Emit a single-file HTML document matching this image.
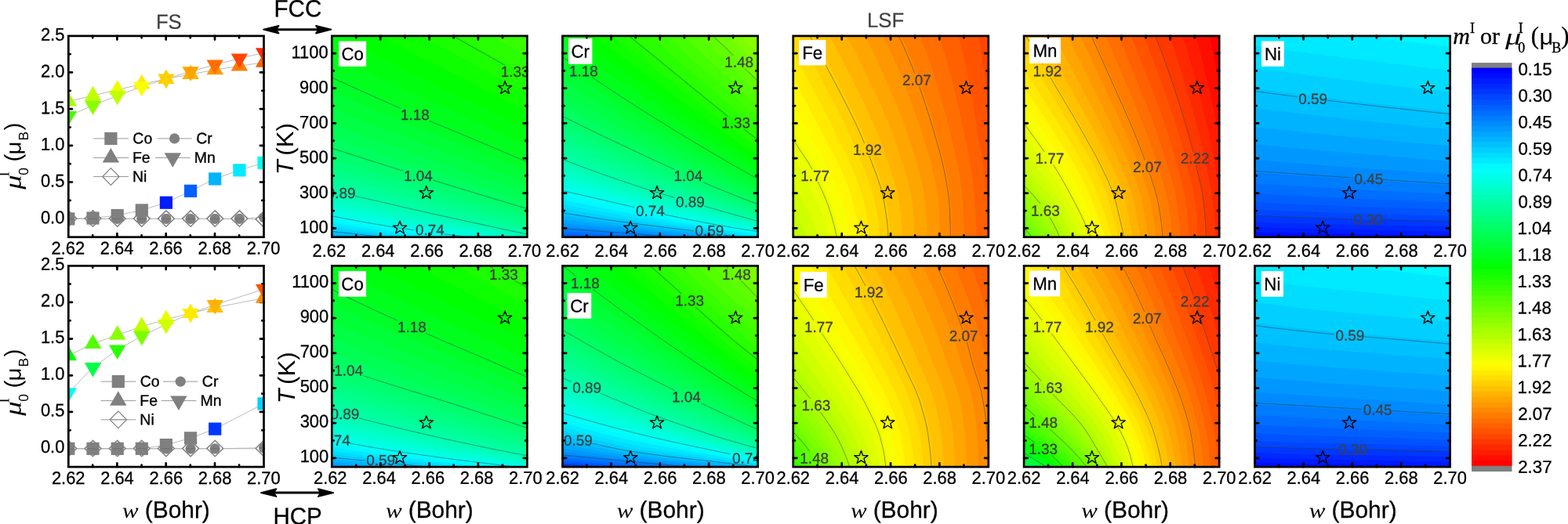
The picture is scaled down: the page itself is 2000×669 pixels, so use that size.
<!DOCTYPE html>
<html lang="en"><head><meta charset="utf-8"><title>Figure</title>
<style>html,body{margin:0;padding:0;background:#fff;overflow:hidden}svg{display:block}</style>
</head><body>
<svg width="2000" height="669" viewBox="0 0 2000 669">
<rect width="2000" height="669" fill="#fff"/>
<path d="M149.4,302.7v-4.7M149.4,45.9v4.7M211.7,302.7v-4.7M211.7,45.9v4.7M274,302.7v-4.7M274,45.9v4.7M87.3,279.2h4.7M336.6,279.2h-4.7M87.3,232.5h4.7M336.6,232.5h-4.7M87.3,185.8h4.7M336.6,185.8h-4.7M87.3,139.1h4.7M336.6,139.1h-4.7M87.3,92.4h4.7M336.6,92.4h-4.7M118.2,302.7v-2.4M118.2,45.9v2.4M180.6,302.7v-2.4M180.6,45.9v2.4M242.8,302.7v-2.4M242.8,45.9v2.4M305.1,302.7v-2.4M305.1,45.9v2.4M87.3,255.9h2.4M336.6,255.9h-2.4M87.3,209.2h2.4M336.6,209.2h-2.4M87.3,162.5h2.4M336.6,162.5h-2.4M87.3,115.8h2.4M336.6,115.8h-2.4M87.3,69.1h2.4M336.6,69.1h-2.4" stroke="#000" stroke-width="2.7" stroke-linecap="round" fill="none"/>
<clipPath id="f0"><rect x="87.3" y="45.9" width="249.2" height="256.8"/></clipPath>
<g clip-path="url(#f0)">
<path d="M87.3,279.4 118.5,278.5 149.7,275 180.8,268.4 211.9,258.7 243.1,243.8 274.2,228.4 305.4,217.3 336.6,207.8" fill="none" stroke="#b2b2b2" stroke-width="0.9"/>
<path d="M87.3,279.4 118.5,279.4 149.7,279.4 180.8,279.4 211.9,279.4 243.1,279.4 274.2,279.4 305.4,279.4 336.6,277.5" fill="none" stroke="#b2b2b2" stroke-width="0.9"/>
<path d="M87.3,129.4 118.5,122.2 149.7,114.6 180.8,107.3 211.9,100.8 243.1,94.9 274.2,89.1 305.4,84.3 336.6,79.6" fill="none" stroke="#b2b2b2" stroke-width="0.9"/>
<path d="M87.3,148.2 118.5,134.6 149.7,122 180.8,110.8 211.9,100.8 243.1,91.4 274.2,82.7 305.4,74.6 336.6,67.4" fill="none" stroke="#b2b2b2" stroke-width="0.9"/>
<path d="M87.3,279.4 118.5,279.4 149.7,279.4 180.8,279.4 211.9,279.4 243.1,279.4 274.2,279.4 305.4,279.4 336.6,280.3" fill="none" stroke="#b2b2b2" stroke-width="0.9"/>
<path d="M87.3,268.9l10.4,10.2l-10.4,10.2l-10.4,-10.2z" fill="#fff" stroke="#808080" stroke-width="1.5"/>
<path d="M118.5,268.9l10.4,10.2l-10.4,10.2l-10.4,-10.2z" fill="#fff" stroke="#808080" stroke-width="1.5"/>
<path d="M149.7,268.9l10.4,10.2l-10.4,10.2l-10.4,-10.2z" fill="#fff" stroke="#808080" stroke-width="1.5"/>
<path d="M180.8,268.9l10.4,10.2l-10.4,10.2l-10.4,-10.2z" fill="#fff" stroke="#808080" stroke-width="1.5"/>
<path d="M211.9,268.9l10.4,10.2l-10.4,10.2l-10.4,-10.2z" fill="#fff" stroke="#808080" stroke-width="1.5"/>
<path d="M243.1,268.9l10.4,10.2l-10.4,10.2l-10.4,-10.2z" fill="#fff" stroke="#808080" stroke-width="1.5"/>
<path d="M274.2,268.9l10.4,10.2l-10.4,10.2l-10.4,-10.2z" fill="#fff" stroke="#808080" stroke-width="1.5"/>
<path d="M305.4,268.9l10.4,10.2l-10.4,10.2l-10.4,-10.2z" fill="#fff" stroke="#808080" stroke-width="1.5"/>
<path d="M336.6,269.8l10.4,10.2l-10.4,10.2l-10.4,-10.2z" fill="#fff" stroke="#808080" stroke-width="1.5"/>
<rect x="79.2" y="271.3" width="16.2" height="16.2" fill="#808080"/>
<rect x="110.4" y="270.4" width="16.2" height="16.2" fill="#808080"/>
<rect x="141.6" y="266.9" width="16.2" height="16.2" fill="#808080"/>
<rect x="172.7" y="260.3" width="16.2" height="16.2" fill="#808080"/>
<rect x="203.8" y="250.6" width="16.2" height="16.2" fill="#001cff"/>
<rect x="235" y="235.7" width="16.2" height="16.2" fill="#0060ff"/>
<rect x="266.1" y="220.3" width="16.2" height="16.2" fill="#00b3ff"/>
<rect x="297.3" y="209.2" width="16.2" height="16.2" fill="#00eaff"/>
<rect x="328.4" y="199.7" width="16.2" height="16.2" fill="#00ffea"/>
<circle cx="87.3" cy="279.4" r="6.6" fill="#808080"/>
<circle cx="118.5" cy="279.4" r="6.6" fill="#808080"/>
<circle cx="149.7" cy="279.4" r="6.6" fill="#808080"/>
<circle cx="180.8" cy="279.4" r="6.6" fill="#808080"/>
<circle cx="211.9" cy="279.4" r="6.6" fill="#808080"/>
<circle cx="243.1" cy="279.4" r="6.6" fill="#808080"/>
<circle cx="274.2" cy="279.4" r="6.6" fill="#808080"/>
<circle cx="305.4" cy="279.4" r="6.6" fill="#808080"/>
<circle cx="336.6" cy="277.5" r="6.6" fill="#808080"/>
<path d="M87.3,117l10.7,18.6h-21.4z" fill="#a5ff00"/>
<path d="M118.5,109.8l10.7,18.6h-21.4z" fill="#c1ff00"/>
<path d="M149.7,102.2l10.7,18.6h-21.4z" fill="#eaff00"/>
<path d="M180.8,94.9l10.7,18.6h-21.4z" fill="#ffea00"/>
<path d="M211.9,88.4l10.7,18.6h-21.4z" fill="#ffcf00"/>
<path d="M243.1,82.5l10.7,18.6h-21.4z" fill="#ffb300"/>
<path d="M274.2,76.7l10.7,18.6h-21.4z" fill="#ff9800"/>
<path d="M305.4,71.9l10.7,18.6h-21.4z" fill="#ff7c00"/>
<path d="M336.6,67.2l10.7,18.6h-21.4z" fill="#ff6000"/>
<path d="M87.3,160.6l10.7,-18.6h-21.4z" fill="#45ff00"/>
<path d="M118.5,147l10.7,-18.6h-21.4z" fill="#8aff00"/>
<path d="M149.7,134.4l10.7,-18.6h-21.4z" fill="#c1ff00"/>
<path d="M180.8,123.2l10.7,-18.6h-21.4z" fill="#f8ff00"/>
<path d="M211.9,113.2l10.7,-18.6h-21.4z" fill="#ffcf00"/>
<path d="M243.1,103.8l10.7,-18.6h-21.4z" fill="#ffa500"/>
<path d="M274.2,95.1l10.7,-18.6h-21.4z" fill="#ff6e00"/>
<path d="M305.4,87l10.7,-18.6h-21.4z" fill="#ff4500"/>
<path d="M336.6,79.8l10.7,-18.6h-21.4z" fill="#ff2900"/>
<path d="M81,279.4h12.6M112.2,279.4h12.6M143.3,279.4h12.6M174.5,279.4h12.6M205.6,279.4h12.6M236.8,279.4h12.6M267.9,279.4h12.6M299.1,279.4h12.6M330.2,277.5h12.6" fill="none" stroke="#000" stroke-opacity="0.14" stroke-width="1"/>
</g>
<path d="M119.1,176.9H164" stroke="#999" stroke-width="1" fill="none"/>
<rect x="133.3" y="168.8" width="16.2" height="16.2" fill="#808080"/>
<text transform="translate(169.32 183.3) scale(0.99 1) rotate(0.03)" font-family="Liberation Sans, sans-serif" font-size="19.7" stroke="#000" stroke-width="0.3">Co</text>
<path d="M200.4,176.9H244.7" stroke="#999" stroke-width="1" fill="none"/>
<circle cx="222.6" cy="176.9" r="6.6" fill="#808080"/>
<text transform="translate(250.22 183.3) scale(0.99 1) rotate(0.03)" font-family="Liberation Sans, sans-serif" font-size="19.7" stroke="#000" stroke-width="0.3">Cr</text>
<path d="M119.1,201.4H164" stroke="#999" stroke-width="1" fill="none"/>
<path d="M141.4,189l10.7,18.6h-21.4z" fill="#808080"/>
<text transform="translate(168.94 207.8) scale(0.99 1) rotate(0.03)" font-family="Liberation Sans, sans-serif" font-size="19.7" stroke="#000" stroke-width="0.3">Fe</text>
<path d="M198,201.4H242.7" stroke="#999" stroke-width="1" fill="none"/>
<path d="M220.3,213.8l10.7,-18.6h-21.4z" fill="#808080"/>
<text transform="translate(247.84 207.8) scale(0.99 1) rotate(0.03)" font-family="Liberation Sans, sans-serif" font-size="19.7" stroke="#000" stroke-width="0.3">Mn</text>
<path d="M119.1,225.5H164" stroke="#999" stroke-width="1" fill="none"/>
<path d="M141.4,214.6l10.7,10.9l-10.7,10.9l-10.7,-10.9z" fill="none" stroke="#808080" stroke-width="1.2"/>
<path d="M131.4,225.5h20" stroke="#999" stroke-width="1" fill="none"/>
<text transform="translate(168.94 232) scale(0.99 1) rotate(0.03)" font-family="Liberation Sans, sans-serif" font-size="19.7" stroke="#000" stroke-width="0.3">Ni</text>
<rect x="87.3" y="45.9" width="249.2" height="256.8" fill="none" stroke="#000" stroke-width="2.7"/>
<text transform="translate(82.3 285.25) scale(0.96 1) rotate(0.03)" text-anchor="end" font-family="Liberation Sans, sans-serif" font-size="22.8" stroke="#000" stroke-width="0.3">0.0</text>
<text transform="translate(82.3 238.56) scale(0.96 1) rotate(0.03)" text-anchor="end" font-family="Liberation Sans, sans-serif" font-size="22.8" stroke="#000" stroke-width="0.3">0.5</text>
<text transform="translate(82.3 191.87) scale(0.96 1) rotate(0.03)" text-anchor="end" font-family="Liberation Sans, sans-serif" font-size="22.8" stroke="#000" stroke-width="0.3">1.0</text>
<text transform="translate(82.3 145.18) scale(0.96 1) rotate(0.03)" text-anchor="end" font-family="Liberation Sans, sans-serif" font-size="22.8" stroke="#000" stroke-width="0.3">1.5</text>
<text transform="translate(82.3 98.49) scale(0.96 1) rotate(0.03)" text-anchor="end" font-family="Liberation Sans, sans-serif" font-size="22.8" stroke="#000" stroke-width="0.3">2.0</text>
<text transform="translate(82.3 51.8) scale(0.96 1) rotate(0.03)" text-anchor="end" font-family="Liberation Sans, sans-serif" font-size="22.8" stroke="#000" stroke-width="0.3">2.5</text>
<g transform="translate(26.4,241.8) rotate(-89.97)" font-size="29.6"><text transform="scale(1.2 1)" font-family="Liberation Serif, serif" font-style="italic" font-size="30.5">μ</text><text x="16.3" y="-14.9" font-family="Liberation Serif, serif" font-size="19">I</text><text x="18" y="9.5" font-family="Liberation Sans, sans-serif" font-size="17.5">0</text><text x="35.3" y="0" font-family="Liberation Sans, sans-serif">(</text><text transform="translate(44.3 0) scale(1.09 1)" font-family="Liberation Sans, sans-serif" font-size="27.1">μ</text><text x="62.2" y="9.5" font-family="Liberation Sans, sans-serif" font-size="17.5">B</text><text x="75.2" y="0" font-family="Liberation Sans, sans-serif">)</text></g>
<path d="M149.4,596.1v-4.7M149.4,339.4v4.7M211.7,596.1v-4.7M211.7,339.4v4.7M274,596.1v-4.7M274,339.4v4.7M87.3,572.6h4.7M336.6,572.6h-4.7M87.3,525.9h4.7M336.6,525.9h-4.7M87.3,479.3h4.7M336.6,479.3h-4.7M87.3,432.6h4.7M336.6,432.6h-4.7M87.3,385.9h4.7M336.6,385.9h-4.7M118.2,596.1v-2.4M118.2,339.4v2.4M180.6,596.1v-2.4M180.6,339.4v2.4M242.8,596.1v-2.4M242.8,339.4v2.4M305.1,596.1v-2.4M305.1,339.4v2.4M87.3,549.3h2.4M336.6,549.3h-2.4M87.3,502.6h2.4M336.6,502.6h-2.4M87.3,455.9h2.4M336.6,455.9h-2.4M87.3,409.3h2.4M336.6,409.3h-2.4M87.3,362.6h2.4M336.6,362.6h-2.4" stroke="#000" stroke-width="2.7" stroke-linecap="round" fill="none"/>
<clipPath id="f1"><rect x="87.3" y="339.4" width="249.2" height="256.7"/></clipPath>
<g clip-path="url(#f1)">
<path d="M87.3,572.8 118.5,572.8 149.7,572.8 180.8,572.8 211.9,568.1 243.1,559.3 274.2,547.6 336.6,515.4" fill="none" stroke="#b2b2b2" stroke-width="0.9"/>
<path d="M87.3,572.8 118.5,572.8 149.7,572.8 180.8,572.8 211.9,572.8 243.1,572.8 274.2,572.8 336.6,571.8" fill="none" stroke="#b2b2b2" stroke-width="0.9"/>
<path d="M87.3,454 118.5,438.9 149.7,427.6 180.8,416.9 211.9,407.8 243.1,399.9 274.2,392.7 336.6,380.5" fill="none" stroke="#b2b2b2" stroke-width="0.9"/>
<path d="M87.3,501.5 118.5,469.2 149.7,446.7 180.8,429 211.9,414.1 243.1,400.1 274.2,389.2 336.6,369.1" fill="none" stroke="#b2b2b2" stroke-width="0.9"/>
<path d="M87.3,572.8 118.5,572.8 149.7,572.8 180.8,572.8 211.9,572.8 243.1,572.8 274.2,572.8 336.6,572.8" fill="none" stroke="#b2b2b2" stroke-width="0.9"/>
<path d="M87.3,562.3l10.4,10.2l-10.4,10.2l-10.4,-10.2z" fill="#fff" stroke="#808080" stroke-width="1.5"/>
<path d="M118.5,562.3l10.4,10.2l-10.4,10.2l-10.4,-10.2z" fill="#fff" stroke="#808080" stroke-width="1.5"/>
<path d="M149.7,562.3l10.4,10.2l-10.4,10.2l-10.4,-10.2z" fill="#fff" stroke="#808080" stroke-width="1.5"/>
<path d="M180.8,562.3l10.4,10.2l-10.4,10.2l-10.4,-10.2z" fill="#fff" stroke="#808080" stroke-width="1.5"/>
<path d="M211.9,562.3l10.4,10.2l-10.4,10.2l-10.4,-10.2z" fill="#fff" stroke="#808080" stroke-width="1.5"/>
<path d="M243.1,562.3l10.4,10.2l-10.4,10.2l-10.4,-10.2z" fill="#fff" stroke="#808080" stroke-width="1.5"/>
<path d="M274.2,562.3l10.4,10.2l-10.4,10.2l-10.4,-10.2z" fill="#fff" stroke="#808080" stroke-width="1.5"/>
<path d="M336.6,562.3l10.4,10.2l-10.4,10.2l-10.4,-10.2z" fill="#fff" stroke="#808080" stroke-width="1.5"/>
<rect x="79.2" y="564.7" width="16.2" height="16.2" fill="#808080"/>
<rect x="110.4" y="564.7" width="16.2" height="16.2" fill="#808080"/>
<rect x="141.6" y="564.7" width="16.2" height="16.2" fill="#808080"/>
<rect x="172.7" y="564.7" width="16.2" height="16.2" fill="#808080"/>
<rect x="203.8" y="560" width="16.2" height="16.2" fill="#808080"/>
<rect x="235" y="551.2" width="16.2" height="16.2" fill="#808080"/>
<rect x="266.1" y="539.5" width="16.2" height="16.2" fill="#0037ff"/>
<rect x="328.4" y="507.3" width="16.2" height="16.2" fill="#00cfff"/>
<circle cx="87.3" cy="572.8" r="6.6" fill="#808080"/>
<circle cx="118.5" cy="572.8" r="6.6" fill="#808080"/>
<circle cx="149.7" cy="572.8" r="6.6" fill="#808080"/>
<circle cx="180.8" cy="572.8" r="6.6" fill="#808080"/>
<circle cx="211.9" cy="572.8" r="6.6" fill="#808080"/>
<circle cx="243.1" cy="572.8" r="6.6" fill="#808080"/>
<circle cx="274.2" cy="572.8" r="6.6" fill="#808080"/>
<circle cx="336.6" cy="571.8" r="6.6" fill="#808080"/>
<path d="M87.3,441.6l10.7,18.6h-21.4z" fill="#00ff00"/>
<path d="M118.5,426.5l10.7,18.6h-21.4z" fill="#53ff00"/>
<path d="M149.7,415.2l10.7,18.6h-21.4z" fill="#8aff00"/>
<path d="M180.8,404.5l10.7,18.6h-21.4z" fill="#c1ff00"/>
<path d="M211.9,395.4l10.7,18.6h-21.4z" fill="#eaff00"/>
<path d="M243.1,387.5l10.7,18.6h-21.4z" fill="#ffea00"/>
<path d="M274.2,380.3l10.7,18.6h-21.4z" fill="#ffc100"/>
<path d="M336.6,368.1l10.7,18.6h-21.4z" fill="#ff8a00"/>
<path d="M87.3,513.9l10.7,-18.6h-21.4z" fill="#00ffea"/>
<path d="M118.5,481.6l10.7,-18.6h-21.4z" fill="#00ff45"/>
<path d="M149.7,459.1l10.7,-18.6h-21.4z" fill="#29ff00"/>
<path d="M180.8,441.4l10.7,-18.6h-21.4z" fill="#7cff00"/>
<path d="M211.9,426.5l10.7,-18.6h-21.4z" fill="#cfff00"/>
<path d="M243.1,412.5l10.7,-18.6h-21.4z" fill="#ffea00"/>
<path d="M274.2,401.6l10.7,-18.6h-21.4z" fill="#ffb300"/>
<path d="M336.6,381.5l10.7,-18.6h-21.4z" fill="#ff5300"/>
<path d="M81,572.8h12.6M112.2,572.8h12.6M143.3,572.8h12.6M174.5,572.8h12.6M205.6,572.8h12.6M236.8,572.8h12.6M267.9,572.8h12.6M330.2,571.8h12.6" fill="none" stroke="#000" stroke-opacity="0.14" stroke-width="1"/>
</g>
<path d="M128.5,487.1H173.4" stroke="#999" stroke-width="1" fill="none"/>
<rect x="142.7" y="479" width="16.2" height="16.2" fill="#808080"/>
<text transform="translate(178.72 493.55) scale(0.99 1) rotate(0.03)" font-family="Liberation Sans, sans-serif" font-size="19.7" stroke="#000" stroke-width="0.3">Co</text>
<path d="M208,487.1H252.3" stroke="#999" stroke-width="1" fill="none"/>
<circle cx="230.2" cy="487.1" r="6.6" fill="#808080"/>
<text transform="translate(257.82 493.55) scale(0.99 1) rotate(0.03)" font-family="Liberation Sans, sans-serif" font-size="19.7" stroke="#000" stroke-width="0.3">Cr</text>
<path d="M128.5,511.6H173.4" stroke="#999" stroke-width="1" fill="none"/>
<path d="M150.8,499.2l10.7,18.6h-21.4z" fill="#808080"/>
<text transform="translate(178.34 518.05) scale(0.99 1) rotate(0.03)" font-family="Liberation Sans, sans-serif" font-size="19.7" stroke="#000" stroke-width="0.3">Fe</text>
<path d="M205.6,511.6H250.3" stroke="#999" stroke-width="1" fill="none"/>
<path d="M227.9,524l10.7,-18.6h-21.4z" fill="#808080"/>
<text transform="translate(255.44 518.05) scale(0.99 1) rotate(0.03)" font-family="Liberation Sans, sans-serif" font-size="19.7" stroke="#000" stroke-width="0.3">Mn</text>
<path d="M128.5,535.8H173.4" stroke="#999" stroke-width="1" fill="none"/>
<path d="M150.8,524.9l10.7,10.9l-10.7,10.9l-10.7,-10.9z" fill="none" stroke="#808080" stroke-width="1.2"/>
<path d="M140.8,535.8h20" stroke="#999" stroke-width="1" fill="none"/>
<text transform="translate(178.34 542.25) scale(0.99 1) rotate(0.03)" font-family="Liberation Sans, sans-serif" font-size="19.7" stroke="#000" stroke-width="0.3">Ni</text>
<rect x="87.3" y="339.4" width="249.2" height="256.7" fill="none" stroke="#000" stroke-width="2.7"/>
<text transform="translate(82.3 578.06) scale(0.96 1) rotate(0.03)" text-anchor="end" font-family="Liberation Sans, sans-serif" font-size="22.8" stroke="#000" stroke-width="0.3">0.0</text>
<text transform="translate(82.3 531.39) scale(0.96 1) rotate(0.03)" text-anchor="end" font-family="Liberation Sans, sans-serif" font-size="22.8" stroke="#000" stroke-width="0.3">0.5</text>
<text transform="translate(82.3 484.72) scale(0.96 1) rotate(0.03)" text-anchor="end" font-family="Liberation Sans, sans-serif" font-size="22.8" stroke="#000" stroke-width="0.3">1.0</text>
<text transform="translate(82.3 438.05) scale(0.96 1) rotate(0.03)" text-anchor="end" font-family="Liberation Sans, sans-serif" font-size="22.8" stroke="#000" stroke-width="0.3">1.5</text>
<text transform="translate(82.3 391.37) scale(0.96 1) rotate(0.03)" text-anchor="end" font-family="Liberation Sans, sans-serif" font-size="22.8" stroke="#000" stroke-width="0.3">2.0</text>
<text transform="translate(82.3 344.7) scale(0.96 1) rotate(0.03)" text-anchor="end" font-family="Liberation Sans, sans-serif" font-size="22.8" stroke="#000" stroke-width="0.3">2.5</text>
<g transform="translate(26.4,530.8) rotate(-89.97)" font-size="29.6"><text transform="scale(1.2 1)" font-family="Liberation Serif, serif" font-style="italic" font-size="30.5">μ</text><text x="16.3" y="-14.9" font-family="Liberation Serif, serif" font-size="19">I</text><text x="18" y="9.5" font-family="Liberation Sans, sans-serif" font-size="17.5">0</text><text x="35.3" y="0" font-family="Liberation Sans, sans-serif">(</text><text transform="translate(44.3 0) scale(1.09 1)" font-family="Liberation Sans, sans-serif" font-size="27.1">μ</text><text x="62.2" y="9.5" font-family="Liberation Sans, sans-serif" font-size="17.5">B</text><text x="75.2" y="0" font-family="Liberation Sans, sans-serif">)</text></g>
<clipPath id="cCo0"><rect x="423.3" y="45.9" width="249.1" height="256.8"/></clipPath>
<g clip-path="url(#cCo0)">
<rect x="422.3" y="44.9" width="251.1" height="258.8" fill="#00a5ff"/>
<path d="M421.3,301 431.8,302 442.4,303 452.9,304 463.5,305 474,306 484.6,307 495.1,308.1 505.7,308.7 516.2,308.7 526.8,308.7 537.3,308.7 547.9,308.7 558.4,308.7 568.9,308.7 579.5,308.7 590,308.7 600.6,308.7 611.1,308.7 621.7,308.7 632.2,308.7 642.8,308.7 653.3,308.7 663.9,308.7 674.4,308.7 L675.4,37.9 420.3,37.9Z" fill="#00b3ff"/>
<path d="M421.3,298 431.8,299.1 442.4,300.1 452.9,301.2 463.5,302.2 474,303.3 484.6,304.4 495.1,305.4 505.7,306.5 516.2,307.6 526.8,308.7 537.3,308.7 547.9,308.7 558.4,308.7 568.9,308.7 579.5,308.7 590,308.7 600.6,308.7 611.1,308.7 621.7,308.7 632.2,308.7 642.8,308.7 653.3,308.7 663.9,308.7 674.4,308.7 L675.4,37.9 420.3,37.9Z" fill="#00c1ff"/>
<path d="M421.3,294.8 431.8,296 442.4,297.1 452.9,298.2 463.5,299.4 474,300.5 484.6,301.6 495.1,302.7 505.7,303.9 516.2,305 526.8,306.1 537.3,307.3 547.9,308.4 558.4,308.7 568.9,308.7 579.5,308.7 590,308.7 600.6,308.7 611.1,308.7 621.7,308.7 632.2,308.7 642.8,308.7 653.3,308.7 663.9,308.7 674.4,308.7 L675.4,37.9 420.3,37.9Z" fill="#00cfff"/>
<path d="M421.3,291.5 431.8,292.7 442.4,294 452.9,295.2 463.5,296.5 474,297.7 484.6,299 495.1,300.2 505.7,301.4 516.2,302.6 526.8,303.8 537.3,304.9 547.9,306.1 558.4,307.3 568.9,308.4 579.5,308.7 590,308.7 600.6,308.7 611.1,308.7 621.7,308.7 632.2,308.7 642.8,308.7 653.3,308.7 663.9,308.7 674.4,308.7 L675.4,37.9 420.3,37.9Z" fill="#00ddff"/>
<path d="M421.3,287.9 431.8,289.3 442.4,290.8 452.9,292.2 463.5,293.6 474,295 484.6,296.3 495.1,297.7 505.7,299 516.2,300.3 526.8,301.5 537.3,302.7 547.9,303.9 558.4,305.1 568.9,306.3 579.5,307.5 590,308.7 600.6,308.7 611.1,308.7 621.7,308.7 632.2,308.7 642.8,308.7 653.3,308.7 663.9,308.7 674.4,308.7 L675.4,37.9 420.3,37.9Z" fill="#00eaff"/>
<path d="M421.3,284 431.8,285.6 442.4,287.3 452.9,288.9 463.5,290.5 474,292.1 484.6,293.6 495.1,295 505.7,296.4 516.2,297.8 526.8,299.1 537.3,300.4 547.9,301.6 558.4,302.9 568.9,304.1 579.5,305.3 590,306.6 600.6,307.9 611.1,308.7 621.7,308.7 632.2,308.7 642.8,308.7 653.3,308.7 663.9,308.7 674.4,308.7 L675.4,37.9 420.3,37.9Z" fill="#00f8ff"/>
<path d="M421.3,279.7 431.8,281.6 442.4,283.5 452.9,285.3 463.5,287.1 474,288.8 484.6,290.4 495.1,292 505.7,293.6 516.2,295.1 526.8,296.5 537.3,297.8 547.9,299.1 558.4,300.4 568.9,301.7 579.5,303 590,304.3 600.6,305.7 611.1,307 621.7,308.4 632.2,308.7 642.8,308.7 653.3,308.7 663.9,308.7 674.4,308.7 L675.4,37.9 420.3,37.9Z" fill="#00fff8"/>
<path d="M421.3,275.1 431.8,277.2 442.4,279.2 452.9,281.2 463.5,283.1 474,285 484.6,286.8 495.1,288.5 505.7,290.2 516.2,291.8 526.8,293.3 537.3,294.7 547.9,296.1 558.4,297.5 568.9,298.8 579.5,300.2 590,301.6 600.6,303 611.1,304.5 621.7,305.9 632.2,307.4 642.8,308.7 653.3,308.7 663.9,308.7 674.4,308.7 L675.4,37.9 420.3,37.9Z" fill="#00ffea"/>
<path d="M421.3,270 431.8,272.2 442.4,274.3 452.9,276.4 463.5,278.4 474,280.4 484.6,282.4 495.1,284.3 505.7,286.1 516.2,287.8 526.8,289.4 537.3,291 547.9,292.5 558.4,294 568.9,295.4 579.5,296.9 590,298.5 600.6,300 611.1,301.6 621.7,303.2 632.2,304.7 642.8,306.3 653.3,307.9 663.9,308.7 674.4,308.7 L675.4,37.9 420.3,37.9Z" fill="#00ffdd"/>
<path d="M421.3,264.4 431.8,266.6 442.4,268.7 452.9,270.9 463.5,273 474,275.1 484.6,277.1 495.1,279.1 505.7,281.1 516.2,283 526.8,284.8 537.3,286.5 547.9,288.2 558.4,289.9 568.9,291.5 579.5,293.2 590,294.9 600.6,296.7 611.1,298.4 621.7,300.1 632.2,301.8 642.8,303.5 653.3,305.2 663.9,306.9 674.4,308.7 L675.4,37.9 420.3,37.9Z" fill="#00ffcf"/>
<path d="M421.3,258.3 431.8,260.4 442.4,262.5 452.9,264.6 463.5,266.8 474,269 484.6,271.1 495.1,273.3 505.7,275.4 516.2,277.5 526.8,279.5 537.3,281.4 547.9,283.3 558.4,285.2 568.9,287.1 579.5,289 590,290.9 600.6,292.8 611.1,294.7 621.7,296.6 632.2,298.5 642.8,300.4 653.3,302.3 663.9,304.2 674.4,306 L675.4,37.9 420.3,37.9Z" fill="#00ffc1"/>
<path d="M421.3,251.4 431.8,253.5 442.4,255.6 452.9,257.8 463.5,260 474,262.3 484.6,264.6 495.1,266.8 505.7,269.1 516.2,271.4 526.8,273.6 537.3,275.8 547.9,277.9 558.4,280.1 568.9,282.2 579.5,284.3 590,286.4 600.6,288.5 611.1,290.6 621.7,292.7 632.2,294.8 642.8,296.8 653.3,298.9 663.9,301 674.4,303 L675.4,37.9 420.3,37.9Z" fill="#00ffb3"/>
<path d="M421.3,243.9 431.8,246 442.4,248.2 452.9,250.4 463.5,252.7 474,255.1 484.6,257.5 495.1,259.9 505.7,262.4 516.2,264.8 526.8,267.3 537.3,269.7 547.9,272 558.4,274.4 568.9,276.7 579.5,279 590,281.3 600.6,283.6 611.1,285.9 621.7,288.2 632.2,290.5 642.8,292.8 653.3,295 663.9,297.2 674.4,299.5 L675.4,37.9 420.3,37.9Z" fill="#00ffa5"/>
<path d="M421.3,235.3 431.8,237.6 442.4,239.9 452.9,242.3 463.5,244.8 474,247.3 484.6,249.8 495.1,252.4 505.7,255.1 516.2,257.7 526.8,260.3 537.3,262.9 547.9,265.4 558.4,268 568.9,270.5 579.5,273 590,275.5 600.6,278 611.1,280.5 621.7,282.9 632.2,285.4 642.8,287.8 653.3,290.2 663.9,292.7 674.4,295.1 L675.4,37.9 420.3,37.9Z" fill="#00ff98"/>
<path d="M421.3,225.7 431.8,228.2 442.4,230.7 452.9,233.3 463.5,235.9 474,238.6 484.6,241.3 495.1,244.1 505.7,246.9 516.2,249.7 526.8,252.4 537.3,255.2 547.9,257.9 558.4,260.6 568.9,263.3 579.5,266 590,268.7 600.6,271.3 611.1,274 621.7,276.6 632.2,279.2 642.8,281.8 653.3,284.4 663.9,287 674.4,289.6 L675.4,37.9 420.3,37.9Z" fill="#00ff8a"/>
<path d="M421.3,214.8 431.8,217.6 442.4,220.4 452.9,223.2 463.5,226.1 474,229 484.6,231.9 495.1,234.8 505.7,237.8 516.2,240.7 526.8,243.6 537.3,246.5 547.9,249.4 558.4,252.3 568.9,255.1 579.5,258 590,260.8 600.6,263.7 611.1,266.5 621.7,269.3 632.2,272.1 642.8,274.9 653.3,277.6 663.9,280.4 674.4,283.2 L675.4,37.9 420.3,37.9Z" fill="#00ff7c"/>
<path d="M421.3,202.8 431.8,205.9 442.4,209 452.9,212 463.5,215.1 474,218.3 484.6,221.4 495.1,224.5 505.7,227.6 516.2,230.7 526.8,233.8 537.3,236.9 547.9,239.9 558.4,243 568.9,246 579.5,249 590,252 600.6,255.1 611.1,258.1 621.7,261 632.2,264 642.8,267 653.3,269.9 663.9,272.9 674.4,275.8 L675.4,37.9 420.3,37.9Z" fill="#00ff6e"/>
<path d="M421.3,189.6 431.8,192.9 442.4,196.3 452.9,199.7 463.5,203 474,206.3 484.6,209.7 495.1,213 505.7,216.3 516.2,219.6 526.8,222.9 537.3,226.2 547.9,229.4 558.4,232.6 568.9,235.9 579.5,239.1 590,242.3 600.6,245.5 611.1,248.7 621.7,251.9 632.2,255.1 642.8,258.3 653.3,261.4 663.9,264.6 674.4,267.7 L675.4,37.9 420.3,37.9Z" fill="#00ff60"/>
<path d="M421.3,174.4 431.8,178.1 442.4,181.7 452.9,185.4 463.5,189 474,192.6 484.6,196.1 495.1,199.7 505.7,203.2 516.2,206.8 526.8,210.3 537.3,213.8 547.9,217.3 558.4,220.7 568.9,224.2 579.5,227.6 590,231 600.6,234.5 611.1,237.9 621.7,241.3 632.2,244.7 642.8,248.1 653.3,251.5 663.9,254.9 674.4,258.3 L675.4,37.9 420.3,37.9Z" fill="#00ff53"/>
<path d="M421.3,156.7 431.8,160.7 442.4,164.7 452.9,168.6 463.5,172.5 474,176.4 484.6,180.3 495.1,184.1 505.7,187.9 516.2,191.7 526.8,195.5 537.3,199.3 547.9,203 558.4,206.7 568.9,210.4 579.5,214 590,217.7 600.6,221.4 611.1,225 621.7,228.7 632.2,232.4 642.8,236.1 653.3,239.7 663.9,243.4 674.4,247.1 L675.4,37.9 420.3,37.9Z" fill="#00ff45"/>
<path d="M421.3,137.1 431.8,141.3 442.4,145.6 452.9,149.9 463.5,154.1 474,158.3 484.6,162.4 495.1,166.6 505.7,170.7 516.2,174.8 526.8,178.9 537.3,182.9 547.9,186.9 558.4,190.9 568.9,194.8 579.5,198.7 590,202.6 600.6,206.5 611.1,210.4 621.7,214.4 632.2,218.3 642.8,222.3 653.3,226.2 663.9,230.2 674.4,234.2 L675.4,37.9 420.3,37.9Z" fill="#00ff37"/>
<path d="M421.3,115.8 431.8,120.4 442.4,125 452.9,129.5 463.5,134.1 474,138.6 484.6,143 495.1,147.5 505.7,151.9 516.2,156.3 526.8,160.7 537.3,165 547.9,169.3 558.4,173.5 568.9,177.7 579.5,181.8 590,186 600.6,190.2 611.1,194.4 621.7,198.6 632.2,202.8 642.8,207.1 653.3,211.3 663.9,215.6 674.4,219.9 L675.4,37.9 420.3,37.9Z" fill="#00ff29"/>
<path d="M421.3,93.5 431.8,98.3 442.4,103.2 452.9,108 463.5,112.9 474,117.6 484.6,122.4 495.1,127.1 505.7,131.8 516.2,136.5 526.8,141.2 537.3,145.8 547.9,150.4 558.4,154.9 568.9,159.3 579.5,163.7 590,168.1 600.6,172.6 611.1,177.1 621.7,181.6 632.2,186.1 642.8,190.7 653.3,195.2 663.9,199.8 674.4,204.4 L675.4,37.9 420.3,37.9Z" fill="#00ff1c"/>
<path d="M421.3,68.7 431.8,73.8 442.4,78.9 452.9,84 463.5,89.1 474,94.1 484.6,99.2 495.1,104.2 505.7,109.1 516.2,114.1 526.8,119 537.3,123.9 547.9,128.8 558.4,133.6 568.9,138.3 579.5,143 590,147.7 600.6,152.5 611.1,157.3 621.7,162.1 632.2,167 642.8,171.8 653.3,176.7 663.9,181.5 674.4,186.4 L675.4,37.9 420.3,37.9Z" fill="#00ff0e"/>
<path d="M421.3,41.5 431.8,46.8 442.4,52.1 452.9,57.5 463.5,62.8 474,68 484.6,73.3 495.1,78.5 505.7,83.8 516.2,89 526.8,94.2 537.3,99.4 547.9,104.5 558.4,109.6 568.9,114.7 579.5,119.7 590,124.8 600.6,129.9 611.1,135 621.7,140.1 632.2,145.2 642.8,150.4 653.3,155.5 663.9,160.7 674.4,165.9 L675.4,37.9 420.3,37.9Z" fill="#00ff00"/>
<path d="M421.3,39.9 431.8,39.9 442.4,39.9 452.9,39.9 463.5,39.9 474,40.3 484.6,45.8 495.1,51.3 505.7,56.8 516.2,62.3 526.8,67.7 537.3,73.2 547.9,78.6 558.4,84 568.9,89.4 579.5,94.7 590,100.1 600.6,105.5 611.1,110.9 621.7,116.4 632.2,121.8 642.8,127.3 653.3,132.7 663.9,138.2 674.4,143.6 L675.4,37.9 420.3,37.9Z" fill="#0eff00"/>
<path d="M421.3,39.9 431.8,39.9 442.4,39.9 452.9,39.9 463.5,39.9 474,39.9 484.6,39.9 495.1,39.9 505.7,39.9 516.2,39.9 526.8,40.6 537.3,46.3 547.9,52 558.4,57.6 568.9,63.3 579.5,69 590,74.7 600.6,80.4 611.1,86.1 621.7,91.8 632.2,97.6 642.8,103.3 653.3,109 663.9,114.7 674.4,120.5 L675.4,37.9 420.3,37.9Z" fill="#1cff00"/>
<path d="M421.3,39.9 431.8,39.9 442.4,39.9 452.9,39.9 463.5,39.9 474,39.9 484.6,39.9 495.1,39.9 505.7,39.9 516.2,39.9 526.8,39.9 537.3,39.9 547.9,39.9 558.4,39.9 568.9,39.9 579.5,43.4 590,49.4 600.6,55.4 611.1,61.4 621.7,67.3 632.2,73.3 642.8,79.3 653.3,85.3 663.9,91.2 674.4,97.2 L675.4,37.9 420.3,37.9Z" fill="#29ff00"/>
<path d="M421.3,39.9 431.8,39.9 442.4,39.9 452.9,39.9 463.5,39.9 474,39.9 484.6,39.9 495.1,39.9 505.7,39.9 516.2,39.9 526.8,39.9 537.3,39.9 547.9,39.9 558.4,39.9 568.9,39.9 579.5,39.9 590,39.9 600.6,39.9 611.1,39.9 621.7,42.5 632.2,48.7 642.8,54.9 653.3,61.1 663.9,67.3 674.4,73.5 L675.4,37.9 420.3,37.9Z" fill="#37ff00"/>
<path d="M421.3,39.9 431.8,39.9 442.4,39.9 452.9,39.9 463.5,39.9 474,39.9 484.6,39.9 495.1,39.9 505.7,39.9 516.2,39.9 526.8,39.9 537.3,39.9 547.9,39.9 558.4,39.9 568.9,39.9 579.5,39.9 590,39.9 600.6,39.9 611.1,39.9 621.7,39.9 632.2,39.9 642.8,39.9 653.3,39.9 663.9,42.5 674.4,48.8 L675.4,37.9 420.3,37.9Z" fill="#45ff00"/>
<path d="M421.3,308.3 423.4,308.5 427.6,308.9 431.8,309.3 436.1,309.7 440.3,310.1 444.5,310.5 448.7,310.9 452.9,311.3 457.2,311.7 461.4,312.1 465.6,312.5 469.8,312.9 474,313.3 478.2,313.7 482.5,314.1 486.7,314.5 490.9,314.9 495.1,315.3 499.3,315.7 503.6,316.1 507.8,316.5 512,316.9 516.2,317.3 520.4,317.7 524.6,318.1 528.9,318.5 533.1,318.9 537.3,319.3 541.5,319.7 545.7,320.1 550,320.5 554.2,320.9 558.4,321.3 562.6,321.7 566.8,322.1 571.1,322.5 575.3,322.9 579.5,323.3 583.7,323.7 587.9,324.1 592.1,324.5 596.4,324.9 600.6,325.3 604.8,325.7 609,326.1 613.2,326.5 617.5,326.9 621.7,327.3 625.9,327.6 630.1,328 634.3,328.4 638.5,328.8 642.8,329.2 647,329.6 651.2,330 655.4,330.4 659.6,330.8 663.9,331.2 668.1,331.6 672.3,332 674.4,332.2" fill="none" stroke="#303030" stroke-opacity="0.8" stroke-width="0.62"/>
<path d="M421.3,295.3 423.4,295.5 427.6,295.9 431.8,296.4 436.1,296.8 440.3,297.3 444.5,297.7 448.7,298.2 452.9,298.6 457.2,299.1 461.4,299.5 465.6,300 469.8,300.4 474,300.9 478.2,301.3 482.5,301.8 486.7,302.2 490.9,302.7 495.1,303.1 499.3,303.6 503.6,304 507.8,304.5 512,304.9 516.2,305.4 520.4,305.8 524.6,306.3 528.9,306.7 533.1,307.2 537.3,307.6 541.5,308.1 545.7,308.5 550,309 554.2,309.4 558.4,309.9 562.6,310.3 566.8,310.8 571.1,311.2 575.3,311.7 579.5,312.1 583.7,312.6 587.9,313 592.1,313.5 596.4,313.9 600.6,314.4 604.8,314.8 609,315.3 613.2,315.7 617.5,316.2 621.7,316.6 625.9,317.1 630.1,317.5 634.3,318 638.5,318.4 642.8,318.9 647,319.3 651.2,319.8 655.4,320.2 659.6,320.7 663.9,321.1 668.1,321.6 672.3,322 674.4,322.3" fill="none" stroke="#303030" stroke-opacity="0.8" stroke-width="0.62"/>
<path d="M421.3,275.5 423.4,275.8 427.6,276.6 431.8,277.5 436.1,278.3 440.3,279.1 444.5,279.9 448.7,280.7 452.9,281.5 457.2,282.3 461.4,283 465.6,283.8 469.8,284.5 474,285.3 478.2,286 482.5,286.7 486.7,287.4 490.9,288.1 495.1,288.8 499.3,289.5 503.6,290.1 507.8,290.8 512,291.4 516.2,292.1 520.4,292.7 524.6,293.3 528.2,293.7" fill="none" stroke="#303030" stroke-opacity="0.8" stroke-width="0.62"/>
<path d="M566.1,298.7 568.2,298.9 572.5,299.5 576.7,300 580.9,300.6 585.1,301.1 589.3,301.7 593.5,302.3 597.8,302.9 602,303.4 606.2,304 610.4,304.6 614.6,305.1 618.9,305.7 623.1,306.3 627.3,306.9 631.5,307.4 635.7,308 640,308.6 644.2,309.2 648.4,309.8 652.6,310.3 656.8,310.9 661,311.5 665.3,312.1 669.5,312.7 673.7,313.2 674.4,313.3" fill="none" stroke="#303030" stroke-opacity="0.8" stroke-width="0.62"/>
<path d="M452.9,250.4 455,250.9 459.3,251.8 463.5,252.7 467.7,253.6 471.9,254.6 476.1,255.6 480.4,256.5 484.6,257.5 488.8,258.5 493,259.4 497.2,260.4 501.4,261.4 505.7,262.4 509.9,263.4 514.1,264.4 518.3,265.3 522.5,266.3 526.8,267.3 531,268.2 535.2,269.2 539.4,270.1 543.6,271.1 547.9,272 552.1,273 556.3,273.9 560.5,274.8 564.7,275.8 568.9,276.7 573.2,277.6 577.4,278.6 581.6,279.5 585.8,280.4 590,281.3 594.3,282.3 598.5,283.2 602.7,284.1 606.9,285 611.1,285.9 615.3,286.8 619.6,287.8 623.8,288.7 628,289.6 632.2,290.5 636.4,291.4 640.7,292.3 644.9,293.2 649.1,294.1 653.3,295 657.5,295.9 661.7,296.8 666,297.7 670.2,298.6 674.4,299.5" fill="none" stroke="#303030" stroke-opacity="0.8" stroke-width="0.62"/>
<path d="M421.3,188.6 423.4,189.3 427.6,190.6 431.8,192 436.1,193.4 440.3,194.7 444.5,196.1 448.7,197.4 452.9,198.8 457.2,200.1 461.4,201.5 465.6,202.8 469.8,204.2 474,205.5 478.2,206.8 482.5,208.2 486.7,209.5 490.9,210.8 495.1,212.2 499.3,213.5 503.6,214.8 507.8,216.2 512,217.5 514.1,218.1" fill="none" stroke="#303030" stroke-opacity="0.8" stroke-width="0.62"/>
<path d="M552.1,230 554.2,230.6 558.4,231.9 562.6,233.2 566.8,234.5 571.1,235.8 575.3,237.1 579.5,238.4 583.7,239.7 587.9,241 592.1,242.3 596.4,243.5 600.6,244.8 604.8,246.1 609,247.4 613.2,248.7 617.5,250 621.7,251.3 625.9,252.5 630.1,253.8 634.3,255.1 638.5,256.4 642.8,257.6 647,258.9 651.2,260.2 655.4,261.4 659.6,262.7 663.9,264 668.1,265.2 672.3,266.5 674.4,267.1" fill="none" stroke="#303030" stroke-opacity="0.8" stroke-width="0.62"/>
<path d="M421.3,98.1 423.4,99.1 427.6,101 431.8,102.9 436.1,104.8 440.3,106.8 444.5,108.7 448.7,110.6 452.9,112.5 457.2,114.4 461.4,116.3 465.6,118.2 469.8,120.1 474,122 478.2,123.9 482.5,125.8 486.7,127.6 490.9,129.5 495.1,131.4 499.3,133.2 503.6,135.1 507.8,137 511.3,138.5" fill="none" stroke="#303030" stroke-opacity="0.8" stroke-width="0.62"/>
<path d="M547.9,154.4 550,155.2 554.2,157 558.4,158.8 562.6,160.5 566.8,162.3 571.1,164 575.3,165.8 579.5,167.5 583.7,169.2 587.9,171 592.1,172.8 596.4,174.5 600.6,176.3 604.8,178.1 609,179.8 613.2,181.6 617.5,183.4 621.7,185.2 625.9,187 630.1,188.8 634.3,190.5 638.5,192.3 642.8,194.1 647,195.9 651.2,197.7 655.4,199.5 659.6,201.3 663.9,203.1 668.1,204.9 672.3,206.7 674.4,207.6" fill="none" stroke="#303030" stroke-opacity="0.8" stroke-width="0.62"/>
<path d="M421.3,-41.5 423.4,-40.3 427.6,-38 431.8,-35.6 436.1,-33.3 440.3,-31 444.5,-28.6 448.7,-26.3 452.9,-23.9 457.2,-21.6 461.4,-19.2 465.6,-16.9 469.8,-14.5 474,-12.2 478.2,-9.8 482.5,-7.5 486.7,-5.1 490.9,-2.7 495.1,-0.4 499.3,2 503.6,4.3 507.8,6.7 512,9 516.2,11.4 520.4,13.8 524.6,16.1 528.9,18.5 533.1,20.9 537.3,23.2 541.5,25.6 545.7,27.9 550,30.3 554.2,32.7 558.4,35 562.6,37.4 566.8,39.8 571.1,42.1 575.3,44.5 579.5,46.9 583.7,49.2 587.9,51.6 592.1,54 596.4,56.4 600.6,58.7 604.8,61.1 609,63.5 613.2,65.9 617.5,68.2 621.7,70.6 625.9,73 630.1,75.4 634.3,77.8 638.5,80.1 642.8,82.5 644.2,83.3" fill="none" stroke="#303030" stroke-opacity="0.8" stroke-width="0.62"/>
<path d="M672.3,99.2 673,99.6 673.7,100 674.4,100.4" fill="none" stroke="#303030" stroke-opacity="0.8" stroke-width="0.62"/>
<path d="M421.3,-191.7 423.4,-190.4 427.6,-187.7 431.8,-184.9 436.1,-182.2 440.3,-179.5 444.5,-176.8 448.7,-174.1 452.9,-171.3 457.2,-168.6 461.4,-165.9 465.6,-163.2 469.8,-160.4 474,-157.7 478.2,-155 482.5,-152.3 486.7,-149.6 490.9,-146.8 495.1,-144.1 499.3,-141.4 503.6,-138.7 507.8,-136 512,-133.2 516.2,-130.5 520.4,-127.8 524.6,-125.1 528.9,-122.3 533.1,-119.6 537.3,-116.9 541.5,-114.2 545.7,-111.5 550,-108.7 554.2,-106 558.4,-103.3 562.6,-100.6 566.8,-97.9 571.1,-95.1 575.3,-92.4 579.5,-89.7 583.7,-87 587.9,-84.2 592.1,-81.5 596.4,-78.8 600.6,-76.1 604.8,-73.4 609,-70.6 613.2,-67.9 617.5,-65.2 621.7,-62.5 625.9,-59.7 630.1,-57 634.3,-54.3 638.5,-51.6 642.8,-48.9 647,-46.1 651.2,-43.4 655.4,-40.7 659.6,-38 663.9,-35.3 668.1,-32.5 672.3,-29.8 674.4,-28.5" fill="none" stroke="#303030" stroke-opacity="0.8" stroke-width="0.62"/>
<text transform="translate(638.79 97.9) rotate(0.03)" font-family="Liberation Sans, sans-serif" font-size="18.9" fill="#404040" stroke="#404040" stroke-width="0.3">1.33</text>
<text transform="translate(510.99 153.1) rotate(0.03)" font-family="Liberation Sans, sans-serif" font-size="18.9" fill="#404040" stroke="#404040" stroke-width="0.3">1.18</text>
<text transform="translate(515.09 231) rotate(0.03)" font-family="Liberation Sans, sans-serif" font-size="18.9" fill="#404040" stroke="#404040" stroke-width="0.3">1.04</text>
<text transform="translate(416.84 253) rotate(0.03)" font-family="Liberation Sans, sans-serif" font-size="18.9" fill="#404040" stroke="#404040" stroke-width="0.3">0.89</text>
<text transform="translate(529.94 300) rotate(0.03)" font-family="Liberation Sans, sans-serif" font-size="18.9" fill="#404040" stroke="#404040" stroke-width="0.3">0.74</text>
</g>
<rect x="432.1" y="52.6" width="35" height="32.3" fill="#fff"/>
<text transform="translate(449.6 76.85) scale(0.975 1) rotate(0.03)" text-anchor="middle" font-family="Liberation Sans, sans-serif" font-size="22.8" stroke="#000" stroke-width="0.3">Co</text>
<polygon points="510.0,282.2 512.2,288.0 518.7,288.2 513.5,292.0 515.4,298.0 510.0,294.5 504.7,298.0 506.5,292.0 501.4,288.2 507.8,288.0" fill="none" stroke="#000" stroke-width="1.35" stroke-linejoin="round"/>
<polygon points="543.8,237.5 546.0,243.4 552.5,243.6 547.3,247.4 549.2,253.4 543.8,249.8 538.5,253.4 540.3,247.4 535.1,243.6 541.6,243.4" fill="none" stroke="#000" stroke-width="1.35" stroke-linejoin="round"/>
<polygon points="644.1,103.5 646.2,109.4 652.7,109.6 647.6,113.4 649.4,119.4 644.1,115.9 638.7,119.4 640.5,113.4 635.4,109.6 641.9,109.4" fill="none" stroke="#000" stroke-width="1.35" stroke-linejoin="round"/>
<path d="M485.3,302.7v-4.7M485.3,45.9v4.7M547.6,302.7v-4.7M547.6,45.9v4.7M609.9,302.7v-4.7M609.9,45.9v4.7M423.3,291.4h4.7M672.4,291.4h-4.7M423.3,246.7h4.7M672.4,246.7h-4.7M423.3,202.1h4.7M672.4,202.1h-4.7M423.3,157.4h4.7M672.4,157.4h-4.7M423.3,112.7h4.7M672.4,112.7h-4.7M423.3,68.1h4.7M672.4,68.1h-4.7M454.2,302.7v-2.4M454.2,45.9v2.4M516.5,302.7v-2.4M516.5,45.9v2.4M578.7,302.7v-2.4M578.7,45.9v2.4M641,302.7v-2.4M641,45.9v2.4M423.3,269.1h2.4M672.4,269.1h-2.4M423.3,224.4h2.4M672.4,224.4h-2.4M423.3,179.7h2.4M672.4,179.7h-2.4M423.3,135.1h2.4M672.4,135.1h-2.4M423.3,90.4h2.4M672.4,90.4h-2.4" stroke="#000" stroke-width="2.7" stroke-linecap="round" fill="none"/>
<rect x="423.3" y="45.9" width="249.1" height="256.8" fill="none" stroke="#000" stroke-width="2.7"/>
<text transform="translate(419.9 327.7) scale(0.96 1) rotate(0.03)" text-anchor="middle" font-family="Liberation Sans, sans-serif" font-size="22.8" stroke="#000" stroke-width="0.3">2.62</text>
<text transform="translate(482.18 327.7) scale(0.96 1) rotate(0.03)" text-anchor="middle" font-family="Liberation Sans, sans-serif" font-size="22.8" stroke="#000" stroke-width="0.3">2.64</text>
<text transform="translate(544.45 327.7) scale(0.96 1) rotate(0.03)" text-anchor="middle" font-family="Liberation Sans, sans-serif" font-size="22.8" stroke="#000" stroke-width="0.3">2.66</text>
<text transform="translate(606.73 327.7) scale(0.96 1) rotate(0.03)" text-anchor="middle" font-family="Liberation Sans, sans-serif" font-size="22.8" stroke="#000" stroke-width="0.3">2.68</text>
<text transform="translate(669 327.7) scale(0.96 1) rotate(0.03)" text-anchor="middle" font-family="Liberation Sans, sans-serif" font-size="22.8" stroke="#000" stroke-width="0.3">2.70</text>
<text transform="translate(418.6 297.63) scale(0.96 1) rotate(0.03)" text-anchor="end" font-family="Liberation Sans, sans-serif" font-size="22.8" stroke="#000" stroke-width="0.3">100</text>
<text transform="translate(418.6 252.97) scale(0.96 1) rotate(0.03)" text-anchor="end" font-family="Liberation Sans, sans-serif" font-size="22.8" stroke="#000" stroke-width="0.3">300</text>
<text transform="translate(418.6 208.31) scale(0.96 1) rotate(0.03)" text-anchor="end" font-family="Liberation Sans, sans-serif" font-size="22.8" stroke="#000" stroke-width="0.3">500</text>
<text transform="translate(418.6 163.65) scale(0.96 1) rotate(0.03)" text-anchor="end" font-family="Liberation Sans, sans-serif" font-size="22.8" stroke="#000" stroke-width="0.3">700</text>
<text transform="translate(418.6 118.99) scale(0.96 1) rotate(0.03)" text-anchor="end" font-family="Liberation Sans, sans-serif" font-size="22.8" stroke="#000" stroke-width="0.3">900</text>
<text transform="translate(418.6 74.33) scale(0.96 1) rotate(0.03)" text-anchor="end" font-family="Liberation Sans, sans-serif" font-size="22.8" stroke="#000" stroke-width="0.3">1100</text>
<g transform="translate(374.1,222.9) rotate(-89.97)" font-family="Liberation Sans, sans-serif" font-size="30.5"><text font-style="italic">T</text><text transform="translate(24.2 0) scale(1.025 1)">(K)</text></g>
<clipPath id="cCr0"><rect x="717.5" y="45.9" width="249.1" height="256.8"/></clipPath>
<g clip-path="url(#cCr0)">
<rect x="716.5" y="44.9" width="251.1" height="258.8" fill="#0053ff"/>
<path d="M715.5,301 726,301.6 736.6,302.2 747.1,302.7 757.7,303.3 768.2,303.9 778.8,304.5 789.3,305.1 799.9,305.7 810.4,306.3 821,307 831.5,307.6 842,308.2 852.6,308.7 863.1,308.7 873.7,308.7 884.2,308.7 894.8,308.7 905.3,308.7 915.9,308.7 926.4,308.7 937,308.7 947.5,308.7 958.1,308.7 968.6,308.7 L969.6,37.9 714.5,37.9Z" fill="#0060ff"/>
<path d="M715.5,298.2 726,298.8 736.6,299.5 747.1,300.1 757.7,300.7 768.2,301.4 778.8,302 789.3,302.7 799.9,303.3 810.4,304 821,304.6 831.5,305.3 842,306 852.6,306.7 863.1,307.4 873.7,308.1 884.2,308.7 894.8,308.7 905.3,308.7 915.9,308.7 926.4,308.7 937,308.7 947.5,308.7 958.1,308.7 968.6,308.7 L969.6,37.9 714.5,37.9Z" fill="#006eff"/>
<path d="M715.5,295.2 726,295.9 736.6,296.6 747.1,297.3 757.7,298 768.2,298.7 778.8,299.4 789.3,300.1 799.9,300.8 810.4,301.5 821,302.3 831.5,303 842,303.7 852.6,304.5 863.1,305.2 873.7,306 884.2,306.7 894.8,307.5 905.3,308.2 915.9,308.7 926.4,308.7 937,308.7 947.5,308.7 958.1,308.7 968.6,308.7 L969.6,37.9 714.5,37.9Z" fill="#007cff"/>
<path d="M715.5,291.9 726,292.7 736.6,293.5 747.1,294.3 757.7,295 768.2,295.8 778.8,296.6 789.3,297.4 799.9,298.2 810.4,299 821,299.8 831.5,300.6 842,301.4 852.6,302.3 863.1,303.1 873.7,303.9 884.2,304.7 894.8,305.5 905.3,306.4 915.9,307.2 926.4,308 937,308.7 947.5,308.7 958.1,308.7 968.6,308.7 L969.6,37.9 714.5,37.9Z" fill="#008aff"/>
<path d="M715.5,288.4 726,289.3 736.6,290.2 747.1,291.1 757.7,292 768.2,292.9 778.8,293.8 789.3,294.7 799.9,295.6 810.4,296.5 821,297.3 831.5,298.2 842,299.1 852.6,300 863.1,300.9 873.7,301.8 884.2,302.7 894.8,303.6 905.3,304.5 915.9,305.5 926.4,306.4 937,307.4 947.5,308.3 958.1,308.7 968.6,308.7 L969.6,37.9 714.5,37.9Z" fill="#0098ff"/>
<path d="M715.5,284.4 726,285.5 736.6,286.6 747.1,287.6 757.7,288.7 768.2,289.7 778.8,290.8 789.3,291.8 799.9,292.8 810.4,293.9 821,294.8 831.5,295.8 842,296.8 852.6,297.8 863.1,298.7 873.7,299.7 884.2,300.7 894.8,301.8 905.3,302.8 915.9,303.8 926.4,304.9 937,306 947.5,307.1 958.1,308.2 968.6,308.7 L969.6,37.9 714.5,37.9Z" fill="#00a5ff"/>
<path d="M715.5,280.1 726,281.4 736.6,282.7 747.1,283.9 757.7,285.2 768.2,286.4 778.8,287.6 789.3,288.8 799.9,290 810.4,291.1 821,292.2 831.5,293.3 842,294.4 852.6,295.4 863.1,296.5 873.7,297.6 884.2,298.7 894.8,299.9 905.3,301 915.9,302.2 926.4,303.4 937,304.7 947.5,305.9 958.1,307.2 968.6,308.4 L969.6,37.9 714.5,37.9Z" fill="#00b3ff"/>
<path d="M715.5,275.5 726,277 736.6,278.5 747.1,280 757.7,281.4 768.2,282.8 778.8,284.2 789.3,285.6 799.9,286.9 810.4,288.2 821,289.5 831.5,290.7 842,291.8 852.6,293 863.1,294.2 873.7,295.4 884.2,296.6 894.8,297.9 905.3,299.2 915.9,300.5 926.4,301.9 937,303.2 947.5,304.6 958.1,306 968.6,307.4 L969.6,37.9 714.5,37.9Z" fill="#00c1ff"/>
<path d="M715.5,270.8 726,272.4 736.6,274.1 747.1,275.8 757.7,277.4 768.2,279 778.8,280.6 789.3,282.1 799.9,283.6 810.4,285 821,286.4 831.5,287.8 842,289.1 852.6,290.4 863.1,291.7 873.7,293 884.2,294.4 894.8,295.8 905.3,297.2 915.9,298.7 926.4,300.1 937,301.6 947.5,303.1 958.1,304.6 968.6,306.2 L969.6,37.9 714.5,37.9Z" fill="#00cfff"/>
<path d="M715.5,265.8 726,267.6 736.6,269.4 747.1,271.3 757.7,273 768.2,274.8 778.8,276.5 789.3,278.2 799.9,279.9 810.4,281.5 821,283.1 831.5,284.7 842,286.2 852.6,287.7 863.1,289.1 873.7,290.6 884.2,292.1 894.8,293.6 905.3,295.1 915.9,296.7 926.4,298.2 937,299.8 947.5,301.4 958.1,302.9 968.6,304.5 L969.6,37.9 714.5,37.9Z" fill="#00ddff"/>
<path d="M715.5,260.5 726,262.5 736.6,264.4 747.1,266.4 757.7,268.3 768.2,270.2 778.8,272.1 789.3,274 799.9,275.9 810.4,277.7 821,279.6 831.5,281.4 842,283.1 852.6,284.8 863.1,286.4 873.7,288 884.2,289.6 894.8,291.3 905.3,292.9 915.9,294.6 926.4,296.2 937,297.8 947.5,299.4 958.1,301 968.6,302.6 L969.6,37.9 714.5,37.9Z" fill="#00eaff"/>
<path d="M715.5,254.9 726,257 736.6,259.1 747.1,261.2 757.7,263.3 768.2,265.4 778.8,267.4 789.3,269.5 799.9,271.6 810.4,273.6 821,275.7 831.5,277.8 842,279.8 852.6,281.7 863.1,283.5 873.7,285.3 884.2,287.1 894.8,288.9 905.3,290.6 915.9,292.3 926.4,294 937,295.6 947.5,297.2 958.1,298.8 968.6,300.4 L969.6,37.9 714.5,37.9Z" fill="#00f8ff"/>
<path d="M715.5,248.9 726,251.2 736.6,253.4 747.1,255.7 757.7,257.9 768.2,260.2 778.8,262.5 789.3,264.7 799.9,267 810.4,269.3 821,271.6 831.5,274 842,276.3 852.6,278.3 863.1,280.3 873.7,282.3 884.2,284.3 894.8,286.2 905.3,288 915.9,289.9 926.4,291.6 937,293.3 947.5,294.9 958.1,296.4 968.6,298 L969.6,37.9 714.5,37.9Z" fill="#00fff8"/>
<path d="M715.5,242.5 726,245 736.6,247.4 747.1,249.8 757.7,252.3 768.2,254.8 778.8,257.2 789.3,259.7 799.9,262.2 810.4,264.7 821,267.3 831.5,269.9 842,272.4 852.6,274.7 863.1,276.9 873.7,279 884.2,281.1 894.8,283.2 905.3,285.2 915.9,287.1 926.4,289 937,290.8 947.5,292.5 958.1,294.1 968.6,295.7 L969.6,37.9 714.5,37.9Z" fill="#00ffea"/>
<path d="M715.5,235.6 726,238.3 736.6,241 747.1,243.7 757.7,246.4 768.2,249.1 778.8,251.8 789.3,254.5 799.9,257.2 810.4,259.9 821,262.6 831.5,265.4 842,268.1 852.6,270.6 863.1,273 873.7,275.3 884.2,277.6 894.8,279.8 905.3,281.9 915.9,284 926.4,286.1 937,288 947.5,289.9 958.1,291.6 968.6,293.4 L969.6,37.9 714.5,37.9Z" fill="#00ffdd"/>
<path d="M715.5,228.2 726,231.2 736.6,234.2 747.1,237.2 757.7,240.1 768.2,243.1 778.8,246 789.3,248.9 799.9,251.8 810.4,254.7 821,257.7 831.5,260.6 842,263.4 852.6,266.1 863.1,268.6 873.7,271.1 884.2,273.5 894.8,275.9 905.3,278.2 915.9,280.5 926.4,282.8 937,284.9 947.5,287 958.1,289.1 968.6,291.1 L969.6,37.9 714.5,37.9Z" fill="#00ffcf"/>
<path d="M715.5,220.2 726,223.5 736.6,226.9 747.1,230.2 757.7,233.4 768.2,236.7 778.8,239.9 789.3,243 799.9,246.1 810.4,249.2 821,252.3 831.5,255.4 842,258.3 852.6,261.1 863.1,263.8 873.7,266.5 884.2,269 894.8,271.6 905.3,274.2 915.9,276.7 926.4,279.2 937,281.6 947.5,284 958.1,286.3 968.6,288.7 L969.6,37.9 714.5,37.9Z" fill="#00ffc1"/>
<path d="M715.5,211.7 726,215.4 736.6,219.1 747.1,222.7 757.7,226.3 768.2,229.8 778.8,233.2 789.3,236.6 799.9,239.9 810.4,243.2 821,246.5 831.5,249.7 842,252.8 852.6,255.8 863.1,258.7 873.7,261.5 884.2,264.3 894.8,267 905.3,269.8 915.9,272.6 926.4,275.3 937,278 947.5,280.7 958.1,283.4 968.6,286 L969.6,37.9 714.5,37.9Z" fill="#00ffb3"/>
<path d="M715.5,202.8 726,206.7 736.6,210.7 747.1,214.7 757.7,218.5 768.2,222.3 778.8,226 789.3,229.7 799.9,233.2 810.4,236.8 821,240.2 831.5,243.6 842,246.9 852.6,250.1 863.1,253.2 873.7,256.2 884.2,259.2 894.8,262.2 905.3,265.2 915.9,268.2 926.4,271.2 937,274.2 947.5,277.1 958.1,280.1 968.6,283 L969.6,37.9 714.5,37.9Z" fill="#00ffa5"/>
<path d="M715.5,193.3 726,197.5 736.6,201.8 747.1,206 757.7,210.1 768.2,214.2 778.8,218.1 789.3,222 799.9,225.8 810.4,229.6 821,233.3 831.5,236.9 842,240.5 852.6,243.9 863.1,247.3 873.7,250.6 884.2,253.8 894.8,257.1 905.3,260.3 915.9,263.6 926.4,266.8 937,270.1 947.5,273.3 958.1,276.5 968.6,279.7 L969.6,37.9 714.5,37.9Z" fill="#00ff98"/>
<path d="M715.5,183.2 726,187.7 736.6,192.2 747.1,196.6 757.7,200.9 768.2,205.2 778.8,209.4 789.3,213.6 799.9,217.6 810.4,221.7 821,225.6 831.5,229.5 842,233.4 852.6,237.1 863.1,240.8 873.7,244.5 884.2,248.1 894.8,251.6 905.3,255.2 915.9,258.7 926.4,262.2 937,265.6 947.5,269.1 958.1,272.5 968.6,275.9 L969.6,37.9 714.5,37.9Z" fill="#00ff8a"/>
<path d="M715.5,172.4 726,177.1 736.6,181.8 747.1,186.4 757.7,191 768.2,195.5 778.8,200 789.3,204.4 799.9,208.7 810.4,213 821,217.3 831.5,221.5 842,225.7 852.6,229.8 863.1,233.8 873.7,237.8 884.2,241.8 894.8,245.7 905.3,249.5 915.9,253.3 926.4,257.1 937,260.8 947.5,264.4 958.1,268 968.6,271.7 L969.6,37.9 714.5,37.9Z" fill="#00ff7c"/>
<path d="M715.5,160.8 726,165.7 736.6,170.7 747.1,175.5 757.7,180.4 768.2,185.1 778.8,189.8 789.3,194.5 799.9,199.2 810.4,203.8 821,208.4 831.5,212.9 842,217.4 852.6,221.9 863.1,226.3 873.7,230.7 884.2,235 894.8,239.3 905.3,243.4 915.9,247.5 926.4,251.5 937,255.5 947.5,259.4 958.1,263.2 968.6,267 L969.6,37.9 714.5,37.9Z" fill="#00ff6e"/>
<path d="M715.5,148.3 726,153.5 736.6,158.7 747.1,163.9 757.7,169 768.2,174.1 778.8,179.1 789.3,184.1 799.9,189 810.4,193.9 821,198.8 831.5,203.7 842,208.6 852.6,213.4 863.1,218.2 873.7,223 884.2,227.7 894.8,232.3 905.3,236.7 915.9,241.1 926.4,245.5 937,249.7 947.5,253.9 958.1,258 968.6,262 L969.6,37.9 714.5,37.9Z" fill="#00ff60"/>
<path d="M715.5,134.4 726,140 736.6,145.6 747.1,151.1 757.7,156.6 768.2,162 778.8,167.4 789.3,172.8 799.9,178.1 810.4,183.3 821,188.6 831.5,193.8 842,199 852.6,204.2 863.1,209.3 873.7,214.4 884.2,219.5 894.8,224.4 905.3,229.2 915.9,234 926.4,238.6 937,243.2 947.5,247.7 958.1,252.1 968.6,256.5 L969.6,37.9 714.5,37.9Z" fill="#00ff53"/>
<path d="M715.5,118.8 726,124.9 736.6,131 747.1,137 757.7,143 768.2,148.8 778.8,154.6 789.3,160.4 799.9,166.1 810.4,171.7 821,177.4 831.5,182.9 842,188.5 852.6,194 863.1,199.5 873.7,204.9 884.2,210.3 894.8,215.6 905.3,220.8 915.9,225.9 926.4,230.9 937,235.8 947.5,240.7 958.1,245.4 968.6,250.2 L969.6,37.9 714.5,37.9Z" fill="#00ff45"/>
<path d="M715.5,102.2 726,108.8 736.6,115.4 747.1,121.9 757.7,128.3 768.2,134.6 778.8,140.9 789.3,147 799.9,153.2 810.4,159.2 821,165.3 831.5,171.2 842,177.1 852.6,183 863.1,188.8 873.7,194.6 884.2,200.3 894.8,206 905.3,211.5 915.9,217 926.4,222.4 937,227.7 947.5,232.9 958.1,238.1 968.6,243.3 L969.6,37.9 714.5,37.9Z" fill="#00ff37"/>
<path d="M715.5,84.9 726,92 736.6,99.1 747.1,106.1 757.7,113 768.2,119.7 778.8,126.4 789.3,133 799.9,139.5 810.4,146 821,152.4 831.5,158.8 842,165.1 852.6,171.3 863.1,177.5 873.7,183.6 884.2,189.7 894.8,195.7 905.3,201.6 915.9,207.5 926.4,213.3 937,219 947.5,224.7 958.1,230.3 968.6,235.9 L969.6,37.9 714.5,37.9Z" fill="#00ff29"/>
<path d="M715.5,67.6 726,75.1 736.6,82.6 747.1,90 757.7,97.2 768.2,104.3 778.8,111.4 789.3,118.4 799.9,125.3 810.4,132.2 821,139 831.5,145.7 842,152.4 852.6,159 863.1,165.5 873.7,172 884.2,178.5 894.8,184.9 905.3,191.2 915.9,197.5 926.4,203.7 937,209.8 947.5,215.9 958.1,222 968.6,228 L969.6,37.9 714.5,37.9Z" fill="#00ff1c"/>
<path d="M715.5,50.2 726,58 736.6,65.7 747.1,73.4 757.7,80.9 768.2,88.3 778.8,95.7 789.3,103 799.9,110.2 810.4,117.4 821,124.6 831.5,131.7 842,138.8 852.6,145.8 863.1,152.8 873.7,159.7 884.2,166.6 894.8,173.4 905.3,180.1 915.9,186.9 926.4,193.5 937,200.1 947.5,206.6 958.1,213.1 968.6,219.6 L969.6,37.9 714.5,37.9Z" fill="#00ff0e"/>
<path d="M715.5,39.9 726,40.4 736.6,48.3 747.1,56.1 757.7,63.8 768.2,71.5 778.8,79.1 789.3,86.7 799.9,94.3 810.4,101.8 821,109.3 831.5,116.8 842,124.3 852.6,131.7 863.1,139.1 873.7,146.5 884.2,153.8 894.8,161.1 905.3,168.3 915.9,175.5 926.4,182.6 937,189.7 947.5,196.6 958.1,203.5 968.6,210.4 L969.6,37.9 714.5,37.9Z" fill="#00ff00"/>
<path d="M715.5,39.9 726,39.9 736.6,39.9 747.1,39.9 757.7,46 768.2,53.9 778.8,61.7 789.3,69.6 799.9,77.4 810.4,85.3 821,93.1 831.5,101 842,108.9 852.6,116.7 863.1,124.6 873.7,132.4 884.2,140.2 894.8,147.9 905.3,155.7 915.9,163.3 926.4,171 937,178.5 947.5,185.9 958.1,193.2 968.6,200.5 L969.6,37.9 714.5,37.9Z" fill="#0eff00"/>
<path d="M715.5,39.9 726,39.9 736.6,39.9 747.1,39.9 757.7,39.9 768.2,39.9 778.8,43.5 789.3,51.7 799.9,59.8 810.4,68 821,76.2 831.5,84.5 842,92.7 852.6,101 863.1,109.3 873.7,117.5 884.2,125.8 894.8,134 905.3,142.2 915.9,150.4 926.4,158.5 937,166.5 947.5,174.4 958.1,182.2 968.6,189.8 L969.6,37.9 714.5,37.9Z" fill="#1cff00"/>
<path d="M715.5,39.9 726,39.9 736.6,39.9 747.1,39.9 757.7,39.9 768.2,39.9 778.8,39.9 789.3,39.9 799.9,41.5 810.4,50 821,58.6 831.5,67.2 842,75.9 852.6,84.6 863.1,93.3 873.7,102 884.2,110.6 894.8,119.3 905.3,127.9 915.9,136.5 926.4,145.1 937,153.6 947.5,162 958.1,170.3 968.6,178.3 L969.6,37.9 714.5,37.9Z" fill="#29ff00"/>
<path d="M715.5,39.9 726,39.9 736.6,39.9 747.1,39.9 757.7,39.9 768.2,39.9 778.8,39.9 789.3,39.9 799.9,39.9 810.4,39.9 821,39.9 831.5,48.7 842,57.8 852.6,66.9 863.1,76 873.7,85 884.2,94.1 894.8,103.2 905.3,112.2 915.9,121.2 926.4,130.1 937,139.1 947.5,148.3 958.1,157 968.6,165.5 L969.6,37.9 714.5,37.9Z" fill="#37ff00"/>
<path d="M715.5,39.9 726,39.9 736.6,39.9 747.1,39.9 757.7,39.9 768.2,39.9 778.8,39.9 789.3,39.9 799.9,39.9 810.4,39.9 821,39.9 831.5,39.9 842,39.9 852.6,47.9 863.1,57.4 873.7,66.8 884.2,76.3 894.8,85.7 905.3,95.1 915.9,104.4 926.4,113.6 937,123.1 947.5,133.1 958.1,142.5 968.6,151.3 L969.6,37.9 714.5,37.9Z" fill="#45ff00"/>
<path d="M715.5,39.9 726,39.9 736.6,39.9 747.1,39.9 757.7,39.9 768.2,39.9 778.8,39.9 789.3,39.9 799.9,39.9 810.4,39.9 821,39.9 831.5,39.9 842,39.9 852.6,39.9 863.1,39.9 873.7,47.8 884.2,57.6 894.8,67.3 905.3,77.1 915.9,86.7 926.4,96.2 937,106.2 947.5,116.9 958.1,126.9 968.6,136.1 L969.6,37.9 714.5,37.9Z" fill="#53ff00"/>
<path d="M715.5,39.9 726,39.9 736.6,39.9 747.1,39.9 757.7,39.9 768.2,39.9 778.8,39.9 789.3,39.9 799.9,39.9 810.4,39.9 821,39.9 831.5,39.9 842,39.9 852.6,39.9 863.1,39.9 873.7,39.9 884.2,39.9 894.8,48.7 905.3,58.7 915.9,68.7 926.4,78.3 937,88.7 947.5,100.2 958.1,110.7 968.6,120.2 L969.6,37.9 714.5,37.9Z" fill="#60ff00"/>
<path d="M715.5,39.9 726,39.9 736.6,39.9 747.1,39.9 757.7,39.9 768.2,39.9 778.8,39.9 789.3,39.9 799.9,39.9 810.4,39.9 821,39.9 831.5,39.9 842,39.9 852.6,39.9 863.1,39.9 873.7,39.9 884.2,39.9 894.8,39.9 905.3,40.5 915.9,50.7 926.4,60.6 937,71.4 947.5,83.3 958.1,94.2 968.6,104 L969.6,37.9 714.5,37.9Z" fill="#6eff00"/>
<path d="M715.5,39.9 726,39.9 736.6,39.9 747.1,39.9 757.7,39.9 768.2,39.9 778.8,39.9 789.3,39.9 799.9,39.9 810.4,39.9 821,39.9 831.5,39.9 842,39.9 852.6,39.9 863.1,39.9 873.7,39.9 884.2,39.9 894.8,39.9 905.3,39.9 915.9,39.9 926.4,43 937,53.9 947.5,66 958.1,77.2 968.6,87.3 L969.6,37.9 714.5,37.9Z" fill="#7cff00"/>
<path d="M715.5,39.9 726,39.9 736.6,39.9 747.1,39.9 757.7,39.9 768.2,39.9 778.8,39.9 789.3,39.9 799.9,39.9 810.4,39.9 821,39.9 831.5,39.9 842,39.9 852.6,39.9 863.1,39.9 873.7,39.9 884.2,39.9 894.8,39.9 905.3,39.9 915.9,39.9 926.4,39.9 937,39.9 947.5,48.2 958.1,59.5 968.6,69.9 L969.6,37.9 714.5,37.9Z" fill="#8aff00"/>
<path d="M715.5,39.9 726,39.9 736.6,39.9 747.1,39.9 757.7,39.9 768.2,39.9 778.8,39.9 789.3,39.9 799.9,39.9 810.4,39.9 821,39.9 831.5,39.9 842,39.9 852.6,39.9 863.1,39.9 873.7,39.9 884.2,39.9 894.8,39.9 905.3,39.9 915.9,39.9 926.4,39.9 937,39.9 947.5,39.9 958.1,41.2 968.6,51.9 L969.6,37.9 714.5,37.9Z" fill="#98ff00"/>
<path d="M715.5,305.6 717.6,305.7 721.8,305.9 726,306.1 730.3,306.4 734.5,306.6 738.7,306.8 742.9,307 747.1,307.3 751.4,307.5 755.6,307.7 759.8,307.9 764,308.2 768.2,308.4 772.4,308.6 776.7,308.8 780.9,309.1 785.1,309.3 789.3,309.5 793.5,309.8 797.8,310 802,310.2 806.2,310.4 810.4,310.7 814.6,310.9 818.8,311.1 823.1,311.3 827.3,311.6 831.5,311.8 835.7,312 839.9,312.2 844.2,312.5 848.4,312.7 852.6,312.9 856.8,313.1 861,313.4 865.3,313.6 869.5,313.8 873.7,314 877.9,314.3 882.1,314.5 886.3,314.7 890.6,315 894.8,315.2 899,315.4 903.2,315.6 907.4,315.9 911.7,316.1 915.9,316.3 920.1,316.5 924.3,316.8 928.5,317 932.7,317.2 937,317.4 941.2,317.7 945.4,317.9 949.6,318.1 953.8,318.3 958.1,318.6 962.3,318.8 966.5,319 968.6,319.1" fill="none" stroke="#303030" stroke-opacity="0.8" stroke-width="0.62"/>
<path d="M715.5,291.5 717.6,291.6 721.8,291.9 726,292.3 730.3,292.6 734.5,292.9 738.7,293.2 742.9,293.5 747.1,293.8 751.4,294.2 755.6,294.5 759.8,294.8 764,295.1 768.2,295.4 772.4,295.8 776.7,296.1 780.9,296.4 785.1,296.7 789.3,297 793.5,297.4 797.8,297.7 802,298 806.2,298.3 810.4,298.7 814.6,299 818.8,299.3 823.1,299.7 827.3,300 831.5,300.3 835.7,300.6 839.9,301 844.2,301.3 848.4,301.6 852.6,302 856.8,302.3 861,302.6 865.3,302.9 869.5,303.3 873.7,303.6 877.9,303.9 882.1,304.3 886.3,304.6 890.6,304.9 894.8,305.3 899,305.6 903.2,305.9 907.4,306.3 911.7,306.6 915.9,307 920.1,307.3 924.3,307.6 928.5,308 932.7,308.3 937,308.7 941.2,309 945.4,309.3 949.6,309.7 953.8,310 958.1,310.4 962.3,310.7 966.5,311 968.6,311.2" fill="none" stroke="#303030" stroke-opacity="0.8" stroke-width="0.62"/>
<path d="M715.5,271.4 717.6,271.7 721.8,272.4 726,273.1 730.3,273.7 734.5,274.4 738.7,275.1 742.9,275.7 747.1,276.4 751.4,277 755.6,277.7 759.8,278.3 764,278.9 768.2,279.5 772.4,280.2 776.7,280.8 780.9,281.4 785.1,282 789.3,282.6 793.5,283.2 797.8,283.8 802,284.3 806.2,284.9 810.4,285.5 814.6,286 818.8,286.6 823.1,287.1 827.3,287.7 831.5,288.2 835.7,288.7 839.9,289.2 844.2,289.7 848.4,290.3 852.6,290.8 856.8,291.3 861,291.8 865.3,292.3 869.5,292.8 873.7,293.4 877.9,293.9 882.1,294.4 884.9,294.8" fill="none" stroke="#303030" stroke-opacity="0.8" stroke-width="0.62"/>
<path d="M922.9,299.9 925,300.2 929.2,300.8 933.4,301.3 937.7,301.9 941.9,302.5 946.1,303.1 950.3,303.7 954.5,304.3 958.8,304.9 963,305.6 967.2,306.2 968.6,306.4" fill="none" stroke="#303030" stroke-opacity="0.8" stroke-width="0.62"/>
<path d="M715.5,243 717.6,243.4 721.8,244.4 726,245.4 730.3,246.4 734.5,247.3 738.7,248.3 742.9,249.3 747.1,250.2 751.4,251.2 755.6,252.2 759.8,253.2 764,254.2 768.2,255.1 772.4,256.1 776.7,257.1 780.9,258.1 785.1,259.1 789.3,260.1 793.5,261.1 797.8,262 802,263 806.2,264 809,264.7" fill="none" stroke="#303030" stroke-opacity="0.8" stroke-width="0.62"/>
<path d="M847,273.7 849.1,274.2 853.3,275.1 857.5,275.9 861.7,276.8 866,277.7 870.2,278.6 874.4,279.4 878.6,280.3 882.8,281.1 887,281.9 891.3,282.7 895.5,283.6 899.7,284.4 903.9,285.1 908.1,285.9 912.4,286.7 916.6,287.5 920.8,288.2 925,288.9 929.2,289.7 933.4,290.4 937.7,291.1 941.9,291.7 946.1,292.4 950.3,293.1 954.5,293.7 958.8,294.3 963,294.9 967.2,295.6 968.6,295.9" fill="none" stroke="#303030" stroke-opacity="0.8" stroke-width="0.62"/>
<path d="M715.5,202.8 717.6,203.5 721.8,205.1 726,206.7 730.3,208.3 734.5,209.9 738.7,211.5 742.9,213.1 747.1,214.7 751.4,216.2 755.6,217.8 759.8,219.3 764,220.8 768.2,222.3 772.4,223.8 776.7,225.3 780.9,226.8 785.1,228.2 789.3,229.7 793.5,231.1 797.8,232.5 802,233.9 806.2,235.4 810.4,236.8 814.6,238.1 818.8,239.5 823.1,240.9 827.3,242.2 831.5,243.6 835.7,244.9 839.9,246.2 844.2,247.5 848.4,248.8 852.6,250.1 856.8,251.3 860.3,252.4" fill="none" stroke="#303030" stroke-opacity="0.8" stroke-width="0.62"/>
<path d="M898.3,263.2 900.4,263.8 904.6,265 908.8,266.2 913.1,267.4 917.3,268.6 921.5,269.8 925.7,271 929.9,272.2 934.2,273.4 938.4,274.6 942.6,275.8 946.8,276.9 951,278.1 955.2,279.3 959.5,280.5 963.7,281.7 967.9,282.8 968.6,283" fill="none" stroke="#303030" stroke-opacity="0.8" stroke-width="0.62"/>
<path d="M715.5,147.4 717.6,148.5 721.8,150.6 726,152.7 730.3,154.8 734.5,156.8 738.7,158.9 742.9,161 747.1,163.1 751.4,165.1 755.6,167.2 759.8,169.2 764,171.3 768.2,173.3 772.4,175.3 776.7,177.3 780.9,179.3 785.1,181.3 789.3,183.3 793.5,185.3 797.8,187.3 802,189.3 806.2,191.3 810.4,193.3 814.6,195.2 818.8,197.2 823.1,199.2 827.3,201.1 831.5,203.1 835.7,205 839.9,207 844.2,208.9 848.4,210.9 852.6,212.8 856.8,214.7 860.3,216.3" fill="none" stroke="#303030" stroke-opacity="0.8" stroke-width="0.62"/>
<path d="M896.2,232.4 898.3,233.3 902.5,235.1 906.7,236.9 910.9,238.6 915.2,240.4 919.4,242.1 923.6,243.9 927.8,245.6 932,247.3 936.3,249 940.5,250.7 944.7,252.4 948.9,254.1 953.1,255.7 957.4,257.3 961.6,258.9 965.8,260.6 968.6,261.7" fill="none" stroke="#303030" stroke-opacity="0.8" stroke-width="0.62"/>
<path d="M715.5,71.1 717.6,72.5 721.8,75.5 726,78.5 730.3,81.5 731.7,82.5" fill="none" stroke="#303030" stroke-opacity="0.8" stroke-width="0.62"/>
<path d="M754.9,98.5 757,100 761.2,102.8 765.4,105.6 769.6,108.4 773.9,111.2 778.1,114 782.3,116.8 786.5,119.5 790.7,122.3 794.9,125 799.2,127.8 803.4,130.5 807.6,133.2 811.8,135.9 816,138.6 820.3,141.3 824.5,144 828.7,146.6 832.9,149.3 837.1,151.9 841.3,154.6 845.6,157.2 849.8,159.8 854,162.4 858.2,165 862.4,167.6 866.7,170.2 870.9,172.7 875.1,175.3 879.3,177.8 883.5,180.4 887.7,182.9 892,185.4 896.2,187.9 900.4,190.4 904.6,192.9 908.8,195.4 913.1,197.9 917.3,200.3 921.5,202.8 925.7,205.2 929.9,207.7 934.2,210.1 938.4,212.5 942.6,214.9 946.8,217.3 951,219.7 955.2,222.1 959.5,224.5 963.7,226.8 967.9,229.2 968.6,229.7" fill="none" stroke="#303030" stroke-opacity="0.8" stroke-width="0.62"/>
<path d="M715.5,-23 717.6,-21.3 721.8,-18 726,-14.7 730.3,-11.3 734.5,-8 738.7,-4.7 742.9,-1.3 747.1,2 751.4,5.3 755.6,8.7 759.8,12 764,15.4 768.2,18.8 772.4,22.1 776.7,25.5 780.9,28.8 785.1,32.2 789.3,35.6 793.5,39 797.8,42.3 802,45.7 806.2,49.1 810.4,52.5 814.6,55.9 818.8,59.3 823.1,62.8 827.3,66.2 831.5,69.6 835.7,73.1 839.9,76.5 844.2,79.9 848.4,83.4 852.6,86.8 856.8,90.3 861,93.8 865.3,97.2 869.5,100.7 873.7,104.1 877.9,107.6 882.1,111 886.3,114.5 890.6,117.9 894.8,121.3 899,124.8 903.2,128.2 907.4,131.6 911.7,135 915.9,138.5 920.1,141.9 924.3,145.2 928.5,148.6" fill="none" stroke="#303030" stroke-opacity="0.8" stroke-width="0.62"/>
<path d="M948.9,164.9 951,166.5 955.2,169.8 959.5,173 963.7,176.2 967.9,179.4 968.6,179.9" fill="none" stroke="#303030" stroke-opacity="0.8" stroke-width="0.62"/>
<path d="M715.5,-148.5 717.6,-146.4 721.8,-142 726,-137.6 730.3,-133.3 734.5,-128.9 738.7,-124.6 742.9,-120.2 747.1,-115.9 751.4,-111.6 755.6,-107.3 759.8,-103 764,-98.7 768.2,-94.4 772.4,-90.1 776.7,-85.8 780.9,-81.5 785.1,-77.3 789.3,-73 793.5,-68.8 797.8,-64.5 802,-60.3 806.2,-56.1 810.4,-51.9 814.6,-47.6 818.8,-43.4 823.1,-39.2 827.3,-35 831.5,-30.8 835.7,-26.7 839.9,-22.5 844.2,-18.3 848.4,-14.1 852.6,-10 856.8,-5.8 861,-1.7 865.3,2.5 869.5,6.6 873.7,10.8 877.9,14.9 882.1,19 886.3,23.2 890.6,27.3 894.8,31.4 899,35.5 903.2,39.6 907.4,43.8 911.7,47.9 915.9,51.9 920.1,55.9 924.3,59.8 928.5,63.8 932.7,68 935.6,71" fill="none" stroke="#303030" stroke-opacity="0.8" stroke-width="0.62"/>
<path d="M950.3,87.5 952.4,89.7 956.6,93.9 960.9,97.9 965.1,101.8 968.6,105.1" fill="none" stroke="#303030" stroke-opacity="0.8" stroke-width="0.62"/>
<path d="M715.5,-252.6 717.6,-250.4 721.8,-246 726,-241.5 730.3,-237.1 734.5,-232.7 738.7,-228.2 742.9,-223.8 747.1,-219.3 751.4,-214.9 755.6,-210.5 759.8,-206 764,-201.6 768.2,-197.1 772.4,-192.7 776.7,-188.3 780.9,-183.8 785.1,-179.4 789.3,-174.9 793.5,-170.5 797.8,-166.1 802,-161.6 806.2,-157.2 810.4,-152.7 814.6,-148.3 818.8,-143.9 823.1,-139.4 827.3,-135 831.5,-130.5 835.7,-126.1 839.9,-121.7 844.2,-117.2 848.4,-112.8 852.6,-108.3 856.8,-103.9 861,-99.5 865.3,-95 869.5,-90.6 873.7,-86.2 877.9,-81.7 882.1,-77.3 886.3,-72.8 890.6,-68.4 894.8,-64 899,-59.5 903.2,-55.1 907.4,-50.6 911.7,-46.2 915.9,-41.8 920.1,-37.3 924.3,-32.9 928.5,-28.4 932.7,-24 937,-19.6 941.2,-15.1 945.4,-10.7 949.6,-6.2 953.8,-1.8 958.1,2.6 962.3,7.1 966.5,11.5 968.6,13.7" fill="none" stroke="#303030" stroke-opacity="0.8" stroke-width="0.62"/>
<text transform="translate(924.19 85.8) rotate(0.03)" font-family="Liberation Sans, sans-serif" font-size="18.9" fill="#404040" stroke="#404040" stroke-width="0.3">1.48</text>
<text transform="translate(920.19 163.3) rotate(0.03)" font-family="Liberation Sans, sans-serif" font-size="18.9" fill="#404040" stroke="#404040" stroke-width="0.3">1.33</text>
<text transform="translate(725.89 97.3) rotate(0.03)" font-family="Liberation Sans, sans-serif" font-size="18.9" fill="#404040" stroke="#404040" stroke-width="0.3">1.18</text>
<text transform="translate(859.59 231) rotate(0.03)" font-family="Liberation Sans, sans-serif" font-size="18.9" fill="#404040" stroke="#404040" stroke-width="0.3">1.04</text>
<text transform="translate(861.94 264.3) rotate(0.03)" font-family="Liberation Sans, sans-serif" font-size="18.9" fill="#404040" stroke="#404040" stroke-width="0.3">0.89</text>
<text transform="translate(810.94 275.8) rotate(0.03)" font-family="Liberation Sans, sans-serif" font-size="18.9" fill="#404040" stroke="#404040" stroke-width="0.3">0.74</text>
<text transform="translate(886.54 301) rotate(0.03)" font-family="Liberation Sans, sans-serif" font-size="18.9" fill="#404040" stroke="#404040" stroke-width="0.3">0.59</text>
</g>
<rect x="725.1" y="49.1" width="30.3" height="32.7" fill="#fff"/>
<text transform="translate(740.25 73.55) scale(0.975 1) rotate(0.03)" text-anchor="middle" font-family="Liberation Sans, sans-serif" font-size="22.8" stroke="#000" stroke-width="0.3">Cr</text>
<polygon points="804.2,282.2 806.4,288.0 812.9,288.2 807.7,292.0 809.6,298.0 804.2,294.5 798.9,298.0 800.7,292.0 795.6,288.2 802.0,288.0" fill="none" stroke="#000" stroke-width="1.35" stroke-linejoin="round"/>
<polygon points="838.0,237.5 840.2,243.4 846.7,243.6 841.5,247.4 843.4,253.4 838.0,249.8 832.7,253.4 834.5,247.4 829.3,243.6 835.8,243.4" fill="none" stroke="#000" stroke-width="1.35" stroke-linejoin="round"/>
<polygon points="938.3,103.5 940.4,109.4 946.9,109.6 941.8,113.4 943.6,119.4 938.3,115.9 932.9,119.4 934.7,113.4 929.6,109.6 936.1,109.4" fill="none" stroke="#000" stroke-width="1.35" stroke-linejoin="round"/>
<path d="M779.5,302.7v-4.7M779.5,45.9v4.7M841.8,302.7v-4.7M841.8,45.9v4.7M904.1,302.7v-4.7M904.1,45.9v4.7M717.5,291.4h4.7M966.6,291.4h-4.7M717.5,246.7h4.7M966.6,246.7h-4.7M717.5,202.1h4.7M966.6,202.1h-4.7M717.5,157.4h4.7M966.6,157.4h-4.7M717.5,112.7h4.7M966.6,112.7h-4.7M717.5,68.1h4.7M966.6,68.1h-4.7M748.4,302.7v-2.4M748.4,45.9v2.4M810.7,302.7v-2.4M810.7,45.9v2.4M872.9,302.7v-2.4M872.9,45.9v2.4M935.2,302.7v-2.4M935.2,45.9v2.4M717.5,269.1h2.4M966.6,269.1h-2.4M717.5,224.4h2.4M966.6,224.4h-2.4M717.5,179.7h2.4M966.6,179.7h-2.4M717.5,135.1h2.4M966.6,135.1h-2.4M717.5,90.4h2.4M966.6,90.4h-2.4" stroke="#000" stroke-width="2.7" stroke-linecap="round" fill="none"/>
<rect x="717.5" y="45.9" width="249.1" height="256.8" fill="none" stroke="#000" stroke-width="2.7"/>
<text transform="translate(717.55 327.7) scale(0.96 1) rotate(0.03)" text-anchor="middle" font-family="Liberation Sans, sans-serif" font-size="22.8" stroke="#000" stroke-width="0.3">2.62</text>
<text transform="translate(779.82 327.7) scale(0.96 1) rotate(0.03)" text-anchor="middle" font-family="Liberation Sans, sans-serif" font-size="22.8" stroke="#000" stroke-width="0.3">2.64</text>
<text transform="translate(842.1 327.7) scale(0.96 1) rotate(0.03)" text-anchor="middle" font-family="Liberation Sans, sans-serif" font-size="22.8" stroke="#000" stroke-width="0.3">2.66</text>
<text transform="translate(904.38 327.7) scale(0.96 1) rotate(0.03)" text-anchor="middle" font-family="Liberation Sans, sans-serif" font-size="22.8" stroke="#000" stroke-width="0.3">2.68</text>
<text transform="translate(966.65 327.7) scale(0.96 1) rotate(0.03)" text-anchor="middle" font-family="Liberation Sans, sans-serif" font-size="22.8" stroke="#000" stroke-width="0.3">2.70</text>
<clipPath id="cFe0"><rect x="1011.7" y="45.9" width="249.1" height="256.8"/></clipPath>
<g clip-path="url(#cFe0)">
<rect x="1010.7" y="44.9" width="251.1" height="258.8" fill="#b3ff00"/>
<path d="M1005.7,43.9 1005.7,54.8 1005.7,65.6 1005.7,76.5 1005.7,87.4 1005.7,98.2 1005.7,109.1 1005.7,120 1005.7,130.8 1005.7,141.7 1005.7,152.6 1005.7,163.4 1005.7,174.3 1005.7,185.2 1005.7,196 1005.7,206.9 1005.7,217.8 1005.7,228.6 1005.7,239.5 1005.7,250.4 1005.7,261.2 1005.7,272.1 1005.7,283 1010.7,293.8 1017.9,304.7 L1268.8,305.7 1268.8,42.9Z" fill="#c1ff00"/>
<path d="M1005.7,43.9 1005.7,54.8 1005.7,65.6 1005.7,76.5 1005.7,87.4 1005.7,98.2 1005.7,109.1 1005.7,120 1005.7,130.8 1005.7,141.7 1005.7,152.6 1005.7,163.4 1005.7,174.3 1005.7,185.2 1005.7,196 1005.7,206.9 1005.7,217.8 1005.7,228.6 1005.7,239.5 1005.7,250.4 1007.9,261.2 1014.1,272.1 1020.1,283 1025.8,293.8 1031.4,304.7 L1268.8,305.7 1268.8,42.9Z" fill="#cfff00"/>
<path d="M1005.7,43.9 1005.7,54.8 1005.7,65.6 1005.7,76.5 1005.7,87.4 1005.7,98.2 1005.7,109.1 1005.7,120 1005.7,130.8 1005.7,141.7 1005.7,152.6 1005.7,163.4 1005.7,174.3 1005.7,185.2 1005.7,196 1005.7,206.9 1005.7,217.8 1008.5,228.6 1014.5,239.5 1020.6,250.4 1026.3,261.2 1031.4,272.1 1036.2,283 1040.6,293.8 1044.8,304.7 L1268.8,305.7 1268.8,42.9Z" fill="#ddff00"/>
<path d="M1005.7,43.9 1005.7,54.8 1005.7,65.6 1005.7,76.5 1005.7,87.4 1005.7,98.2 1005.7,109.1 1005.7,120 1005.7,130.8 1005.7,141.7 1005.7,152.6 1005.7,163.4 1005.7,174.3 1005.7,185.2 1008.8,196 1016.3,206.9 1022.7,217.8 1028.3,228.6 1033.6,239.5 1039,250.4 1043.8,261.2 1047.9,272.1 1051.7,283 1055,293.8 1058.2,304.7 L1268.8,305.7 1268.8,42.9Z" fill="#eaff00"/>
<path d="M1005.7,43.9 1005.7,54.8 1005.7,65.6 1005.7,76.5 1005.7,87.4 1005.7,98.2 1005.7,109.1 1005.7,120 1005.7,130.8 1005.7,141.7 1005.7,152.6 1009,163.4 1015.1,174.3 1021.5,185.2 1028.5,196 1035.5,206.9 1041.5,217.8 1046.6,228.6 1051.3,239.5 1056.1,250.4 1060.2,261.2 1063.6,272.1 1066.6,283 1069.1,293.8 1071.4,304.7 L1268.8,305.7 1268.8,42.9Z" fill="#f8ff00"/>
<path d="M1005.7,43.9 1005.7,54.8 1005.7,65.6 1005.7,76.5 1005.7,87.4 1005.7,98.2 1005.7,109.1 1005.7,120 1010.8,130.8 1016.5,141.7 1022.3,152.6 1028.1,163.4 1033.9,174.3 1039.8,185.2 1046.3,196 1052.6,206.9 1058.2,217.8 1062.9,228.6 1067.4,239.5 1071.6,250.4 1075.2,261.2 1078,272.1 1080.5,283 1082.4,293.8 1084.1,304.7 L1268.8,305.7 1268.8,42.9Z" fill="#fff800"/>
<path d="M1005.7,43.9 1005.7,54.8 1005.7,65.6 1005.7,76.5 1006.5,87.4 1011.9,98.2 1017.5,109.1 1023.1,120 1028.8,130.8 1034.5,141.7 1040.1,152.6 1045.8,163.4 1051.3,174.3 1056.8,185.2 1062.7,196 1068.3,206.9 1073.5,217.8 1078,228.6 1082.2,239.5 1086,250.4 1089.1,261.2 1091.6,272.1 1093.7,283 1095.3,293.8 1096.7,304.7 L1268.8,305.7 1268.8,42.9Z" fill="#ffea00"/>
<path d="M1005.7,43.9 1006.6,54.8 1012.2,65.6 1017.7,76.5 1023.3,87.4 1028.9,98.2 1034.6,109.1 1040.3,120 1046,130.8 1051.7,141.7 1057.3,152.6 1062.7,163.4 1068,174.3 1073.2,185.2 1078.4,196 1083.4,206.9 1088.2,217.8 1092.6,228.6 1096.5,239.5 1100,250.4 1102.6,261.2 1104.9,272.1 1106.8,283 1108.1,293.8 1109.3,304.7 L1268.8,305.7 1268.8,42.9Z" fill="#ffdd00"/>
<path d="M1017.4,43.9 1023.2,54.8 1029.1,65.6 1034.8,76.5 1040.5,87.4 1046.3,98.2 1052,109.1 1057.8,120 1063.5,130.8 1069.1,141.7 1074.6,152.6 1079.8,163.4 1084.9,174.3 1089.7,185.2 1094.3,196 1098.7,206.9 1103.1,217.8 1107.3,228.6 1111.1,239.5 1114.2,250.4 1116.5,261.2 1118.5,272.1 1120.2,283 1121.3,293.8 1122.4,304.7 L1268.8,305.7 1268.8,42.9Z" fill="#ffcf00"/>
<path d="M1036.1,43.9 1042.1,54.8 1048,65.6 1053.8,76.5 1059.5,87.4 1065.2,98.2 1070.9,109.1 1076.6,120 1082.1,130.8 1087.5,141.7 1092.8,152.6 1097.8,163.4 1102.5,174.3 1107,185.2 1111.2,196 1115.1,206.9 1119.2,217.8 1123.1,228.6 1126.6,239.5 1129.4,250.4 1131.3,261.2 1133.1,272.1 1134.5,283 1135.4,293.8 1136.3,304.7 L1268.8,305.7 1268.8,42.9Z" fill="#ffc100"/>
<path d="M1056.9,43.9 1062.8,54.8 1068.7,65.6 1074.5,76.5 1080.1,87.4 1085.6,98.2 1091.1,109.1 1096.5,120 1101.7,130.8 1106.9,141.7 1111.8,152.6 1116.5,163.4 1121,174.3 1125.2,185.2 1129,196 1132.6,206.9 1136.3,217.8 1139.9,228.6 1143.1,239.5 1145.6,250.4 1147.2,261.2 1148.7,272.1 1149.8,283 1150.5,293.8 1151.1,304.7 L1268.8,305.7 1268.8,42.9Z" fill="#ffb300"/>
<path d="M1078.9,43.9 1084.7,54.8 1090.5,65.6 1096.1,76.5 1101.5,87.4 1106.7,98.2 1111.9,109.1 1116.9,120 1121.8,130.8 1126.6,141.7 1131.2,152.6 1135.6,163.4 1139.7,174.3 1143.7,185.2 1147.3,196 1150.7,206.9 1154.1,217.8 1157.2,228.6 1160.1,239.5 1162.3,250.4 1163.8,261.2 1164.9,272.1 1165.8,283 1166.3,293.8 1166.8,304.7 L1268.8,305.7 1268.8,42.9Z" fill="#ffa500"/>
<path d="M1101.7,43.9 1107.3,54.8 1112.9,65.6 1118.2,76.5 1123.4,87.4 1128.3,98.2 1133,109.1 1137.6,120 1142.1,130.8 1146.5,141.7 1150.7,152.6 1154.7,163.4 1158.6,174.3 1162.2,185.2 1165.7,196 1168.9,206.9 1172,217.8 1174.7,228.6 1177.3,239.5 1179.3,250.4 1180.5,261.2 1181.4,272.1 1182.1,283 1182.5,293.8 1182.8,304.7 L1268.8,305.7 1268.8,42.9Z" fill="#ff9800"/>
<path d="M1125.1,43.9 1130.4,54.8 1135.6,65.6 1140.6,76.5 1145.4,87.4 1149.9,98.2 1154.2,109.1 1158.3,120 1162.4,130.8 1166.3,141.7 1170.1,152.6 1173.7,163.4 1177.2,174.3 1180.6,185.2 1183.9,196 1186.9,206.9 1189.6,217.8 1192,228.6 1194.2,239.5 1196,250.4 1197.1,261.2 1197.8,272.1 1198.3,283 1198.6,293.8 1198.9,304.7 L1268.8,305.7 1268.8,42.9Z" fill="#ff8a00"/>
<path d="M1148.7,43.9 1153.6,54.8 1158.4,65.6 1162.9,76.5 1167.2,87.4 1171.3,98.2 1175.1,109.1 1178.7,120 1182.2,130.8 1185.7,141.7 1189.1,152.6 1192.3,163.4 1195.4,174.3 1198.4,185.2 1201.4,196 1204.1,206.9 1206.5,217.8 1208.5,228.6 1210.5,239.5 1212.1,250.4 1213,261.2 1213.6,272.1 1214.1,283 1214.3,293.8 1214.6,304.7 L1268.8,305.7 1268.8,42.9Z" fill="#ff7c00"/>
<path d="M1172.7,43.9 1176.9,54.8 1181.1,65.6 1185.1,76.5 1188.9,87.4 1192.4,98.2 1195.7,109.1 1198.8,120 1201.9,130.8 1204.9,141.7 1207.7,152.6 1210.5,163.4 1213.2,174.3 1215.8,185.2 1218.4,196 1220.8,206.9 1222.9,217.8 1224.6,228.6 1226.3,239.5 1227.7,250.4 1228.5,261.2 1229.1,272.1 1229.5,283 1229.8,293.8 1230,304.7 L1268.8,305.7 1268.8,42.9Z" fill="#ff6e00"/>
<path d="M1197.1,43.9 1200.7,54.8 1204.2,65.6 1207.5,76.5 1210.7,87.4 1213.6,98.2 1216.3,109.1 1218.9,120 1221.4,130.8 1223.9,141.7 1226.2,152.6 1228.5,163.4 1230.8,174.3 1233,185.2 1235.2,196 1237.2,206.9 1238.9,217.8 1240.4,228.6 1241.8,239.5 1243,250.4 1243.8,261.2 1244.3,272.1 1244.7,283 1245.1,293.8 1245.4,304.7 L1268.8,305.7 1268.8,42.9Z" fill="#ff6000"/>
<path d="M1222.1,43.9 1224.9,54.8 1227.5,65.6 1230.1,76.5 1232.5,87.4 1234.8,98.2 1236.8,109.1 1238.8,120 1240.8,130.8 1242.7,141.7 1244.6,152.6 1246.4,163.4 1248.1,174.3 1249.9,185.2 1251.6,196 1253.3,206.9 1254.6,217.8 1255.8,228.6 1257,239.5 1258.1,250.4 1258.8,261.2 1259.4,272.1 1259.9,283 1260.3,293.8 1260.7,304.7 L1268.8,305.7 1268.8,42.9Z" fill="#ff5300"/>
<path d="M1247.6,43.9 1249.4,54.8 1251.1,65.6 1252.8,76.5 1254.4,87.4 1255.9,98.2 1257.4,109.1 1258.7,120 1260.1,130.8 1261.4,141.7 1262.7,152.6 1264,163.4 1265.3,174.3 1266.5,185.2 1266.8,196 1266.8,206.9 1266.8,217.8 1266.8,228.6 1266.8,239.5 1266.8,250.4 1266.8,261.2 1266.8,272.1 1266.8,283 1266.8,293.8 1266.8,304.7 L1268.8,305.7 1268.8,42.9Z" fill="#ff4500"/>
<path d="M788.3,43.9 790.1,46.1 793.7,50.4 797.3,54.8 800.9,59.1 804.5,63.5 808.1,67.8 811.7,72.2 815.3,76.5 818.9,80.8 822.5,85.2 826.1,89.5 829.7,93.9 833.3,98.2 836.9,102.6 840.5,106.9 844.1,111.3 847.7,115.6 851.3,120 854.9,124.3 858.5,128.7 862.1,133 865.7,137.4 869.3,141.7 872.9,146 876.5,150.4 880.1,154.7 883.6,159.1 887.2,163.4 890.8,167.8 894.4,172.1 898,176.5 901.6,180.8 905.2,185.2 908.8,189.5 912.4,193.9 916,198.2 919.6,202.6 923.2,206.9 926.8,211.2 930.4,215.6 934,219.9 937.6,224.3 941.2,228.6 944.8,233 948.4,237.3 952,241.7 955.6,246 959.2,250.4 962.8,254.7 966.4,259.1 970,263.4 973.6,267.8 977.2,272.1 980.8,276.4 984.4,280.8 988,285.1 991.6,289.5 995.2,293.8 998.8,298.2 1002.4,302.5 1004.2,304.7" fill="none" stroke="#303030" stroke-opacity="0.8" stroke-width="0.62"/>
<path d="M942.9,43.9 944,46.1 945.9,50.4 947.7,54.8 949.6,59.1 951.6,63.5 953.6,67.8 955.6,72.2 957.6,76.5 959.7,80.8 961.7,85.2 963.9,89.5 966,93.9 968.2,98.2 970.4,102.6 972.6,106.9 974.9,111.3 977.2,115.6 979.5,120 981.8,124.3 984.1,128.7 986.5,133 988.8,137.4 991.2,141.7 993.7,146 996.1,150.4 998.5,154.7 1001,159.1 1003.5,163.4 1006,167.8 1008.5,172.1 1011,176.5 1013.5,180.8 1016.2,185.2 1019,189.5 1021.9,193.9 1024.8,198.2 1027.7,202.6 1030.5,206.9 1033.1,211.2 1035.5,215.6 1035.8,216.3" fill="none" stroke="#303030" stroke-opacity="0.8" stroke-width="0.62"/>
<path d="M1043.4,232.3 1044.4,234.4 1046.4,238.8 1048.4,243.1 1050.3,247.5 1052.2,251.8 1054,256.2 1055.7,260.5 1057.1,264.9 1058.6,269.2 1059.9,273.5 1061.2,277.9 1062.4,282.2 1063.6,286.6 1064.7,290.9 1065.6,295.3 1066.5,299.6 1067.6,304 1067.8,304.7" fill="none" stroke="#303030" stroke-opacity="0.8" stroke-width="0.62"/>
<path d="M1032.1,43.9 1033.3,46.1 1035.6,50.4 1038,54.8 1040.4,59.1 1042.8,63.5 1045.1,67.8 1047.4,72.2 1049.8,76.5 1052.1,80.8 1054.3,85.2 1056.6,89.5 1058.9,93.9 1061.2,98.2 1063.5,102.6 1065.8,106.9 1068.1,111.3 1070.4,115.6 1072.6,120 1074.9,124.3 1077.1,128.7 1079.3,133 1081.5,137.4 1083.7,141.7 1085.8,146 1087.9,150.4 1090,154.7 1092.1,159.1 1094.1,163.4 1096,167.8 1097.9,172.1 1099.8,176.5 1101.6,180.8 1102.5,183" fill="none" stroke="#303030" stroke-opacity="0.8" stroke-width="0.62"/>
<path d="M1108.8,198.9 1109.6,201.1 1111.2,205.5 1112.8,209.8 1114.4,214.1 1116.1,218.5 1117.7,222.8 1119.3,227.2 1120.8,231.5 1122.2,235.9 1123.6,240.2 1124.8,244.6 1125.9,248.9 1126.8,253.3 1127.6,257.6 1128.4,262 1129.1,266.3 1129.8,270.7 1130.4,275 1131,279.3 1131.6,283.7 1132,288 1132.4,292.4 1132.7,296.7 1132.9,301.1 1133.4,304.7" fill="none" stroke="#303030" stroke-opacity="0.8" stroke-width="0.62"/>
<path d="M1145.5,43.9 1146.5,46.1 1148.4,50.4 1150.4,54.8 1152.4,59.1 1154.3,63.5 1156.2,67.8 1158.1,72.2 1159.9,76.5 1161.7,80.8 1163.4,85.2 1165.1,89.5 1166.8,93.9" fill="none" stroke="#303030" stroke-opacity="0.8" stroke-width="0.62"/>
<path d="M1172.8,110.5 1173.5,112.7 1175,117.1 1176.5,121.4 1177.9,125.8 1179.3,130.1 1180.8,134.5 1182.2,138.8 1183.6,143.1 1184.9,147.5 1186.3,151.8 1187.6,156.2 1188.9,160.5 1190.2,164.9 1191.5,169.2 1192.7,173.6 1194,177.9 1195.2,182.3 1196.5,186.6 1197.7,191 1198.9,195.3 1200,199.7 1201.1,204 1202.2,208.3 1203.2,212.7 1204.1,217 1205,221.4 1205.8,225.7 1206.6,230.1 1207.4,234.4 1208.2,238.8 1208.9,243.1 1209.6,247.5 1210.1,251.8 1210.6,256.2 1210.9,260.5 1211.1,264.9 1211.4,269.2 1211.6,273.5 1211.8,277.9 1211.9,282.2 1212.1,286.6 1212.2,290.9 1212.3,295.3 1212.3,299.6 1212.4,304 1212.5,304.7" fill="none" stroke="#303030" stroke-opacity="0.8" stroke-width="0.62"/>
<path d="M1271.9,43.9 1272,46.1 1272.3,50.4 1272.6,54.8 1272.9,59.1 1273.2,63.5 1273.5,67.8 1273.8,72.2 1274.1,76.5 1274.5,80.8 1274.8,85.2 1275.1,89.5 1275.4,93.9 1275.7,98.2 1276,102.6 1276.3,106.9 1276.6,111.3 1276.9,115.6 1277.2,120 1277.5,124.3 1277.8,128.7 1278.1,133 1278.4,137.4 1278.7,141.7 1279,146 1279.3,150.4 1279.6,154.7 1280,159.1 1280.3,163.4 1280.6,167.8 1280.9,172.1 1281.2,176.5 1281.5,180.8 1281.8,185.2 1282.1,189.5 1282.4,193.9 1282.7,198.2 1283,202.6 1283.3,206.9 1283.6,211.2 1283.9,215.6 1284.2,219.9 1284.5,224.3 1284.8,228.6 1285.1,233 1285.5,237.3 1285.8,241.7 1286.1,246 1286.4,250.4 1286.7,254.7 1287,259.1 1287.3,263.4 1287.6,267.8 1287.9,272.1 1288.2,276.4 1288.5,280.8 1288.8,285.1 1289.1,289.5 1289.4,293.8 1289.7,298.2 1290,302.5 1290.2,304.7" fill="none" stroke="#303030" stroke-opacity="0.8" stroke-width="0.62"/>
<text transform="translate(1151.06 108.8) rotate(0.03)" font-family="Liberation Sans, sans-serif" font-size="18.9" fill="#404040" stroke="#404040" stroke-width="0.3">2.07</text>
<text transform="translate(1087.99 197.7) rotate(0.03)" font-family="Liberation Sans, sans-serif" font-size="18.9" fill="#404040" stroke="#404040" stroke-width="0.3">1.92</text>
<text transform="translate(1021.29 231) rotate(0.03)" font-family="Liberation Sans, sans-serif" font-size="18.9" fill="#404040" stroke="#404040" stroke-width="0.3">1.77</text>
</g>
<rect x="1019.1" y="51.1" width="34.3" height="32.3" fill="#fff"/>
<text transform="translate(1036.25 75.35) scale(0.975 1) rotate(0.03)" text-anchor="middle" font-family="Liberation Sans, sans-serif" font-size="22.8" stroke="#000" stroke-width="0.3">Fe</text>
<polygon points="1098.4,282.2 1100.6,288.0 1107.1,288.2 1101.9,292.0 1103.8,298.0 1098.4,294.5 1093.1,298.0 1094.9,292.0 1089.8,288.2 1096.2,288.0" fill="none" stroke="#000" stroke-width="1.35" stroke-linejoin="round"/>
<polygon points="1132.2,237.5 1134.4,243.4 1140.9,243.6 1135.7,247.4 1137.6,253.4 1132.2,249.8 1126.9,253.4 1128.7,247.4 1123.5,243.6 1130.0,243.4" fill="none" stroke="#000" stroke-width="1.35" stroke-linejoin="round"/>
<polygon points="1232.5,103.5 1234.6,109.4 1241.1,109.6 1236.0,113.4 1237.8,119.4 1232.5,115.9 1227.1,119.4 1228.9,113.4 1223.8,109.6 1230.3,109.4" fill="none" stroke="#000" stroke-width="1.35" stroke-linejoin="round"/>
<path d="M1073.7,302.7v-4.7M1073.7,45.9v4.7M1136,302.7v-4.7M1136,45.9v4.7M1198.3,302.7v-4.7M1198.3,45.9v4.7M1011.7,291.4h4.7M1260.8,291.4h-4.7M1011.7,246.7h4.7M1260.8,246.7h-4.7M1011.7,202.1h4.7M1260.8,202.1h-4.7M1011.7,157.4h4.7M1260.8,157.4h-4.7M1011.7,112.7h4.7M1260.8,112.7h-4.7M1011.7,68.1h4.7M1260.8,68.1h-4.7M1042.6,302.7v-2.4M1042.6,45.9v2.4M1104.9,302.7v-2.4M1104.9,45.9v2.4M1167.1,302.7v-2.4M1167.1,45.9v2.4M1229.4,302.7v-2.4M1229.4,45.9v2.4M1011.7,269.1h2.4M1260.8,269.1h-2.4M1011.7,224.4h2.4M1260.8,224.4h-2.4M1011.7,179.7h2.4M1260.8,179.7h-2.4M1011.7,135.1h2.4M1260.8,135.1h-2.4M1011.7,90.4h2.4M1260.8,90.4h-2.4" stroke="#000" stroke-width="2.7" stroke-linecap="round" fill="none"/>
<rect x="1011.7" y="45.9" width="249.1" height="256.8" fill="none" stroke="#000" stroke-width="2.7"/>
<text transform="translate(1011.75 327.7) scale(0.96 1) rotate(0.03)" text-anchor="middle" font-family="Liberation Sans, sans-serif" font-size="22.8" stroke="#000" stroke-width="0.3">2.62</text>
<text transform="translate(1074.02 327.7) scale(0.96 1) rotate(0.03)" text-anchor="middle" font-family="Liberation Sans, sans-serif" font-size="22.8" stroke="#000" stroke-width="0.3">2.64</text>
<text transform="translate(1136.3 327.7) scale(0.96 1) rotate(0.03)" text-anchor="middle" font-family="Liberation Sans, sans-serif" font-size="22.8" stroke="#000" stroke-width="0.3">2.66</text>
<text transform="translate(1198.58 327.7) scale(0.96 1) rotate(0.03)" text-anchor="middle" font-family="Liberation Sans, sans-serif" font-size="22.8" stroke="#000" stroke-width="0.3">2.68</text>
<text transform="translate(1260.85 327.7) scale(0.96 1) rotate(0.03)" text-anchor="middle" font-family="Liberation Sans, sans-serif" font-size="22.8" stroke="#000" stroke-width="0.3">2.70</text>
<clipPath id="cMn0"><rect x="1306.1" y="45.9" width="249.1" height="256.8"/></clipPath>
<g clip-path="url(#cMn0)">
<rect x="1305.1" y="44.9" width="251.1" height="258.8" fill="#53ff00"/>
<path d="M1300.1,43.9 1300.1,54.8 1300.1,65.6 1300.1,76.5 1300.1,87.4 1300.1,98.2 1300.1,109.1 1300.1,120 1300.1,130.8 1300.1,141.7 1300.1,152.6 1300.1,163.4 1300.1,174.3 1300.1,185.2 1300.1,196 1300.1,206.9 1300.1,217.8 1300.1,228.6 1300.1,239.5 1300.1,250.4 1300.1,261.2 1300.1,272.1 1300.1,283 1302.7,293.8 1312.1,304.7 L1563.2,305.7 1563.2,42.9Z" fill="#60ff00"/>
<path d="M1300.1,43.9 1300.1,54.8 1300.1,65.6 1300.1,76.5 1300.1,87.4 1300.1,98.2 1300.1,109.1 1300.1,120 1300.1,130.8 1300.1,141.7 1300.1,152.6 1300.1,163.4 1300.1,174.3 1300.1,185.2 1300.1,196 1300.1,206.9 1300.1,217.8 1300.1,228.6 1300.1,239.5 1300.1,250.4 1300.1,261.2 1300.1,272.1 1300.2,283 1309.2,293.8 1318.3,304.7 L1563.2,305.7 1563.2,42.9Z" fill="#6eff00"/>
<path d="M1300.1,43.9 1300.1,54.8 1300.1,65.6 1300.1,76.5 1300.1,87.4 1300.1,98.2 1300.1,109.1 1300.1,120 1300.1,130.8 1300.1,141.7 1300.1,152.6 1300.1,163.4 1300.1,174.3 1300.1,185.2 1300.1,196 1300.1,206.9 1300.1,217.8 1300.1,228.6 1300.1,239.5 1300.1,250.4 1300.1,261.2 1300.1,272.1 1307.5,283 1316.1,293.8 1324.8,304.7 L1563.2,305.7 1563.2,42.9Z" fill="#7cff00"/>
<path d="M1300.1,43.9 1300.1,54.8 1300.1,65.6 1300.1,76.5 1300.1,87.4 1300.1,98.2 1300.1,109.1 1300.1,120 1300.1,130.8 1300.1,141.7 1300.1,152.6 1300.1,163.4 1300.1,174.3 1300.1,185.2 1300.1,196 1300.1,206.9 1300.1,217.8 1300.1,228.6 1300.1,239.5 1300.1,250.4 1300.1,261.2 1307.6,272.1 1315.7,283 1323.6,293.8 1331.4,304.7 L1563.2,305.7 1563.2,42.9Z" fill="#8aff00"/>
<path d="M1300.1,43.9 1300.1,54.8 1300.1,65.6 1300.1,76.5 1300.1,87.4 1300.1,98.2 1300.1,109.1 1300.1,120 1300.1,130.8 1300.1,141.7 1300.1,152.6 1300.1,163.4 1300.1,174.3 1300.1,185.2 1300.1,196 1300.1,206.9 1300.1,217.8 1300.1,228.6 1300.1,239.5 1300.1,250.4 1308.6,261.2 1316.9,272.1 1324.5,283 1331.5,293.8 1338.3,304.7 L1563.2,305.7 1563.2,42.9Z" fill="#98ff00"/>
<path d="M1300.1,43.9 1300.1,54.8 1300.1,65.6 1300.1,76.5 1300.1,87.4 1300.1,98.2 1300.1,109.1 1300.1,120 1300.1,130.8 1300.1,141.7 1300.1,152.6 1300.1,163.4 1300.1,174.3 1300.1,185.2 1300.1,196 1300.1,206.9 1300.1,217.8 1300.1,228.6 1300.1,239.5 1309.2,250.4 1318.3,261.2 1326.3,272.1 1333.4,283 1339.6,293.8 1345.4,304.7 L1563.2,305.7 1563.2,42.9Z" fill="#a5ff00"/>
<path d="M1300.1,43.9 1300.1,54.8 1300.1,65.6 1300.1,76.5 1300.1,87.4 1300.1,98.2 1300.1,109.1 1300.1,120 1300.1,130.8 1300.1,141.7 1300.1,152.6 1300.1,163.4 1300.1,174.3 1300.1,185.2 1300.1,196 1300.1,206.9 1300.1,217.8 1300.1,228.6 1308.9,239.5 1318.9,250.4 1327.8,261.2 1335.5,272.1 1342.1,283 1347.7,293.8 1352.8,304.7 L1563.2,305.7 1563.2,42.9Z" fill="#b3ff00"/>
<path d="M1300.1,43.9 1300.1,54.8 1300.1,65.6 1300.1,76.5 1300.1,87.4 1300.1,98.2 1300.1,109.1 1300.1,120 1300.1,130.8 1300.1,141.7 1300.1,152.6 1300.1,163.4 1300.1,174.3 1300.1,185.2 1300.1,196 1300.1,206.9 1300.1,217.8 1309.5,228.6 1319,239.5 1328.5,250.4 1337,261.2 1344.3,272.1 1350.6,283 1355.8,293.8 1360.5,304.7 L1563.2,305.7 1563.2,42.9Z" fill="#c1ff00"/>
<path d="M1300.1,43.9 1300.1,54.8 1300.1,65.6 1300.1,76.5 1300.1,87.4 1300.1,98.2 1300.1,109.1 1300.1,120 1300.1,130.8 1300.1,141.7 1300.1,152.6 1300.1,163.4 1300.1,174.3 1300.1,185.2 1300.1,196 1302.7,206.9 1312.2,217.8 1321.2,228.6 1329.9,239.5 1338.4,250.4 1346.2,261.2 1353.1,272.1 1359.1,283 1364.2,293.8 1368.8,304.7 L1563.2,305.7 1563.2,42.9Z" fill="#cfff00"/>
<path d="M1300.1,43.9 1300.1,54.8 1300.1,65.6 1300.1,76.5 1300.1,87.4 1300.1,98.2 1300.1,109.1 1300.1,120 1300.1,130.8 1300.1,141.7 1300.1,152.6 1300.1,163.4 1300.1,174.3 1300.1,185.2 1308.4,196 1317.2,206.9 1325.6,217.8 1333.5,228.6 1341.1,239.5 1348.6,250.4 1355.6,261.2 1362,272.1 1367.7,283 1372.7,293.8 1377.2,304.7 L1563.2,305.7 1563.2,42.9Z" fill="#ddff00"/>
<path d="M1300.1,43.9 1300.1,54.8 1300.1,65.6 1300.1,76.5 1300.1,87.4 1300.1,98.2 1300.1,109.1 1300.1,120 1300.1,130.8 1300.1,141.7 1300.1,152.6 1300.1,163.4 1307.4,174.3 1315.5,185.2 1323.6,196 1331.5,206.9 1338.9,217.8 1345.8,228.6 1352.4,239.5 1358.9,250.4 1365.1,261.2 1370.9,272.1 1376.4,283 1381.2,293.8 1385.8,304.7 L1563.2,305.7 1563.2,42.9Z" fill="#eaff00"/>
<path d="M1300.1,43.9 1300.1,54.8 1300.1,65.6 1300.1,76.5 1300.1,87.4 1300.1,98.2 1300.1,109.1 1300.1,120 1300.1,130.8 1300.1,141.7 1306.6,152.6 1314.2,163.4 1321.9,174.3 1329.6,185.2 1337.2,196 1344.6,206.9 1351.3,217.8 1357.6,228.6 1363.5,239.5 1369.2,250.4 1374.8,261.2 1380.2,272.1 1385.2,283 1389.8,293.8 1394.1,304.7 L1563.2,305.7 1563.2,42.9Z" fill="#f8ff00"/>
<path d="M1300.1,43.9 1300.1,54.8 1300.1,65.6 1300.1,76.5 1300.1,87.4 1300.1,98.2 1300.1,109.1 1300.1,120 1305.5,130.8 1312.9,141.7 1320.4,152.6 1327.8,163.4 1335.3,174.3 1342.7,185.2 1349.9,196 1356.9,206.9 1363.2,217.8 1369.1,228.6 1374.7,239.5 1379.8,250.4 1384.8,261.2 1389.6,272.1 1394.1,283 1398.3,293.8 1402.3,304.7 L1563.2,305.7 1563.2,42.9Z" fill="#fff800"/>
<path d="M1300.1,43.9 1300.1,54.8 1300.1,65.6 1300.1,76.5 1300.1,87.4 1300.1,98.2 1304.9,109.1 1312.2,120 1319.5,130.8 1326.8,141.7 1334,152.6 1341.2,163.4 1348.2,174.3 1355.3,185.2 1362.2,196 1368.8,206.9 1374.9,217.8 1380.6,228.6 1385.8,239.5 1390.6,250.4 1395,261.2 1399.1,272.1 1403.1,283 1406.9,293.8 1410.5,304.7 L1563.2,305.7 1563.2,42.9Z" fill="#ffea00"/>
<path d="M1300.1,43.9 1300.1,54.8 1300.1,65.6 1300.1,76.5 1305.6,87.4 1312.6,98.2 1319.5,109.1 1326.5,120 1333.5,130.8 1340.5,141.7 1347.4,152.6 1354.3,163.4 1361,174.3 1367.8,185.2 1374.3,196 1380.6,206.9 1386.4,217.8 1391.9,228.6 1397,239.5 1401.5,250.4 1405.3,261.2 1408.8,272.1 1412.2,283 1415.5,293.8 1418.7,304.7 L1563.2,305.7 1563.2,42.9Z" fill="#ffdd00"/>
<path d="M1300.1,43.9 1301.1,54.8 1307.7,65.6 1314.3,76.5 1320.9,87.4 1327.5,98.2 1334.1,109.1 1340.8,120 1347.5,130.8 1354.2,141.7 1360.8,152.6 1367.3,163.4 1373.7,174.3 1380.1,185.2 1386.4,196 1392.4,206.9 1397.9,217.8 1403.3,228.6 1408.2,239.5 1412.4,250.4 1415.8,261.2 1418.7,272.1 1421.6,283 1424.4,293.8 1427.2,304.7 L1563.2,305.7 1563.2,42.9Z" fill="#ffcf00"/>
<path d="M1311,43.9 1317.3,54.8 1323.6,65.6 1329.9,76.5 1336.2,87.4 1342.5,98.2 1348.8,109.1 1355.2,120 1361.6,130.8 1367.9,141.7 1374.3,152.6 1380.5,163.4 1386.5,174.3 1392.6,185.2 1398.5,196 1404.2,206.9 1409.4,217.8 1414.5,228.6 1419.2,239.5 1423.2,250.4 1426.2,261.2 1428.7,272.1 1431.2,283 1433.6,293.8 1436.1,304.7 L1563.2,305.7 1563.2,42.9Z" fill="#ffc100"/>
<path d="M1327.4,43.9 1333.4,54.8 1339.4,65.6 1345.4,76.5 1351.4,87.4 1357.4,98.2 1363.4,109.1 1369.5,120 1375.6,130.8 1381.7,141.7 1387.7,152.6 1393.6,163.4 1399.3,174.3 1405,185.2 1410.6,196 1415.9,206.9 1420.9,217.8 1425.7,228.6 1430.1,239.5 1433.8,250.4 1436.6,261.2 1438.9,272.1 1441,283 1443.2,293.8 1445.3,304.7 L1563.2,305.7 1563.2,42.9Z" fill="#ffb300"/>
<path d="M1343.9,43.9 1349.6,54.8 1355.3,65.6 1361,76.5 1366.7,87.4 1372.4,98.2 1378.1,109.1 1383.8,120 1389.6,130.8 1395.4,141.7 1401,152.6 1406.6,163.4 1412,174.3 1417.3,185.2 1422.5,196 1427.5,206.9 1432.2,217.8 1436.7,228.6 1440.9,239.5 1444.4,250.4 1447,261.2 1449.2,272.1 1451.1,283 1453,293.8 1454.7,304.7 L1563.2,305.7 1563.2,42.9Z" fill="#ffa500"/>
<path d="M1360.4,43.9 1365.8,54.8 1371.2,65.6 1376.6,76.5 1382,87.4 1387.4,98.2 1392.8,109.1 1398.2,120 1403.6,130.8 1409.1,141.7 1414.4,152.6 1419.6,163.4 1424.7,174.3 1429.6,185.2 1434.4,196 1439.1,206.9 1443.6,217.8 1447.7,228.6 1451.6,239.5 1455,250.4 1457.6,261.2 1459.6,272.1 1461.4,283 1463,293.8 1464.5,304.7 L1563.2,305.7 1563.2,42.9Z" fill="#ff9800"/>
<path d="M1376.9,43.9 1382,54.8 1387.2,65.6 1392.3,76.5 1397.4,87.4 1402.5,98.2 1407.6,109.1 1412.6,120 1417.8,130.8 1422.9,141.7 1427.9,152.6 1432.8,163.4 1437.5,174.3 1442.1,185.2 1446.5,196 1450.9,206.9 1455.1,217.8 1458.9,228.6 1462.6,239.5 1465.8,250.4 1468.3,261.2 1470.2,272.1 1471.9,283 1473.3,293.8 1474.5,304.7 L1563.2,305.7 1563.2,42.9Z" fill="#ff8a00"/>
<path d="M1393.3,43.9 1398.2,54.8 1403.1,65.6 1407.9,76.5 1412.8,87.4 1417.6,98.2 1422.4,109.1 1427.2,120 1432,130.8 1436.8,141.7 1441.5,152.6 1446.1,163.4 1450.5,174.3 1454.7,185.2 1458.8,196 1462.9,206.9 1466.8,217.8 1470.4,228.6 1473.8,239.5 1476.8,250.4 1479.2,261.2 1481,272.1 1482.5,283 1483.7,293.8 1484.7,304.7 L1563.2,305.7 1563.2,42.9Z" fill="#ff7c00"/>
<path d="M1409.4,43.9 1414.2,54.8 1418.9,65.6 1423.6,76.5 1428.3,87.4 1432.9,98.2 1437.4,109.1 1442,120 1446.5,130.8 1451,141.7 1455.4,152.6 1459.7,163.4 1463.9,174.3 1467.8,185.2 1471.6,196 1475.2,206.9 1478.9,217.8 1482.2,228.6 1485.4,239.5 1488.2,250.4 1490.4,261.2 1492,272.1 1493.4,283 1494.3,293.8 1495.1,304.7 L1563.2,305.7 1563.2,42.9Z" fill="#ff6e00"/>
<path d="M1425.5,43.9 1430.1,54.8 1434.7,65.6 1439.3,76.5 1443.8,87.4 1448.2,98.2 1452.6,109.1 1456.9,120 1461.2,130.8 1465.4,141.7 1469.6,152.6 1473.6,163.4 1477.5,174.3 1481.2,185.2 1484.6,196 1487.9,206.9 1491.2,217.8 1494.4,228.6 1497.4,239.5 1499.9,250.4 1501.8,261.2 1503.3,272.1 1504.5,283 1505.2,293.8 1505.9,304.7 L1563.2,305.7 1563.2,42.9Z" fill="#ff6000"/>
<path d="M1441.6,43.9 1446.1,54.8 1450.6,65.6 1455,76.5 1459.4,87.4 1463.6,98.2 1467.8,109.1 1471.8,120 1475.9,130.8 1479.8,141.7 1483.7,152.6 1487.5,163.4 1491.1,174.3 1494.6,185.2 1497.7,196 1500.6,206.9 1503.6,217.8 1506.6,228.6 1509.4,239.5 1511.7,250.4 1513.3,261.2 1514.7,272.1 1515.7,283 1516.3,293.8 1516.9,304.7 L1563.2,305.7 1563.2,42.9Z" fill="#ff5300"/>
<path d="M1457.8,43.9 1462.1,54.8 1466.5,65.6 1470.7,76.5 1474.9,87.4 1478.9,98.2 1482.8,109.1 1486.6,120 1490.4,130.8 1494.1,141.7 1497.7,152.6 1501.2,163.4 1504.5,174.3 1507.8,185.2 1510.6,196 1513.2,206.9 1515.9,217.8 1518.7,228.6 1521.4,239.5 1523.4,250.4 1524.8,261.2 1526.1,272.1 1527,283 1527.6,293.8 1528,304.7 L1563.2,305.7 1563.2,42.9Z" fill="#ff4500"/>
<path d="M1474.2,43.9 1478.3,54.8 1482.4,65.6 1486.4,76.5 1490.3,87.4 1494,98.2 1497.6,109.1 1501.2,120 1504.6,130.8 1508,141.7 1511.3,152.6 1514.5,163.4 1517.6,174.3 1520.6,185.2 1523.2,196 1525.5,206.9 1527.9,217.8 1530.6,228.6 1533.1,239.5 1534.9,250.4 1536.2,261.2 1537.4,272.1 1538.3,283 1538.9,293.8 1539.3,304.7 L1563.2,305.7 1563.2,42.9Z" fill="#ff3700"/>
<path d="M1491,43.9 1494.7,54.8 1498.4,65.6 1502,76.5 1505.6,87.4 1509,98.2 1512.3,109.1 1515.5,120 1518.6,130.8 1521.6,141.7 1524.6,152.6 1527.5,163.4 1530.3,174.3 1533,185.2 1535.4,196 1537.5,206.9 1539.7,217.8 1542.1,228.6 1544.5,239.5 1546.2,250.4 1547.5,261.2 1548.6,272.1 1549.6,283 1550.2,293.8 1550.8,304.7 L1563.2,305.7 1563.2,42.9Z" fill="#ff2900"/>
<path d="M1507.9,43.9 1511.2,54.8 1514.5,65.6 1517.7,76.5 1520.8,87.4 1523.8,98.2 1526.7,109.1 1529.6,120 1532.4,130.8 1535.1,141.7 1537.7,152.6 1540.3,163.4 1542.8,174.3 1545.3,185.2 1547.4,196 1549.4,206.9 1551.3,217.8 1553.6,228.6 1555.8,239.5 1557.4,250.4 1558.7,261.2 1559.9,272.1 1560.9,283 1561.2,293.8 1561.2,304.7 L1563.2,305.7 1563.2,42.9Z" fill="#ff1c00"/>
<path d="M1525,43.9 1527.8,54.8 1530.6,65.6 1533.3,76.5 1536,87.4 1538.6,98.2 1541.1,109.1 1543.5,120 1546,130.8 1548.3,141.7 1550.6,152.6 1552.9,163.4 1555.1,174.3 1557.3,185.2 1559.2,196 1561,206.9 1561.2,217.8 1561.2,228.6 1561.2,239.5 1561.2,250.4 1561.2,261.2 1561.2,272.1 1561.2,283 1561.2,293.8 1561.2,304.7 L1563.2,305.7 1563.2,42.9Z" fill="#ff0e00"/>
<path d="M1542.2,43.9 1544.5,54.8 1546.7,65.6 1548.9,76.5 1551.1,87.4 1553.2,98.2 1555.3,109.1 1557.3,120 1559.4,130.8 1561.2,141.7 1561.2,152.6 1561.2,163.4 1561.2,174.3 1561.2,185.2 1561.2,196 1561.2,206.9 1561.2,217.8 1561.2,228.6 1561.2,239.5 1561.2,250.4 1561.2,261.2 1561.2,272.1 1561.2,283 1561.2,293.8 1561.2,304.7 L1563.2,305.7 1563.2,42.9Z" fill="#ff0000"/>
<path d="M1088.4,43.9 1090.1,46.1 1093.4,50.4 1096.7,54.8 1100,59.1 1103.4,63.5 1106.7,67.8 1110,72.2 1113.4,76.5 1116.7,80.8 1120,85.2 1123.3,89.5 1126.7,93.9 1130,98.2 1133.3,102.6 1136.6,106.9 1140,111.3 1143.3,115.6 1146.6,120 1150,124.3 1153.3,128.7 1156.6,133 1159.9,137.4 1163.3,141.7 1166.6,146 1169.9,150.4 1173.3,154.7 1176.6,159.1 1179.9,163.4 1183.2,167.8 1186.6,172.1 1189.9,176.5 1193.2,180.8 1196.5,185.2 1199.9,189.5 1203.2,193.9 1206.5,198.2 1209.9,202.6 1213.2,206.9 1216.5,211.2 1219.8,215.6 1223.2,219.9 1226.5,224.3 1229.8,228.6 1233.2,233 1236.5,237.3 1239.8,241.7 1243.1,246 1246.5,250.4 1249.8,254.7 1253.1,259.1 1256.5,263.4 1259.8,267.8 1263.1,272.1 1266.4,276.4 1269.8,280.8 1273.1,285.1 1276.4,289.5 1279.7,293.8 1283.1,298.2 1286.4,302.5 1288.1,304.7" fill="none" stroke="#303030" stroke-opacity="0.8" stroke-width="0.62"/>
<path d="M1128.5,43.9 1130,46.1 1132.7,50.4 1135.5,54.8 1138.2,59.1 1141,63.5 1143.7,67.8 1146.5,72.2 1149.3,76.5 1152.2,80.8 1155,85.2 1157.9,89.5 1160.8,93.9 1163.7,98.2 1166.6,102.6 1169.5,106.9 1172.5,111.3 1175.4,115.6 1178.4,120 1181.4,124.3 1184.4,128.7 1187.4,133 1190.5,137.4 1193.5,141.7 1196.6,146 1199.6,150.4 1202.7,154.7 1205.8,159.1 1209,163.4 1212.1,167.8 1215.2,172.1 1218.4,176.5 1221.5,180.8 1224.7,185.2 1227.9,189.5 1231.1,193.9 1234.3,198.2 1237.5,202.6 1240.7,206.9 1243.9,211.2 1247.2,215.6 1250.4,219.9 1253.7,224.3 1256.9,228.6 1260.2,233 1263.5,237.3 1266.8,241.7 1270.1,246 1273.5,250.4 1276.9,254.7 1280.4,259.1 1283.8,263.4 1287.3,267.8 1290.8,272.1 1294.4,276.4 1297.9,280.8 1301.5,285.1 1305.1,289.5 1308.7,293.8 1312.4,298.2 1316.1,302.5 1317.9,304.7" fill="none" stroke="#303030" stroke-opacity="0.8" stroke-width="0.62"/>
<path d="M1173.8,43.9 1175,46.1 1176.6,50.4 1178.3,54.8 1180,59.1 1181.8,63.5 1183.7,67.8 1185.7,72.2 1187.7,76.5 1189.9,80.8 1192,85.2 1194.3,89.5 1196.6,93.9 1199,98.2 1201.4,102.6 1203.9,106.9 1206.4,111.3 1209,115.6 1211.7,120 1214.4,124.3 1217.1,128.7 1219.9,133 1222.7,137.4 1225.6,141.7 1228.5,146 1231.4,150.4 1234.4,154.7 1237.4,159.1 1240.4,163.4 1243.7,167.8 1247.1,172.1 1250.6,176.5 1254.3,180.8 1258.1,185.2 1262,189.5 1266,193.9 1270.1,198.2 1274.2,202.6 1278.3,206.9 1282.5,211.2 1286.6,215.6 1290.8,219.9 1294.9,224.3 1299,228.6 1303,233 1307,237.3 1310.9,241.7 1314.9,246 1318.9,250.4 1322.7,254.7 1326.2,259.1 1327.3,260.5" fill="none" stroke="#303030" stroke-opacity="0.8" stroke-width="0.62"/>
<path d="M1338.7,277.2 1340,279.3 1342.5,283.7 1344.8,288 1347,292.4 1349,296.7 1350.9,301.1 1352.8,304.7" fill="none" stroke="#303030" stroke-opacity="0.8" stroke-width="0.62"/>
<path d="M1226.5,43.9 1228.1,46.1 1231.1,50.4 1234.1,54.8 1237.1,59.1 1240.1,63.5 1243.2,67.8 1246.2,72.2 1249.2,76.5 1252.3,80.8 1255.3,85.2 1258.4,89.5 1261.4,93.9 1264.5,98.2 1267.5,102.6 1270.6,106.9 1273.6,111.3 1276.7,115.6 1279.7,120 1282.8,124.3 1285.9,128.7 1288.9,133 1292,137.4 1295.1,141.7 1298.1,146 1301.2,150.4 1304.3,154.7 1307.4,159.1 1310.4,163.4 1313.5,167.8 1316.6,172.1 1319.8,176.5 1322.9,180.8 1326,185.2 1329.1,189.5 1332.2,193.9" fill="none" stroke="#303030" stroke-opacity="0.8" stroke-width="0.62"/>
<path d="M1343.6,210.5 1345,212.7 1347.6,217 1350.3,221.4 1352.8,225.7 1355.3,230.1 1357.8,234.4 1360.2,238.8 1362.5,243.1 1364.9,247.5 1367.2,251.8 1369.5,256.2 1371.8,260.5 1374,264.9 1376.2,269.2 1378.4,273.5 1380.4,277.9 1382.5,282.2 1384.4,286.6 1386.3,290.9 1388,295.3 1389.8,299.6 1391.6,304 1391.9,304.7" fill="none" stroke="#303030" stroke-opacity="0.8" stroke-width="0.62"/>
<path d="M1307.7,43.9 1309,46.1 1311.5,50.4 1314,54.8 1316.6,59.1 1319.1,63.5 1321.7,67.8 1324.2,72.2 1326.7,76.5 1329.3,80.8 1330.1,82.3" fill="none" stroke="#303030" stroke-opacity="0.8" stroke-width="0.62"/>
<path d="M1339.9,99 1341.1,101.1 1343.7,105.5 1346.2,109.8 1348.8,114.2 1351.4,118.5 1354,122.9 1356.6,127.2 1359.1,131.6 1361.7,135.9 1364.3,140.3 1366.9,144.6 1369.4,148.9 1371.9,153.3 1374.5,157.6 1377,162 1379.4,166.3 1381.9,170.7 1384.3,175 1386.8,179.4 1389.2,183.7 1391.7,188.1 1394.1,192.4 1396.5,196.8 1398.8,201.1 1401.1,205.5 1403.2,209.8 1405.4,214.1 1407.4,218.5 1409.5,222.8 1411.6,227.2 1413.6,231.5 1415.5,235.9 1417.3,240.2 1419,244.6 1420.5,248.9 1421.9,253.3 1423.1,257.6 1424.3,262 1425.3,266.3 1426.3,270.7 1427.3,275 1428.3,279.3 1429.4,283.7 1430.4,288 1431.4,292.4 1432.4,296.7 1433.4,301.1 1434.2,304.7" fill="none" stroke="#303030" stroke-opacity="0.8" stroke-width="0.62"/>
<path d="M1391.1,43.9 1392,46.1 1394,50.4 1396,54.8 1398,59.1 1399.9,63.5 1401.9,67.8 1403.9,72.2 1405.8,76.5 1407.8,80.8 1409.7,85.2 1411.7,89.5 1413.6,93.9 1415.6,98.2 1417.5,102.6 1419.4,106.9 1421.4,111.3 1423.3,115.6 1425.2,120 1427.2,124.3 1429.1,128.7 1431,133 1433,137.4 1434.9,141.7 1436.8,146 1438.7,150.4 1440.6,154.7 1442.5,159.1 1444.3,163.4 1446.1,167.8 1447.9,172.1 1449.6,176.5 1451.3,180.8 1453,185.2 1454.7,189.5 1456.3,193.9 1458,198.2 1459.6,202.6 1460.4,204.7" fill="none" stroke="#303030" stroke-opacity="0.8" stroke-width="0.62"/>
<path d="M1466.5,221.4 1467.2,223.6 1468.6,227.9 1470,232.3 1471.3,236.6 1472.7,240.9 1473.9,245.3 1475.1,249.6 1476.2,254 1477.1,258.3 1477.9,262.7 1478.7,267 1479.4,271.4 1480.1,275.7 1480.7,280.1 1481.3,284.4 1481.8,288.8 1482.2,293.1 1482.5,297.5 1482.9,301.8 1483.3,304.7" fill="none" stroke="#303030" stroke-opacity="0.8" stroke-width="0.62"/>
<path d="M1473.1,43.9 1473.9,46.1 1475.5,50.4 1477.2,54.8 1478.9,59.1 1480.5,63.5 1482.1,67.8 1483.7,72.2 1485.3,76.5 1486.9,80.8 1488.5,85.2 1490,89.5 1491.5,93.9 1493,98.2 1494.5,102.6 1495.9,106.9 1497.4,111.3 1498.8,115.6 1500.2,120 1501.6,124.3 1503,128.7 1504.4,133 1505.7,137.4 1507.1,141.7 1508.4,146 1509.7,150.4 1511,154.7 1512.3,159.1 1513.6,163.4 1514.9,167.8 1516.1,172.1 1517.3,176.5 1518.6,180.8 1519.7,185.2 1520.8,189.5 1521.9,193.9" fill="none" stroke="#303030" stroke-opacity="0.8" stroke-width="0.62"/>
<path d="M1525.5,210.5 1525.9,212.7 1526.9,217 1528,221.4 1529.1,225.7 1530.1,230.1 1531.2,234.4 1532.1,238.8 1533,243.1 1533.8,247.5 1534.3,251.8 1534.9,256.2 1535.4,260.5 1535.9,264.9 1536.3,269.2 1536.7,273.5 1537.1,277.9 1537.5,282.2 1537.8,286.6 1538,290.9 1538.1,295.3 1538.2,299.6 1538.5,304 1538.6,304.7" fill="none" stroke="#303030" stroke-opacity="0.8" stroke-width="0.62"/>
<path d="M1559.7,43.9 1560,46.1 1560.7,50.4 1561.3,54.8 1561.9,59.1 1562.6,63.5 1563.2,67.8 1563.9,72.2 1564.5,76.5 1565.2,80.8 1565.8,85.2 1566.5,89.5 1567.1,93.9 1567.8,98.2 1568.4,102.6 1569,106.9 1569.7,111.3 1570.3,115.6 1571,120 1571.6,124.3 1572.3,128.7 1572.9,133 1573.6,137.4 1574.2,141.7 1574.9,146 1575.5,150.4 1576.1,154.7 1576.8,159.1 1577.4,163.4 1578.1,167.8 1578.7,172.1 1579.4,176.5 1580,180.8 1580.7,185.2 1581.3,189.5 1581.9,193.9 1582.6,198.2 1583.2,202.6 1583.9,206.9 1584.5,211.2 1585.2,215.6 1585.8,219.9 1586.5,224.3 1587.1,228.6 1587.8,233 1588.4,237.3 1589,241.7 1589.7,246 1590.3,250.4 1591,254.7 1591.6,259.1 1592.3,263.4 1592.9,267.8 1593.6,272.1 1594.2,276.4 1594.9,280.8 1595.5,285.1 1596.1,289.5 1596.8,293.8 1597.4,298.2 1598.1,302.5 1598.4,304.7" fill="none" stroke="#303030" stroke-opacity="0.8" stroke-width="0.62"/>
<text transform="translate(1317.39 97.3) rotate(0.03)" font-family="Liberation Sans, sans-serif" font-size="18.9" fill="#404040" stroke="#404040" stroke-width="0.3">1.92</text>
<text transform="translate(1320.39 208.8) rotate(0.03)" font-family="Liberation Sans, sans-serif" font-size="18.9" fill="#404040" stroke="#404040" stroke-width="0.3">1.77</text>
<text transform="translate(1445.06 219.8) rotate(0.03)" font-family="Liberation Sans, sans-serif" font-size="18.9" fill="#404040" stroke="#404040" stroke-width="0.3">2.07</text>
<text transform="translate(1505.66 208.6) rotate(0.03)" font-family="Liberation Sans, sans-serif" font-size="18.9" fill="#404040" stroke="#404040" stroke-width="0.3">2.22</text>
<text transform="translate(1314.89 275.4) rotate(0.03)" font-family="Liberation Sans, sans-serif" font-size="18.9" fill="#404040" stroke="#404040" stroke-width="0.3">1.63</text>
</g>
<rect x="1313.1" y="48" width="39.8" height="33" fill="#fff"/>
<text transform="translate(1333 72.6) scale(0.975 1) rotate(0.03)" text-anchor="middle" font-family="Liberation Sans, sans-serif" font-size="22.8" stroke="#000" stroke-width="0.3">Mn</text>
<polygon points="1392.8,282.2 1395.0,288.0 1401.5,288.2 1396.3,292.0 1398.2,298.0 1392.8,294.5 1387.5,298.0 1389.3,292.0 1384.2,288.2 1390.6,288.0" fill="none" stroke="#000" stroke-width="1.35" stroke-linejoin="round"/>
<polygon points="1426.6,237.5 1428.8,243.4 1435.3,243.6 1430.1,247.4 1432.0,253.4 1426.6,249.8 1421.3,253.4 1423.1,247.4 1417.9,243.6 1424.4,243.4" fill="none" stroke="#000" stroke-width="1.35" stroke-linejoin="round"/>
<polygon points="1526.9,103.5 1529.0,109.4 1535.5,109.6 1530.4,113.4 1532.2,119.4 1526.9,115.9 1521.5,119.4 1523.3,113.4 1518.2,109.6 1524.7,109.4" fill="none" stroke="#000" stroke-width="1.35" stroke-linejoin="round"/>
<path d="M1368.1,302.7v-4.7M1368.1,45.9v4.7M1430.4,302.7v-4.7M1430.4,45.9v4.7M1492.7,302.7v-4.7M1492.7,45.9v4.7M1306.1,291.4h4.7M1555.2,291.4h-4.7M1306.1,246.7h4.7M1555.2,246.7h-4.7M1306.1,202.1h4.7M1555.2,202.1h-4.7M1306.1,157.4h4.7M1555.2,157.4h-4.7M1306.1,112.7h4.7M1555.2,112.7h-4.7M1306.1,68.1h4.7M1555.2,68.1h-4.7M1337,302.7v-2.4M1337,45.9v2.4M1399.3,302.7v-2.4M1399.3,45.9v2.4M1461.5,302.7v-2.4M1461.5,45.9v2.4M1523.8,302.7v-2.4M1523.8,45.9v2.4M1306.1,269.1h2.4M1555.2,269.1h-2.4M1306.1,224.4h2.4M1555.2,224.4h-2.4M1306.1,179.7h2.4M1555.2,179.7h-2.4M1306.1,135.1h2.4M1555.2,135.1h-2.4M1306.1,90.4h2.4M1555.2,90.4h-2.4" stroke="#000" stroke-width="2.7" stroke-linecap="round" fill="none"/>
<rect x="1306.1" y="45.9" width="249.1" height="256.8" fill="none" stroke="#000" stroke-width="2.7"/>
<text transform="translate(1306.15 327.7) scale(0.96 1) rotate(0.03)" text-anchor="middle" font-family="Liberation Sans, sans-serif" font-size="22.8" stroke="#000" stroke-width="0.3">2.62</text>
<text transform="translate(1368.42 327.7) scale(0.96 1) rotate(0.03)" text-anchor="middle" font-family="Liberation Sans, sans-serif" font-size="22.8" stroke="#000" stroke-width="0.3">2.64</text>
<text transform="translate(1430.7 327.7) scale(0.96 1) rotate(0.03)" text-anchor="middle" font-family="Liberation Sans, sans-serif" font-size="22.8" stroke="#000" stroke-width="0.3">2.66</text>
<text transform="translate(1492.97 327.7) scale(0.96 1) rotate(0.03)" text-anchor="middle" font-family="Liberation Sans, sans-serif" font-size="22.8" stroke="#000" stroke-width="0.3">2.68</text>
<text transform="translate(1555.25 327.7) scale(0.96 1) rotate(0.03)" text-anchor="middle" font-family="Liberation Sans, sans-serif" font-size="22.8" stroke="#000" stroke-width="0.3">2.70</text>
<clipPath id="cNi0"><rect x="1600.5" y="45.9" width="249.1" height="256.8"/></clipPath>
<g clip-path="url(#cNi0)">
<rect x="1599.5" y="44.9" width="251.1" height="258.8" fill="#0000ff"/>
<path d="M1598.5,301.2 1609,301.4 1619.6,301.6 1630.1,301.8 1640.7,302 1651.2,302.2 1661.8,302.4 1672.3,302.6 1682.9,302.8 1693.4,302.9 1704,303.1 1714.5,303.3 1725,303.5 1735.6,303.6 1746.1,303.8 1756.7,304 1767.2,304.1 1777.8,304.3 1788.3,304.4 1798.9,304.6 1809.4,304.8 1820,304.9 1830.5,305.1 1841.1,305.2 1851.6,305.4 L1852.6,37.9 1597.5,37.9Z" fill="#000eff"/>
<path d="M1598.5,296.2 1609,296.5 1619.6,296.7 1630.1,296.9 1640.7,297.2 1651.2,297.4 1661.8,297.6 1672.3,297.8 1682.9,298 1693.4,298.2 1704,298.4 1714.5,298.6 1725,298.8 1735.6,299 1746.1,299.2 1756.7,299.4 1767.2,299.5 1777.8,299.7 1788.3,299.9 1798.9,300 1809.4,300.2 1820,300.3 1830.5,300.5 1841.1,300.6 1851.6,300.8 L1852.6,37.9 1597.5,37.9Z" fill="#001cff"/>
<path d="M1598.5,290.2 1609,290.5 1619.6,290.8 1630.1,291.1 1640.7,291.3 1651.2,291.6 1661.8,291.8 1672.3,292.1 1682.9,292.3 1693.4,292.6 1704,292.8 1714.5,293 1725,293.2 1735.6,293.4 1746.1,293.6 1756.7,293.9 1767.2,294 1777.8,294.2 1788.3,294.4 1798.9,294.6 1809.4,294.8 1820,295 1830.5,295.1 1841.1,295.3 1851.6,295.4 L1852.6,37.9 1597.5,37.9Z" fill="#0029ff"/>
<path d="M1598.5,283.4 1609,283.7 1619.6,284.1 1630.1,284.4 1640.7,284.7 1651.2,285 1661.8,285.3 1672.3,285.6 1682.9,285.9 1693.4,286.1 1704,286.4 1714.5,286.7 1725,286.9 1735.6,287.2 1746.1,287.4 1756.7,287.6 1767.2,287.9 1777.8,288.1 1788.3,288.3 1798.9,288.5 1809.4,288.7 1820,288.9 1830.5,289.1 1841.1,289.3 1851.6,289.4 L1852.6,37.9 1597.5,37.9Z" fill="#0037ff"/>
<path d="M1598.5,276 1609,276.4 1619.6,276.7 1630.1,277.1 1640.7,277.5 1651.2,277.8 1661.8,278.2 1672.3,278.5 1682.9,278.8 1693.4,279.2 1704,279.5 1714.5,279.8 1725,280 1735.6,280.3 1746.1,280.6 1756.7,280.9 1767.2,281.1 1777.8,281.4 1788.3,281.6 1798.9,281.9 1809.4,282.1 1820,282.3 1830.5,282.5 1841.1,282.7 1851.6,282.9 L1852.6,37.9 1597.5,37.9Z" fill="#0045ff"/>
<path d="M1598.5,267.7 1609,268.1 1619.6,268.6 1630.1,269 1640.7,269.4 1651.2,269.8 1661.8,270.2 1672.3,270.6 1682.9,271 1693.4,271.3 1704,271.7 1714.5,272 1725,272.4 1735.6,272.7 1746.1,273 1756.7,273.3 1767.2,273.7 1777.8,274 1788.3,274.2 1798.9,274.5 1809.4,274.8 1820,275.1 1830.5,275.3 1841.1,275.6 1851.6,275.8 L1852.6,37.9 1597.5,37.9Z" fill="#0053ff"/>
<path d="M1598.5,257.9 1609,258.4 1619.6,258.9 1630.1,259.4 1640.7,259.9 1651.2,260.4 1661.8,260.9 1672.3,261.3 1682.9,261.8 1693.4,262.2 1704,262.6 1714.5,263 1725,263.5 1735.6,263.9 1746.1,264.2 1756.7,264.6 1767.2,265 1777.8,265.4 1788.3,265.7 1798.9,266.1 1809.4,266.4 1820,266.8 1830.5,267.1 1841.1,267.4 1851.6,267.7 L1852.6,37.9 1597.5,37.9Z" fill="#0060ff"/>
<path d="M1598.5,246.8 1609,247.3 1619.6,247.9 1630.1,248.5 1640.7,249 1651.2,249.6 1661.8,250.1 1672.3,250.7 1682.9,251.2 1693.4,251.7 1704,252.2 1714.5,252.7 1725,253.2 1735.6,253.7 1746.1,254.2 1756.7,254.7 1767.2,255.1 1777.8,255.6 1788.3,256 1798.9,256.5 1809.4,256.9 1820,257.3 1830.5,257.7 1841.1,258.2 1851.6,258.6 L1852.6,37.9 1597.5,37.9Z" fill="#006eff"/>
<path d="M1598.5,234.2 1609,234.8 1619.6,235.5 1630.1,236.1 1640.7,236.8 1651.2,237.4 1661.8,238 1672.3,238.7 1682.9,239.3 1693.4,239.9 1704,240.5 1714.5,241.1 1725,241.7 1735.6,242.3 1746.1,242.8 1756.7,243.4 1767.2,243.9 1777.8,244.5 1788.3,245 1798.9,245.6 1809.4,246.1 1820,246.6 1830.5,247.2 1841.1,247.7 1851.6,248.2 L1852.6,37.9 1597.5,37.9Z" fill="#007cff"/>
<path d="M1598.5,220.2 1609,220.9 1619.6,221.7 1630.1,222.4 1640.7,223.1 1651.2,223.9 1661.8,224.6 1672.3,225.3 1682.9,226 1693.4,226.7 1704,227.4 1714.5,228.1 1725,228.8 1735.6,229.5 1746.1,230.1 1756.7,230.8 1767.2,231.5 1777.8,232.1 1788.3,232.7 1798.9,233.4 1809.4,234 1820,234.6 1830.5,235.3 1841.1,235.9 1851.6,236.5 L1852.6,37.9 1597.5,37.9Z" fill="#008aff"/>
<path d="M1598.5,203.8 1609,204.7 1619.6,205.5 1630.1,206.4 1640.7,207.2 1651.2,208.1 1661.8,208.9 1672.3,209.7 1682.9,210.6 1693.4,211.4 1704,212.2 1714.5,213 1725,213.8 1735.6,214.5 1746.1,215.3 1756.7,216.1 1767.2,216.8 1777.8,217.6 1788.3,218.3 1798.9,219.1 1809.4,219.8 1820,220.5 1830.5,221.2 1841.1,222 1851.6,222.7 L1852.6,37.9 1597.5,37.9Z" fill="#0098ff"/>
<path d="M1598.5,184.1 1609,185.1 1619.6,186.1 1630.1,187.1 1640.7,188.1 1651.2,189 1661.8,190 1672.3,191 1682.9,191.9 1693.4,192.8 1704,193.8 1714.5,194.7 1725,195.6 1735.6,196.5 1746.1,197.4 1756.7,198.3 1767.2,199.1 1777.8,200 1788.3,200.9 1798.9,201.7 1809.4,202.5 1820,203.4 1830.5,204.2 1841.1,205 1851.6,205.8 L1852.6,37.9 1597.5,37.9Z" fill="#00a5ff"/>
<path d="M1598.5,161.8 1609,162.9 1619.6,164.1 1630.1,165.2 1640.7,166.3 1651.2,167.5 1661.8,168.6 1672.3,169.7 1682.9,170.7 1693.4,171.8 1704,172.9 1714.5,173.9 1725,174.9 1735.6,176 1746.1,177 1756.7,178 1767.2,179 1777.8,179.9 1788.3,180.9 1798.9,181.9 1809.4,182.8 1820,183.8 1830.5,184.7 1841.1,185.6 1851.6,186.5 L1852.6,37.9 1597.5,37.9Z" fill="#00b3ff"/>
<path d="M1598.5,137.7 1609,139 1619.6,140.3 1630.1,141.6 1640.7,142.9 1651.2,144.1 1661.8,145.4 1672.3,146.6 1682.9,147.8 1693.4,149 1704,150.1 1714.5,151.3 1725,152.4 1735.6,153.6 1746.1,154.7 1756.7,155.8 1767.2,156.9 1777.8,158 1788.3,159.1 1798.9,160.1 1809.4,161.2 1820,162.2 1830.5,163.3 1841.1,164.3 1851.6,165.3 L1852.6,37.9 1597.5,37.9Z" fill="#00c1ff"/>
<path d="M1598.5,112.9 1609,114.2 1619.6,115.6 1630.1,117 1640.7,118.4 1651.2,119.7 1661.8,121.1 1672.3,122.4 1682.9,123.7 1693.4,125 1704,126.2 1714.5,127.5 1725,128.7 1735.6,129.9 1746.1,131.2 1756.7,132.4 1767.2,133.6 1777.8,134.8 1788.3,135.9 1798.9,137.1 1809.4,138.2 1820,139.3 1830.5,140.5 1841.1,141.6 1851.6,142.7 L1852.6,37.9 1597.5,37.9Z" fill="#00cfff"/>
<path d="M1598.5,86.5 1609,88 1619.6,89.4 1630.1,90.8 1640.7,92.3 1651.2,93.7 1661.8,95.1 1672.3,96.4 1682.9,97.8 1693.4,99.1 1704,100.4 1714.5,101.7 1725,103 1735.6,104.3 1746.1,105.6 1756.7,106.9 1767.2,108.1 1777.8,109.4 1788.3,110.6 1798.9,111.9 1809.4,113.1 1820,114.3 1830.5,115.4 1841.1,116.6 1851.6,117.8 L1852.6,37.9 1597.5,37.9Z" fill="#00ddff"/>
<path d="M1598.5,58.2 1609,59.6 1619.6,61.1 1630.1,62.5 1640.7,64 1651.2,65.4 1661.8,66.8 1672.3,68.2 1682.9,69.5 1693.4,70.9 1704,72.2 1714.5,73.6 1725,74.9 1735.6,76.2 1746.1,77.5 1756.7,78.8 1767.2,80.1 1777.8,81.4 1788.3,82.7 1798.9,83.9 1809.4,85.2 1820,86.4 1830.5,87.7 1841.1,88.9 1851.6,90.1 L1852.6,37.9 1597.5,37.9Z" fill="#00eaff"/>
<path d="M1598.5,39.9 1609,39.9 1619.6,39.9 1630.1,39.9 1640.7,39.9 1651.2,39.9 1661.8,39.9 1672.3,39.9 1682.9,39.9 1693.4,40.5 1704,41.8 1714.5,43.2 1725,44.5 1735.6,45.8 1746.1,47.1 1756.7,48.4 1767.2,49.7 1777.8,51 1788.3,52.3 1798.9,53.6 1809.4,54.9 1820,56.1 1830.5,57.4 1841.1,58.6 1851.6,59.9 L1852.6,37.9 1597.5,37.9Z" fill="#00f8ff"/>
<path d="M1598.5,305 1600.6,305 1604.8,305.1 1609,305.1 1613.3,305.2 1617.5,305.3 1621.7,305.3 1625.9,305.4 1630.1,305.5 1634.4,305.5 1638.6,305.6 1642.8,305.7 1647,305.8 1651.2,305.8 1655.4,305.9 1659.7,306 1663.9,306 1668.1,306.1 1672.3,306.2 1676.5,306.2 1680.8,306.3 1685,306.4 1689.2,306.4 1693.4,306.5 1697.6,306.6 1701.8,306.6 1706.1,306.7 1710.3,306.8 1714.5,306.8 1718.7,306.9 1722.9,307 1727.2,307 1731.4,307.1 1735.6,307.2 1739.8,307.2 1744,307.3 1748.3,307.4 1752.5,307.4 1756.7,307.5 1760.9,307.6 1765.1,307.6 1769.3,307.7 1773.6,307.8 1777.8,307.8 1782,307.9 1786.2,308 1790.4,308 1794.7,308.1 1798.9,308.2 1803.1,308.2 1807.3,308.3 1811.5,308.4 1815.7,308.5 1820,308.5 1824.2,308.6 1828.4,308.7 1832.6,308.7 1836.8,308.8 1841.1,308.9 1845.3,308.9 1849.5,309 1851.6,309" fill="none" stroke="#303030" stroke-opacity="0.8" stroke-width="0.62"/>
<path d="M1598.5,275.5 1600.6,275.6 1604.8,275.7 1609,275.9 1613.3,276 1617.5,276.2 1621.7,276.3 1625.9,276.5 1630.1,276.6 1634.4,276.8 1638.6,276.9 1642.8,277 1647,277.2 1651.2,277.3 1655.4,277.5 1659.7,277.6 1663.9,277.7 1668.1,277.9 1672.3,278 1676.5,278.2 1680.8,278.3 1685,278.4 1689.2,278.5 1693.4,278.7 1697.6,278.8 1701.8,278.9 1706.1,279 1710.3,279.2 1714.5,279.3 1718.7,279.4 1722.9,279.5 1725,279.6" fill="none" stroke="#303030" stroke-opacity="0.8" stroke-width="0.62"/>
<path d="M1763,280.6 1765.1,280.6 1769.3,280.7 1773.6,280.8 1777.8,280.9 1782,281 1786.2,281.1 1790.4,281.2 1794.7,281.3 1798.9,281.4 1803.1,281.5 1807.3,281.6 1811.5,281.7 1815.7,281.8 1820,281.9 1824.2,281.9 1828.4,282 1832.6,282.1 1836.8,282.2 1841.1,282.3 1845.3,282.3 1849.5,282.4 1851.6,282.5" fill="none" stroke="#303030" stroke-opacity="0.8" stroke-width="0.62"/>
<path d="M1598.5,218.2 1600.6,218.3 1604.8,218.6 1609,218.9 1613.3,219.2 1617.5,219.5 1621.7,219.8 1625.9,220.1 1630.1,220.4 1634.4,220.7 1638.6,221 1642.8,221.3 1647,221.6 1651.2,221.9 1655.4,222.2 1659.7,222.5 1663.9,222.8 1668.1,223.1 1672.3,223.4 1676.5,223.7 1680.8,224 1685,224.3 1689.2,224.6 1693.4,224.8 1697.6,225.1 1701.8,225.4 1706.1,225.7 1710.3,226 1714.5,226.3 1718.7,226.5 1722.9,226.8 1725.8,227" fill="none" stroke="#303030" stroke-opacity="0.8" stroke-width="0.62"/>
<path d="M1763.7,229.4 1765.8,229.6 1770,229.8 1774.3,230.1 1778.5,230.4 1782.7,230.6 1786.9,230.9 1791.1,231.2 1795.4,231.4 1799.6,231.7 1803.8,231.9 1808,232.2 1812.2,232.5 1816.4,232.7 1820.7,233 1824.9,233.2 1829.1,233.5 1833.3,233.7 1837.5,234 1841.8,234.2 1846,234.5 1850.2,234.7 1851.6,234.8" fill="none" stroke="#303030" stroke-opacity="0.8" stroke-width="0.62"/>
<path d="M1598.5,116.3 1600.6,116.5 1604.8,117.1 1609,117.6 1613.3,118.2 1617.5,118.7 1621.7,119.3 1625.9,119.8 1630.1,120.4 1634.4,120.9 1638.6,121.5 1642.8,122 1647,122.5 1651.2,123.1 1654.7,123.5" fill="none" stroke="#303030" stroke-opacity="0.8" stroke-width="0.62"/>
<path d="M1692.7,128.2 1694.8,128.4 1699,128.9 1703.3,129.4 1707.5,129.9 1711.7,130.4 1715.9,130.9 1720.1,131.4 1724.3,131.9 1728.6,132.4 1732.8,132.9 1737,133.4 1741.2,133.8 1745.4,134.3 1749.7,134.8 1753.9,135.3 1758.1,135.8 1762.3,136.2 1766.5,136.7 1770.7,137.2 1775,137.7 1779.2,138.1 1783.4,138.6 1787.6,139 1791.8,139.5 1796.1,140 1800.3,140.4 1804.5,140.9 1808.7,141.3 1812.9,141.8 1817.2,142.2 1821.4,142.7 1825.6,143.1 1829.8,143.5 1834,144 1838.2,144.4 1842.5,144.8 1846.7,145.3 1850.9,145.7 1851.6,145.8" fill="none" stroke="#303030" stroke-opacity="0.8" stroke-width="0.62"/>
<path d="M1598.5,-35.2 1600.6,-34.9 1604.8,-34.4 1609,-33.9 1613.3,-33.4 1617.5,-32.9 1621.7,-32.4 1625.9,-31.9 1630.1,-31.4 1634.4,-30.9 1638.6,-30.4 1642.8,-29.9 1647,-29.4 1651.2,-28.9 1655.4,-28.3 1659.7,-27.8 1663.9,-27.3 1668.1,-26.8 1672.3,-26.3 1676.5,-25.8 1680.8,-25.3 1685,-24.8 1689.2,-24.3 1693.4,-23.8 1697.6,-23.3 1701.8,-22.8 1706.1,-22.3 1710.3,-21.8 1714.5,-21.3 1718.7,-20.8 1722.9,-20.2 1727.2,-19.7 1731.4,-19.2 1735.6,-18.7 1739.8,-18.2 1744,-17.7 1748.3,-17.2 1752.5,-16.7 1756.7,-16.2 1760.9,-15.7 1765.1,-15.2 1769.3,-14.7 1773.6,-14.2 1777.8,-13.7 1782,-13.2 1786.2,-12.7 1790.4,-12.1 1794.7,-11.6 1798.9,-11.1 1803.1,-10.6 1807.3,-10.1 1811.5,-9.6 1815.7,-9.1 1820,-8.6 1824.2,-8.1 1828.4,-7.6 1832.6,-7.1 1836.8,-6.6 1841.1,-6.1 1845.3,-5.6 1849.5,-5.1 1851.6,-4.8" fill="none" stroke="#303030" stroke-opacity="0.8" stroke-width="0.62"/>
<text transform="translate(1656.14 132.7) rotate(0.03)" font-family="Liberation Sans, sans-serif" font-size="18.9" fill="#404040" stroke="#404040" stroke-width="0.3">0.59</text>
<text transform="translate(1727.54 235) rotate(0.03)" font-family="Liberation Sans, sans-serif" font-size="18.9" fill="#404040" stroke="#404040" stroke-width="0.3">0.45</text>
<text transform="translate(1726.74 286.9) rotate(0.03)" font-family="Liberation Sans, sans-serif" font-size="18.9" fill="#404040" stroke="#404040" stroke-width="0.3">0.30</text>
</g>
<rect x="1609.1" y="52.5" width="28.7" height="32.3" fill="#fff"/>
<text transform="translate(1623.45 76.75) scale(0.975 1) rotate(0.03)" text-anchor="middle" font-family="Liberation Sans, sans-serif" font-size="22.8" stroke="#000" stroke-width="0.3">Ni</text>
<polygon points="1687.2,282.2 1689.4,288.0 1695.9,288.2 1690.7,292.0 1692.6,298.0 1687.2,294.5 1681.9,298.0 1683.7,292.0 1678.6,288.2 1685.0,288.0" fill="none" stroke="#000" stroke-width="1.35" stroke-linejoin="round"/>
<polygon points="1721.0,237.5 1723.2,243.4 1729.7,243.6 1724.5,247.4 1726.4,253.4 1721.0,249.8 1715.7,253.4 1717.5,247.4 1712.3,243.6 1718.8,243.4" fill="none" stroke="#000" stroke-width="1.35" stroke-linejoin="round"/>
<polygon points="1821.3,103.5 1823.4,109.4 1829.9,109.6 1824.8,113.4 1826.6,119.4 1821.3,115.9 1815.9,119.4 1817.7,113.4 1812.6,109.6 1819.1,109.4" fill="none" stroke="#000" stroke-width="1.35" stroke-linejoin="round"/>
<path d="M1662.5,302.7v-4.7M1662.5,45.9v4.7M1724.8,302.7v-4.7M1724.8,45.9v4.7M1787.1,302.7v-4.7M1787.1,45.9v4.7M1600.5,291.4h4.7M1849.6,291.4h-4.7M1600.5,246.7h4.7M1849.6,246.7h-4.7M1600.5,202.1h4.7M1849.6,202.1h-4.7M1600.5,157.4h4.7M1849.6,157.4h-4.7M1600.5,112.7h4.7M1849.6,112.7h-4.7M1600.5,68.1h4.7M1849.6,68.1h-4.7M1631.4,302.7v-2.4M1631.4,45.9v2.4M1693.7,302.7v-2.4M1693.7,45.9v2.4M1755.9,302.7v-2.4M1755.9,45.9v2.4M1818.2,302.7v-2.4M1818.2,45.9v2.4M1600.5,269.1h2.4M1849.6,269.1h-2.4M1600.5,224.4h2.4M1849.6,224.4h-2.4M1600.5,179.7h2.4M1849.6,179.7h-2.4M1600.5,135.1h2.4M1849.6,135.1h-2.4M1600.5,90.4h2.4M1849.6,90.4h-2.4" stroke="#000" stroke-width="2.7" stroke-linecap="round" fill="none"/>
<rect x="1600.5" y="45.9" width="249.1" height="256.8" fill="none" stroke="#000" stroke-width="2.7"/>
<text transform="translate(1600.55 327.7) scale(0.96 1) rotate(0.03)" text-anchor="middle" font-family="Liberation Sans, sans-serif" font-size="22.8" stroke="#000" stroke-width="0.3">2.62</text>
<text transform="translate(1662.83 327.7) scale(0.96 1) rotate(0.03)" text-anchor="middle" font-family="Liberation Sans, sans-serif" font-size="22.8" stroke="#000" stroke-width="0.3">2.64</text>
<text transform="translate(1725.1 327.7) scale(0.96 1) rotate(0.03)" text-anchor="middle" font-family="Liberation Sans, sans-serif" font-size="22.8" stroke="#000" stroke-width="0.3">2.66</text>
<text transform="translate(1787.37 327.7) scale(0.96 1) rotate(0.03)" text-anchor="middle" font-family="Liberation Sans, sans-serif" font-size="22.8" stroke="#000" stroke-width="0.3">2.68</text>
<text transform="translate(1849.65 327.7) scale(0.96 1) rotate(0.03)" text-anchor="middle" font-family="Liberation Sans, sans-serif" font-size="22.8" stroke="#000" stroke-width="0.3">2.70</text>
<clipPath id="cCo1"><rect x="423.3" y="339.4" width="249.1" height="256.7"/></clipPath>
<g clip-path="url(#cCo1)">
<rect x="422.3" y="338.4" width="251.1" height="258.7" fill="#008aff"/>
<path d="M421.3,595 431.8,595.9 442.4,596.9 452.9,597.9 463.5,598.9 474,599.9 484.6,600.9 495.1,601.9 505.7,602.1 516.2,602.1 526.8,602.1 537.3,602.1 547.9,602.1 558.4,602.1 568.9,602.1 579.5,602.1 590,602.1 600.6,602.1 611.1,602.1 621.7,602.1 632.2,602.1 642.8,602.1 653.3,602.1 663.9,602.1 674.4,602.1 L675.4,331.4 420.3,331.4Z" fill="#0098ff"/>
<path d="M421.3,592.6 431.8,593.5 442.4,594.4 452.9,595.4 463.5,596.3 474,597.3 484.6,598.3 495.1,599.2 505.7,600.2 516.2,601.2 526.8,602.1 537.3,602.1 547.9,602.1 558.4,602.1 568.9,602.1 579.5,602.1 590,602.1 600.6,602.1 611.1,602.1 621.7,602.1 632.2,602.1 642.8,602.1 653.3,602.1 663.9,602.1 674.4,602.1 L675.4,331.4 420.3,331.4Z" fill="#00a5ff"/>
<path d="M421.3,589.8 431.8,590.7 442.4,591.6 452.9,592.6 463.5,593.5 474,594.5 484.6,595.5 495.1,596.5 505.7,597.5 516.2,598.5 526.8,599.5 537.3,600.5 547.9,601.6 558.4,602.1 568.9,602.1 579.5,602.1 590,602.1 600.6,602.1 611.1,602.1 621.7,602.1 632.2,602.1 642.8,602.1 653.3,602.1 663.9,602.1 674.4,602.1 L675.4,331.4 420.3,331.4Z" fill="#00b3ff"/>
<path d="M421.3,586.7 431.8,587.6 442.4,588.6 452.9,589.6 463.5,590.6 474,591.6 484.6,592.6 495.1,593.6 505.7,594.6 516.2,595.6 526.8,596.7 537.3,597.7 547.9,598.8 558.4,599.9 568.9,601 579.5,602.1 590,602.1 600.6,602.1 611.1,602.1 621.7,602.1 632.2,602.1 642.8,602.1 653.3,602.1 663.9,602.1 674.4,602.1 L675.4,331.4 420.3,331.4Z" fill="#00c1ff"/>
<path d="M421.3,583.3 431.8,584.4 442.4,585.4 452.9,586.4 463.5,587.5 474,588.5 484.6,589.6 495.1,590.6 505.7,591.7 516.2,592.7 526.8,593.8 537.3,594.9 547.9,596 558.4,597.1 568.9,598.3 579.5,599.4 590,600.5 600.6,601.7 611.1,602.1 621.7,602.1 632.2,602.1 642.8,602.1 653.3,602.1 663.9,602.1 674.4,602.1 L675.4,331.4 420.3,331.4Z" fill="#00cfff"/>
<path d="M421.3,579.6 431.8,580.8 442.4,582 452.9,583.1 463.5,584.3 474,585.4 484.6,586.6 495.1,587.7 505.7,588.8 516.2,589.9 526.8,591.1 537.3,592.3 547.9,593.4 558.4,594.6 568.9,595.7 579.5,596.9 590,598 600.6,599.2 611.1,600.4 621.7,601.5 632.2,602.1 642.8,602.1 653.3,602.1 663.9,602.1 674.4,602.1 L675.4,331.4 420.3,331.4Z" fill="#00ddff"/>
<path d="M421.3,575.3 431.8,576.8 442.4,578.3 452.9,579.6 463.5,580.9 474,582.2 484.6,583.5 495.1,584.7 505.7,586 516.2,587.2 526.8,588.4 537.3,589.7 547.9,590.9 558.4,592.1 568.9,593.3 579.5,594.5 590,595.7 600.6,596.9 611.1,598.1 621.7,599.2 632.2,600.4 642.8,601.6 653.3,602.1 663.9,602.1 674.4,602.1 L675.4,331.4 420.3,331.4Z" fill="#00eaff"/>
<path d="M421.3,570.5 431.8,572.4 442.4,574.2 452.9,575.8 463.5,577.3 474,578.8 484.6,580.2 495.1,581.6 505.7,583 516.2,584.3 526.8,585.7 537.3,587 547.9,588.3 558.4,589.6 568.9,590.8 579.5,592.1 590,593.3 600.6,594.5 611.1,595.7 621.7,596.9 632.2,598.1 642.8,599.3 653.3,600.6 663.9,601.8 674.4,602.1 L675.4,331.4 420.3,331.4Z" fill="#00f8ff"/>
<path d="M421.3,565.4 431.8,567.6 442.4,569.7 452.9,571.6 463.5,573.3 474,575 484.6,576.6 495.1,578.1 505.7,579.7 516.2,581.1 526.8,582.6 537.3,584 547.9,585.4 558.4,586.7 568.9,588.1 579.5,589.4 590,590.7 600.6,591.9 611.1,593.1 621.7,594.4 632.2,595.6 642.8,596.9 653.3,598.1 663.9,599.4 674.4,600.7 L675.4,331.4 420.3,331.4Z" fill="#00fff8"/>
<path d="M421.3,559.9 431.8,562.4 442.4,564.8 452.9,566.8 463.5,568.8 474,570.6 484.6,572.4 495.1,574.1 505.7,575.8 516.2,577.4 526.8,579 537.3,580.5 547.9,582 558.4,583.5 568.9,584.9 579.5,586.3 590,587.6 600.6,588.9 611.1,590.2 621.7,591.5 632.2,592.8 642.8,594.1 653.3,595.4 663.9,596.8 674.4,598.1 L675.4,331.4 420.3,331.4Z" fill="#00ffea"/>
<path d="M421.3,554 431.8,556.6 442.4,559.2 452.9,561.4 463.5,563.5 474,565.6 484.6,567.5 495.1,569.4 505.7,571.2 516.2,573 526.8,574.7 537.3,576.4 547.9,578 558.4,579.6 568.9,581.2 579.5,582.7 590,584.1 600.6,585.6 611.1,587 621.7,588.3 632.2,589.7 642.8,591.1 653.3,592.6 663.9,594 674.4,595.4 L675.4,331.4 420.3,331.4Z" fill="#00ffdd"/>
<path d="M421.3,547.5 431.8,550.2 442.4,552.9 452.9,555.2 463.5,557.5 474,559.7 484.6,561.8 495.1,563.9 505.7,565.9 516.2,567.8 526.8,569.7 537.3,571.6 547.9,573.4 558.4,575.2 568.9,576.9 579.5,578.6 590,580.2 600.6,581.8 611.1,583.4 621.7,584.9 632.2,586.5 642.8,588 653.3,589.6 663.9,591.1 674.4,592.7 L675.4,331.4 420.3,331.4Z" fill="#00ffcf"/>
<path d="M421.3,540.5 431.8,543.2 442.4,545.9 452.9,548.3 463.5,550.7 474,553.1 484.6,555.4 495.1,557.6 505.7,559.8 516.2,562 526.8,564.1 537.3,566.2 547.9,568.2 558.4,570.2 568.9,572.1 579.5,574 590,575.8 600.6,577.6 611.1,579.4 621.7,581.1 632.2,582.8 642.8,584.6 653.3,586.3 663.9,588 674.4,589.7 L675.4,331.4 420.3,331.4Z" fill="#00ffc1"/>
<path d="M421.3,532.7 431.8,535.4 442.4,538.2 452.9,540.8 463.5,543.3 474,545.8 484.6,548.3 495.1,550.7 505.7,553.1 516.2,555.5 526.8,557.8 537.3,560.1 547.9,562.3 558.4,564.5 568.9,566.7 579.5,568.8 590,570.8 600.6,572.8 611.1,574.8 621.7,576.8 632.2,578.7 642.8,580.6 653.3,582.5 663.9,584.4 674.4,586.2 L675.4,331.4 420.3,331.4Z" fill="#00ffb3"/>
<path d="M421.3,524.2 431.8,527 442.4,529.8 452.9,532.6 463.5,535.3 474,537.9 484.6,540.6 495.1,543.2 505.7,545.8 516.2,548.4 526.8,550.9 537.3,553.4 547.9,555.9 558.4,558.3 568.9,560.6 579.5,562.9 590,565.2 600.6,567.4 611.1,569.7 621.7,571.8 632.2,574 642.8,576.1 653.3,578.1 663.9,580.2 674.4,582.2 L675.4,331.4 420.3,331.4Z" fill="#00ffa5"/>
<path d="M421.3,514.7 431.8,517.7 442.4,520.7 452.9,523.6 463.5,526.5 474,529.3 484.6,532.1 495.1,534.9 505.7,537.7 516.2,540.4 526.8,543.1 537.3,545.8 547.9,548.4 558.4,551 568.9,553.5 579.5,556 590,558.5 600.6,561 611.1,563.4 621.7,565.8 632.2,568.2 642.8,570.5 653.3,572.8 663.9,575 674.4,577.3 L675.4,331.4 420.3,331.4Z" fill="#00ff98"/>
<path d="M421.3,504.1 431.8,507.3 442.4,510.5 452.9,513.7 463.5,516.7 474,519.7 484.6,522.7 495.1,525.6 505.7,528.5 516.2,531.3 526.8,534.1 537.3,536.9 547.9,539.7 558.4,542.4 568.9,545.2 579.5,547.9 590,550.6 600.6,553.3 611.1,555.9 621.7,558.6 632.2,561.2 642.8,563.7 653.3,566.3 663.9,568.8 674.4,571.3 L675.4,331.4 420.3,331.4Z" fill="#00ff8a"/>
<path d="M421.3,492.3 431.8,495.8 442.4,499.2 452.9,502.6 463.5,505.8 474,509 484.6,512.1 495.1,515.1 505.7,518.1 516.2,521.1 526.8,524 537.3,526.9 547.9,529.8 558.4,532.7 568.9,535.6 579.5,538.6 590,541.5 600.6,544.4 611.1,547.3 621.7,550.2 632.2,553 642.8,555.9 653.3,558.7 663.9,561.5 674.4,564.3 L675.4,331.4 420.3,331.4Z" fill="#00ff7c"/>
<path d="M421.3,479.3 431.8,483 442.4,486.7 452.9,490.4 463.5,493.8 474,497.2 484.6,500.4 495.1,503.6 505.7,506.7 516.2,509.7 526.8,512.8 537.3,515.8 547.9,518.9 558.4,522 568.9,525.1 579.5,528.2 590,531.4 600.6,534.5 611.1,537.6 621.7,540.8 632.2,543.9 642.8,547 653.3,550.1 663.9,553.2 674.4,556.4 L675.4,331.4 420.3,331.4Z" fill="#00ff6e"/>
<path d="M421.3,465.1 431.8,469 442.4,473 452.9,476.9 463.5,480.6 474,484.1 484.6,487.5 495.1,490.9 505.7,494.1 516.2,497.4 526.8,500.6 537.3,503.8 547.9,507 558.4,510.3 568.9,513.6 579.5,517 590,520.4 600.6,523.7 611.1,527.1 621.7,530.5 632.2,533.9 642.8,537.3 653.3,540.7 663.9,544.1 674.4,547.6 L675.4,331.4 420.3,331.4Z" fill="#00ff60"/>
<path d="M421.3,448.8 431.8,453.1 442.4,457.3 452.9,461.4 463.5,465.4 474,469.2 484.6,472.8 495.1,476.4 505.7,479.9 516.2,483.4 526.8,486.8 537.3,490.3 547.9,493.8 558.4,497.3 568.9,500.9 579.5,504.4 590,508 600.6,511.6 611.1,515.3 621.7,518.9 632.2,522.6 642.8,526.2 653.3,529.9 663.9,533.6 674.4,537.3 L675.4,331.4 420.3,331.4Z" fill="#00ff53"/>
<path d="M421.3,430 431.8,434.6 442.4,439.1 452.9,443.5 463.5,447.7 474,451.8 484.6,455.8 495.1,459.7 505.7,463.5 516.2,467.3 526.8,471.1 537.3,474.8 547.9,478.6 558.4,482.4 568.9,486.2 579.5,490 590,493.8 600.6,497.7 611.1,501.5 621.7,505.4 632.2,509.3 642.8,513.2 653.3,517.1 663.9,521.1 674.4,525.1 L675.4,331.4 420.3,331.4Z" fill="#00ff45"/>
<path d="M421.3,409.1 431.8,414.1 442.4,418.9 452.9,423.6 463.5,428.1 474,432.5 484.6,436.8 495.1,441 505.7,445.2 516.2,449.4 526.8,453.5 537.3,457.6 547.9,461.7 558.4,465.7 568.9,469.8 579.5,473.9 590,477.9 600.6,482 611.1,486.1 621.7,490.2 632.2,494.3 642.8,498.4 653.3,502.6 663.9,506.8 674.4,511 L675.4,331.4 420.3,331.4Z" fill="#00ff37"/>
<path d="M421.3,386.8 431.8,392 442.4,397.2 452.9,402.1 463.5,406.9 474,411.6 484.6,416.2 495.1,420.8 505.7,425.3 516.2,429.9 526.8,434.4 537.3,438.8 547.9,443.2 558.4,447.6 568.9,451.9 579.5,456.2 590,460.5 600.6,464.8 611.1,469.1 621.7,473.5 632.2,477.8 642.8,482.2 653.3,486.6 663.9,491.1 674.4,495.5 L675.4,331.4 420.3,331.4Z" fill="#00ff29"/>
<path d="M421.3,363.5 431.8,369 442.4,374.4 452.9,379.5 463.5,384.6 474,389.6 484.6,394.5 495.1,399.4 505.7,404.2 516.2,409.1 526.8,413.9 537.3,418.7 547.9,423.4 558.4,428 568.9,432.6 579.5,437.2 590,441.8 600.6,446.3 611.1,450.9 621.7,455.4 632.2,460.1 642.8,464.7 653.3,469.4 663.9,474.1 674.4,478.8 L675.4,331.4 420.3,331.4Z" fill="#00ff1c"/>
<path d="M421.3,338 431.8,343.6 442.4,349.2 452.9,354.5 463.5,359.8 474,365 484.6,370.2 495.1,375.3 505.7,380.5 516.2,385.6 526.8,390.7 537.3,395.8 547.9,400.8 558.4,405.7 568.9,410.6 579.5,415.5 590,420.3 600.6,425.2 611.1,430 621.7,434.9 632.2,439.8 642.8,444.7 653.3,449.7 663.9,454.7 674.4,459.7 L675.4,331.4 420.3,331.4Z" fill="#00ff0e"/>
<path d="M421.3,333.4 431.8,333.4 442.4,333.4 452.9,333.4 463.5,333.4 474,338 484.6,343.4 495.1,348.8 505.7,354.2 516.2,359.5 526.8,364.9 537.3,370.2 547.9,375.5 558.4,380.7 568.9,385.9 579.5,391.1 590,396.2 600.6,401.4 611.1,406.5 621.7,411.7 632.2,416.9 642.8,422.2 653.3,427.4 663.9,432.7 674.4,437.9 L675.4,331.4 420.3,331.4Z" fill="#00ff00"/>
<path d="M421.3,333.4 431.8,333.4 442.4,333.4 452.9,333.4 463.5,333.4 474,333.4 484.6,333.4 495.1,333.4 505.7,333.4 516.2,333.4 526.8,337.4 537.3,343 547.9,348.5 558.4,354 568.9,359.5 579.5,365 590,370.4 600.6,375.9 611.1,381.3 621.7,386.8 632.2,392.3 642.8,397.8 653.3,403.4 663.9,408.9 674.4,414.4 L675.4,331.4 420.3,331.4Z" fill="#0eff00"/>
<path d="M421.3,333.4 431.8,333.4 442.4,333.4 452.9,333.4 463.5,333.4 474,333.4 484.6,333.4 495.1,333.4 505.7,333.4 516.2,333.4 526.8,333.4 537.3,333.4 547.9,333.4 558.4,333.4 568.9,333.4 579.5,338 590,343.8 600.6,349.5 611.1,355.3 621.7,361 632.2,366.7 642.8,372.5 653.3,378.3 663.9,384.1 674.4,389.8 L675.4,331.4 420.3,331.4Z" fill="#1cff00"/>
<path d="M421.3,333.4 431.8,333.4 442.4,333.4 452.9,333.4 463.5,333.4 474,333.4 484.6,333.4 495.1,333.4 505.7,333.4 516.2,333.4 526.8,333.4 537.3,333.4 547.9,333.4 558.4,333.4 568.9,333.4 579.5,333.4 590,333.4 600.6,333.4 611.1,333.4 621.7,335.1 632.2,341 642.8,347 653.3,353 663.9,359 674.4,364.9 L675.4,331.4 420.3,331.4Z" fill="#29ff00"/>
<path d="M421.3,596.7 423.4,596.9 427.6,597.4 431.8,597.8 436.1,598.2 440.3,598.6 444.5,599.1 448.7,599.5 452.9,599.9 457.2,600.3 461.4,600.8 465.6,601.2 469.8,601.6 474,602 478.2,602.5 482.5,602.9 486.7,603.3 490.9,603.7 495.1,604.2 499.3,604.6 503.6,605 507.8,605.4 512,605.9 516.2,606.3 520.4,606.7 524.6,607.1 528.9,607.6 533.1,608 537.3,608.4 541.5,608.8 545.7,609.3 550,609.7 554.2,610.1 558.4,610.5 562.6,611 566.8,611.4 571.1,611.8 575.3,612.2 579.5,612.7 583.7,613.1 587.9,613.5 592.1,613.9 596.4,614.4 600.6,614.8 604.8,615.2 609,615.7 613.2,616.1 617.5,616.5 621.7,616.9 625.9,617.4 630.1,617.8 634.3,618.2 638.5,618.6 642.8,619.1 647,619.5 651.2,619.9 655.4,620.3 659.6,620.8 663.9,621.2 668.1,621.6 672.3,622 674.4,622.2" fill="none" stroke="#303030" stroke-opacity="0.8" stroke-width="0.62"/>
<path d="M421.3,583.8 423.4,584 427.6,584.4 431.8,584.8 436.1,585.2 440.3,585.6 444.5,586.1 448.7,586.5 452.9,586.9 457.2,587.3 461.4,587.7 465.6,588.1" fill="none" stroke="#303030" stroke-opacity="0.8" stroke-width="0.62"/>
<path d="M503.6,591.9 505.7,592.1 509.9,592.5 514.1,592.9 518.3,593.3 522.5,593.8 526.8,594.2 531,594.7 535.2,595.1 539.4,595.5 543.6,596 547.9,596.4 552.1,596.8 556.3,597.3 560.5,597.7 564.7,598.2 568.9,598.6 573.2,599.1 577.4,599.5 581.6,600 585.8,600.4 590,600.9 594.3,601.3 598.5,601.8 602.7,602.2 606.9,602.7 611.1,603.2 615.3,603.6 619.6,604.1 623.8,604.6 628,605 632.2,605.5 636.4,606 640.7,606.4 644.9,606.9 649.1,607.4 653.3,607.9 657.5,608.3 661.7,608.8 666,609.3 670.2,609.8 674.4,610.3" fill="none" stroke="#303030" stroke-opacity="0.8" stroke-width="0.62"/>
<path d="M445.9,565.8 448,566.2 452.2,567.1 456.5,567.8 460.7,568.6 464.9,569.4 469.1,570.1 473.3,570.8 477.5,571.6 481.8,572.3 486,573 490.2,573.6 494.4,574.3 498.6,575 502.9,575.6 507.1,576.3 511.3,576.9 515.5,577.6 519.7,578.2 523.9,578.8 528.2,579.4 532.4,580 536.6,580.6 540.8,581.2 545,581.8 549.3,582.4 553.5,583 557.7,583.6 561.9,584.2 566.1,584.8 570.3,585.3 574.6,585.9 578.8,586.4 583,587 587.2,587.5 591.4,588 595.7,588.5 599.9,589.1 604.1,589.6 608.3,590.1 612.5,590.6 616.7,591.1 621,591.6 625.2,592.1 629.4,592.6 633.6,593.2 637.8,593.7 642.1,594.2 646.3,594.7 650.5,595.3 654.7,595.8 658.9,596.3 663.2,596.9 667.4,597.4 671.6,597.9 674.4,598.3" fill="none" stroke="#303030" stroke-opacity="0.8" stroke-width="0.62"/>
<path d="M457.9,533.8 460,534.4 464.2,535.5 468.4,536.5 472.6,537.6 476.8,538.7 481.1,539.7 485.3,540.8 489.5,541.8 493.7,542.9 497.9,543.9 502.2,545 506.4,546 510.6,547 514.8,548.1 519,549.1 523.2,550.1 527.5,551.1 531.7,552.1 535.9,553.1 540.1,554.1 544.3,555 548.6,556 552.8,557 557,557.9 561.2,558.9 565.4,559.8 569.6,560.8 573.9,561.7 578.1,562.6 582.3,563.5 586.5,564.4 590.7,565.3 595,566.2 599.2,567.1 603.4,568 607.6,568.9 611.8,569.8 616,570.7 620.3,571.5 624.5,572.4 628.7,573.3 632.9,574.1 637.1,575 641.4,575.8 645.6,576.6 649.8,577.5 654,578.3 658.2,579.1 662.4,579.9 666.7,580.7 670.9,581.5 674.4,582.2" fill="none" stroke="#303030" stroke-opacity="0.8" stroke-width="0.62"/>
<path d="M421.3,464.1 422,464.3 422.7,464.6 423.4,464.8 424.1,465.1 424.8,465.4 425.5,465.6" fill="none" stroke="#303030" stroke-opacity="0.8" stroke-width="0.62"/>
<path d="M463.5,479.6 465.6,480.4 469.8,481.8 474,483.2 478.2,484.6 482.5,485.9 486.7,487.3 490.9,488.6 495.1,490 499.3,491.3 503.6,492.6 507.8,493.9 512,495.2 516.2,496.5 520.4,497.8 524.6,499.1 528.9,500.3 533.1,501.6 537.3,502.9 541.5,504.2 545.7,505.5 550,506.8 554.2,508.1 558.4,509.5 562.6,510.8 566.8,512.2 571.1,513.5 575.3,514.9 579.5,516.2 583.7,517.6 587.9,518.9 592.1,520.3 596.4,521.6 600.6,523 604.8,524.3 609,525.7 613.2,527.1 617.5,528.4 621.7,529.8 625.9,531.1 630.1,532.5 634.3,533.9 638.5,535.2 642.8,536.6 647,538 651.2,539.4 655.4,540.7 659.6,542.1 663.9,543.5 668.1,544.9 672.3,546.2 674.4,546.9" fill="none" stroke="#303030" stroke-opacity="0.8" stroke-width="0.62"/>
<path d="M421.3,368.3 423.4,369.4 427.6,371.6 431.8,373.8 436.1,375.9 440.3,378.1 444.5,380.1 448.7,382.2 452.9,384.2 457.2,386.2 461.4,388.2 465.6,390.2 469.8,392.2 474,394.1 478.2,396.1 482.5,398 486.7,400 490.9,401.9 495.1,403.8 499.3,405.7 503.6,407.7 507.1,409.3" fill="none" stroke="#303030" stroke-opacity="0.8" stroke-width="0.62"/>
<path d="M542.9,425.4 545,426.3 549.3,428.2 553.5,430 557.7,431.8 561.9,433.7 566.1,435.5 570.3,437.3 574.6,439.1 578.8,440.9 583,442.7 587.2,444.5 591.4,446.3 595.7,448.1 599.9,449.9 604.1,451.7 608.3,453.5 612.5,455.3 616.7,457.1 621,458.9 625.2,460.7 629.4,462.6 633.6,464.4 637.8,466.2 642.1,468.1 646.3,469.9 650.5,471.8 654.7,473.6 658.9,475.5 663.2,477.4 667.4,479.2 671.6,481.1 674.4,482.3" fill="none" stroke="#303030" stroke-opacity="0.8" stroke-width="0.62"/>
<path d="M421.3,226.5 423.4,227.7 427.6,230 431.8,232.4 436.1,234.7 440.3,237 444.5,239.4 448.7,241.7 452.9,244.1 457.2,246.4 461.4,248.8 465.6,251.1 469.8,253.5 474,255.8 478.2,258.2 482.5,260.5 486.7,262.9 490.9,265.3 495.1,267.6 499.3,270 503.6,272.3 507.8,274.7 512,277 516.2,279.4 520.4,281.8 524.6,284.1 528.9,286.5 533.1,288.8 537.3,291.2 541.5,293.6 545.7,295.9 550,298.3 554.2,300.7 558.4,303 562.6,305.4 566.8,307.8 571.1,310.1 575.3,312.5 579.5,314.9 583.7,317.2 587.9,319.6 592.1,322 596.4,324.3 600.6,326.7 604.8,329.1 609,331.5 613.2,333.8 617.5,336.2 621.7,338.6 625.9,340.9 628.7,342.5" fill="none" stroke="#303030" stroke-opacity="0.8" stroke-width="0.62"/>
<path d="M656.8,358.4 658.9,359.6 663.2,362 667.4,364.3 671.6,366.7 674.4,368.3" fill="none" stroke="#303030" stroke-opacity="0.8" stroke-width="0.62"/>
<path d="M421.3,78.4 423.4,79.7 427.6,82.1 431.8,84.6 436.1,87.1 440.3,89.6 444.5,92.1 448.7,94.6 452.9,97 457.2,99.5 461.4,102 465.6,104.5 469.8,107 474,109.5 478.2,111.9 482.5,114.4 486.7,116.9 490.9,119.4 495.1,121.9 499.3,124.4 503.6,126.8 507.8,129.3 512,131.8 516.2,134.3 520.4,136.8 524.6,139.3 528.9,141.7 533.1,144.2 537.3,146.7 541.5,149.2 545.7,151.7 550,154.2 554.2,156.6 558.4,159.1 562.6,161.6 566.8,164.1 571.1,166.6 575.3,169.1 579.5,171.5 583.7,174 587.9,176.5 592.1,179 596.4,181.5 600.6,184 604.8,186.4 609,188.9 613.2,191.4 617.5,193.9 621.7,196.4 625.9,198.9 630.1,201.3 634.3,203.8 638.5,206.3 642.8,208.8 647,211.3 651.2,213.8 655.4,216.2 659.6,218.7 663.9,221.2 668.1,223.7 672.3,226.2 674.4,227.4" fill="none" stroke="#303030" stroke-opacity="0.8" stroke-width="0.62"/>
<text transform="translate(624.09 357) rotate(0.03)" font-family="Liberation Sans, sans-serif" font-size="18.9" fill="#404040" stroke="#404040" stroke-width="0.3">1.33</text>
<text transform="translate(506.99 424) rotate(0.03)" font-family="Liberation Sans, sans-serif" font-size="18.9" fill="#404040" stroke="#404040" stroke-width="0.3">1.18</text>
<text transform="translate(426.29 479.4) rotate(0.03)" font-family="Liberation Sans, sans-serif" font-size="18.9" fill="#404040" stroke="#404040" stroke-width="0.3">1.04</text>
<text transform="translate(421.44 535.1) rotate(0.03)" font-family="Liberation Sans, sans-serif" font-size="18.9" fill="#404040" stroke="#404040" stroke-width="0.3">0.89</text>
<text transform="translate(409.94 568.8) rotate(0.03)" font-family="Liberation Sans, sans-serif" font-size="18.9" fill="#404040" stroke="#404040" stroke-width="0.3">0.74</text>
<text transform="translate(467.34 594) rotate(0.03)" font-family="Liberation Sans, sans-serif" font-size="18.9" fill="#404040" stroke="#404040" stroke-width="0.3">0.59</text>
</g>
<rect x="432.1" y="346.1" width="34.9" height="32.7" fill="#fff"/>
<text transform="translate(449.55 370.55) scale(0.975 1) rotate(0.03)" text-anchor="middle" font-family="Liberation Sans, sans-serif" font-size="22.8" stroke="#000" stroke-width="0.3">Co</text>
<polygon points="510.0,575.6 512.2,581.5 518.7,581.6 513.5,585.4 515.4,591.4 510.0,587.9 504.7,591.4 506.5,585.4 501.4,581.6 507.8,581.5" fill="none" stroke="#000" stroke-width="1.35" stroke-linejoin="round"/>
<polygon points="543.8,530.9 546.0,536.8 552.5,537.0 547.3,540.8 549.2,546.8 543.8,543.3 538.5,546.8 540.3,540.8 535.1,537.0 541.6,536.8" fill="none" stroke="#000" stroke-width="1.35" stroke-linejoin="round"/>
<polygon points="644.1,397.0 646.2,402.9 652.7,403.1 647.6,406.9 649.4,412.9 644.1,409.3 638.7,412.9 640.5,406.9 635.4,403.1 641.9,402.9" fill="none" stroke="#000" stroke-width="1.35" stroke-linejoin="round"/>
<path d="M485.3,596.1v-4.7M485.3,339.4v4.7M547.6,596.1v-4.7M547.6,339.4v4.7M609.9,596.1v-4.7M609.9,339.4v4.7M423.3,584.8h4.7M672.4,584.8h-4.7M423.3,540.1h4.7M672.4,540.1h-4.7M423.3,495.5h4.7M672.4,495.5h-4.7M423.3,450.9h4.7M672.4,450.9h-4.7M423.3,406.2h4.7M672.4,406.2h-4.7M423.3,361.6h4.7M672.4,361.6h-4.7M454.2,596.1v-2.4M454.2,339.4v2.4M516.5,596.1v-2.4M516.5,339.4v2.4M578.7,596.1v-2.4M578.7,339.4v2.4M641,596.1v-2.4M641,339.4v2.4M423.3,562.5h2.4M672.4,562.5h-2.4M423.3,517.8h2.4M672.4,517.8h-2.4M423.3,473.2h2.4M672.4,473.2h-2.4M423.3,428.5h2.4M672.4,428.5h-2.4M423.3,383.9h2.4M672.4,383.9h-2.4" stroke="#000" stroke-width="2.7" stroke-linecap="round" fill="none"/>
<rect x="423.3" y="339.4" width="249.1" height="256.7" fill="none" stroke="#000" stroke-width="2.7"/>
<text transform="translate(421.25 617.7) scale(0.96 1) rotate(0.03)" text-anchor="middle" font-family="Liberation Sans, sans-serif" font-size="22.8" stroke="#000" stroke-width="0.3">2.62</text>
<text transform="translate(483.52 617.7) scale(0.96 1) rotate(0.03)" text-anchor="middle" font-family="Liberation Sans, sans-serif" font-size="22.8" stroke="#000" stroke-width="0.3">2.64</text>
<text transform="translate(545.8 617.7) scale(0.96 1) rotate(0.03)" text-anchor="middle" font-family="Liberation Sans, sans-serif" font-size="22.8" stroke="#000" stroke-width="0.3">2.66</text>
<text transform="translate(608.08 617.7) scale(0.96 1) rotate(0.03)" text-anchor="middle" font-family="Liberation Sans, sans-serif" font-size="22.8" stroke="#000" stroke-width="0.3">2.68</text>
<text transform="translate(670.35 617.7) scale(0.96 1) rotate(0.03)" text-anchor="middle" font-family="Liberation Sans, sans-serif" font-size="22.8" stroke="#000" stroke-width="0.3">2.70</text>
<text transform="translate(491.97 661.1) scale(1.146 1) rotate(0.03)" font-family="Liberation Serif, serif" font-style="italic" font-size="27">w</text>
<text transform="translate(520.71 661.1) scale(0.988 1) rotate(0.03)" font-family="Liberation Sans, sans-serif" font-size="30.25" stroke="#000" stroke-width="0.3">(Bohr)</text>
<text transform="translate(419.2 590.14) scale(0.96 1) rotate(0.03)" text-anchor="end" font-family="Liberation Sans, sans-serif" font-size="22.8" stroke="#000" stroke-width="0.3">100</text>
<text transform="translate(419.2 545.5) scale(0.96 1) rotate(0.03)" text-anchor="end" font-family="Liberation Sans, sans-serif" font-size="22.8" stroke="#000" stroke-width="0.3">300</text>
<text transform="translate(419.2 500.85) scale(0.96 1) rotate(0.03)" text-anchor="end" font-family="Liberation Sans, sans-serif" font-size="22.8" stroke="#000" stroke-width="0.3">500</text>
<text transform="translate(419.2 456.21) scale(0.96 1) rotate(0.03)" text-anchor="end" font-family="Liberation Sans, sans-serif" font-size="22.8" stroke="#000" stroke-width="0.3">700</text>
<text transform="translate(419.2 411.57) scale(0.96 1) rotate(0.03)" text-anchor="end" font-family="Liberation Sans, sans-serif" font-size="22.8" stroke="#000" stroke-width="0.3">900</text>
<text transform="translate(419.2 366.92) scale(0.96 1) rotate(0.03)" text-anchor="end" font-family="Liberation Sans, sans-serif" font-size="22.8" stroke="#000" stroke-width="0.3">1100</text>
<g transform="translate(375.9,515.2) rotate(-89.97)" font-family="Liberation Sans, sans-serif" font-size="30.5"><text font-style="italic">T</text><text transform="translate(24.2 0) scale(1.025 1)">(K)</text></g>
<clipPath id="cCr1"><rect x="717.5" y="339.4" width="249.1" height="256.7"/></clipPath>
<g clip-path="url(#cCr1)">
<rect x="716.5" y="338.4" width="251.1" height="258.7" fill="#0029ff"/>
<path d="M715.5,595.3 726,596.1 736.6,596.9 747.1,597.6 757.7,598.4 768.2,599.2 778.8,599.9 789.3,600.7 799.9,601.5 810.4,602.1 821,602.1 831.5,602.1 842,602.1 852.6,602.1 863.1,602.1 873.7,602.1 884.2,602.1 894.8,602.1 905.3,602.1 915.9,602.1 926.4,602.1 937,602.1 947.5,602.1 958.1,602.1 968.6,602.1 L969.6,331.4 714.5,331.4Z" fill="#0037ff"/>
<path d="M715.5,593 726,593.8 736.6,594.6 747.1,595.4 757.7,596.2 768.2,597 778.8,597.8 789.3,598.6 799.9,599.4 810.4,600.2 821,601 831.5,601.8 842,602.1 852.6,602.1 863.1,602.1 873.7,602.1 884.2,602.1 894.8,602.1 905.3,602.1 915.9,602.1 926.4,602.1 937,602.1 947.5,602.1 958.1,602.1 968.6,602.1 L969.6,331.4 714.5,331.4Z" fill="#0045ff"/>
<path d="M715.5,591.6 726,592.4 736.6,593.1 747.1,593.8 757.7,594.6 768.2,595.3 778.8,596.1 789.3,596.9 799.9,597.6 810.4,598.4 821,599.2 831.5,600.1 842,600.9 852.6,601.7 863.1,602.1 873.7,602.1 884.2,602.1 894.8,602.1 905.3,602.1 915.9,602.1 926.4,602.1 937,602.1 947.5,602.1 958.1,602.1 968.6,602.1 L969.6,331.4 714.5,331.4Z" fill="#0053ff"/>
<path d="M715.5,589.7 726,590.4 736.6,591.2 747.1,591.9 757.7,592.7 768.2,593.4 778.8,594.2 789.3,594.9 799.9,595.7 810.4,596.5 821,597.4 831.5,598.2 842,599.1 852.6,599.9 863.1,600.7 873.7,601.5 884.2,602.1 894.8,602.1 905.3,602.1 915.9,602.1 926.4,602.1 937,602.1 947.5,602.1 958.1,602.1 968.6,602.1 L969.6,331.4 714.5,331.4Z" fill="#0060ff"/>
<path d="M715.5,587.3 726,588 736.6,588.8 747.1,589.6 757.7,590.4 768.2,591.2 778.8,592 789.3,592.8 799.9,593.6 810.4,594.5 821,595.4 831.5,596.3 842,597.1 852.6,598 863.1,598.8 873.7,599.7 884.2,600.5 894.8,601.4 905.3,602.1 915.9,602.1 926.4,602.1 937,602.1 947.5,602.1 958.1,602.1 968.6,602.1 L969.6,331.4 714.5,331.4Z" fill="#006eff"/>
<path d="M715.5,584.4 726,585.3 736.6,586.1 747.1,587 757.7,587.9 768.2,588.8 778.8,589.7 789.3,590.5 799.9,591.4 810.4,592.3 821,593.3 831.5,594.2 842,595.1 852.6,596 863.1,596.9 873.7,597.8 884.2,598.6 894.8,599.5 905.3,600.3 915.9,601.2 926.4,602 937,602.1 947.5,602.1 958.1,602.1 968.6,602.1 L969.6,331.4 714.5,331.4Z" fill="#007cff"/>
<path d="M715.5,581.2 726,582.2 736.6,583.2 747.1,584.2 757.7,585.2 768.2,586.2 778.8,587.1 789.3,588.1 799.9,589.1 810.4,590.1 821,591.1 831.5,592.1 842,593 852.6,594 863.1,594.9 873.7,595.8 884.2,596.7 894.8,597.6 905.3,598.5 915.9,599.3 926.4,600.2 937,601 947.5,601.8 958.1,602.1 968.6,602.1 L969.6,331.4 714.5,331.4Z" fill="#008aff"/>
<path d="M715.5,577.5 726,578.6 736.6,579.8 747.1,581 757.7,582.1 768.2,583.3 778.8,584.4 789.3,585.6 799.9,586.7 810.4,587.8 821,588.8 831.5,589.9 842,590.9 852.6,591.9 863.1,592.9 873.7,593.8 884.2,594.7 894.8,595.7 905.3,596.6 915.9,597.5 926.4,598.4 937,599.3 947.5,600.1 958.1,601 968.6,601.9 L969.6,331.4 714.5,331.4Z" fill="#0098ff"/>
<path d="M715.5,572.6 726,574.1 736.6,575.6 747.1,577.1 757.7,578.6 768.2,580 778.8,581.5 789.3,582.8 799.9,584.1 810.4,585.3 821,586.5 831.5,587.6 842,588.7 852.6,589.8 863.1,590.8 873.7,591.8 884.2,592.8 894.8,593.7 905.3,594.7 915.9,595.7 926.4,596.6 937,597.6 947.5,598.5 958.1,599.5 968.6,600.5 L969.6,331.4 714.5,331.4Z" fill="#00a5ff"/>
<path d="M715.5,567 726,569 736.6,570.9 747.1,572.8 757.7,574.6 768.2,576.4 778.8,578.2 789.3,579.8 799.9,581.4 810.4,582.7 821,584 831.5,585.3 842,586.4 852.6,587.6 863.1,588.7 873.7,589.7 884.2,590.7 894.8,591.7 905.3,592.8 915.9,593.8 926.4,594.8 937,595.9 947.5,596.9 958.1,598 968.6,599.1 L969.6,331.4 714.5,331.4Z" fill="#00b3ff"/>
<path d="M715.5,561.1 726,563.5 736.6,565.9 747.1,568.2 757.7,570.4 768.2,572.5 778.8,574.6 789.3,576.5 799.9,578.3 810.4,579.8 821,581.3 831.5,582.6 842,583.9 852.6,585.1 863.1,586.3 873.7,587.4 884.2,588.5 894.8,589.6 905.3,590.7 915.9,591.8 926.4,592.9 937,594.1 947.5,595.3 958.1,596.5 968.6,597.6 L969.6,331.4 714.5,331.4Z" fill="#00c1ff"/>
<path d="M715.5,555.5 726,558.2 736.6,560.9 747.1,563.5 757.7,565.9 768.2,568.3 778.8,570.7 789.3,572.9 799.9,574.9 810.4,576.6 821,578.2 831.5,579.6 842,581 852.6,582.4 863.1,583.6 873.7,584.8 884.2,586 894.8,587.2 905.3,588.4 915.9,589.6 926.4,590.9 937,592.2 947.5,593.5 958.1,594.8 968.6,596.1 L969.6,331.4 714.5,331.4Z" fill="#00cfff"/>
<path d="M715.5,550.1 726,552.9 736.6,555.8 747.1,558.5 757.7,561.2 768.2,563.8 778.8,566.3 789.3,568.6 799.9,570.8 810.4,572.7 821,574.4 831.5,576.1 842,577.6 852.6,579.1 863.1,580.5 873.7,581.9 884.2,583.2 894.8,584.6 905.3,585.9 915.9,587.3 926.4,588.7 937,590.1 947.5,591.6 958.1,593.1 968.6,594.5 L969.6,331.4 714.5,331.4Z" fill="#00ddff"/>
<path d="M715.5,544.7 726,547.6 736.6,550.5 747.1,553.3 757.7,556.1 768.2,558.8 778.8,561.4 789.3,563.8 799.9,566.1 810.4,568.2 821,570.1 831.5,571.9 842,573.7 852.6,575.4 863.1,577 873.7,578.6 884.2,580.1 894.8,581.7 905.3,583.2 915.9,584.8 926.4,586.4 937,588 947.5,589.7 958.1,591.3 968.6,592.9 L969.6,331.4 714.5,331.4Z" fill="#00eaff"/>
<path d="M715.5,539 726,542 736.6,544.9 747.1,547.8 757.7,550.6 768.2,553.4 778.8,556 789.3,558.6 799.9,561 810.4,563.2 821,565.4 831.5,567.4 842,569.4 852.6,571.3 863.1,573.2 873.7,575 884.2,576.8 894.8,578.5 905.3,580.3 915.9,582.1 926.4,583.9 937,585.8 947.5,587.6 958.1,589.4 968.6,591.3 L969.6,331.4 714.5,331.4Z" fill="#00f8ff"/>
<path d="M715.5,532.9 726,535.9 736.6,538.9 747.1,541.9 757.7,544.8 768.2,547.6 778.8,550.3 789.3,553 799.9,555.5 810.4,558 821,560.3 831.5,562.6 842,564.8 852.6,567 863.1,569.1 873.7,571.2 884.2,573.2 894.8,575.2 905.3,577.2 915.9,579.3 926.4,581.3 937,583.4 947.5,585.4 958.1,587.4 968.6,589.4 L969.6,331.4 714.5,331.4Z" fill="#00fff8"/>
<path d="M715.5,526.2 726,529.3 736.6,532.4 747.1,535.5 757.7,538.5 768.2,541.4 778.8,544.3 789.3,547.1 799.9,549.9 810.4,552.6 821,555.2 831.5,557.7 842,560.1 852.6,562.5 863.1,564.9 873.7,567.2 884.2,569.5 894.8,571.8 905.3,574 915.9,576.3 926.4,578.5 937,580.8 947.5,583 958.1,585.2 968.6,587.4 L969.6,331.4 714.5,331.4Z" fill="#00ffea"/>
<path d="M715.5,518.7 726,522 736.6,525.3 747.1,528.5 757.7,531.7 768.2,534.8 778.8,537.9 789.3,541 799.9,544 810.4,547 821,549.9 831.5,552.7 842,555.4 852.6,558 863.1,560.6 873.7,563.2 884.2,565.7 894.8,568.2 905.3,570.7 915.9,573.1 926.4,575.6 937,578 947.5,580.4 958.1,582.7 968.6,585.1 L969.6,331.4 714.5,331.4Z" fill="#00ffdd"/>
<path d="M715.5,510.5 726,513.9 736.6,517.4 747.1,520.9 757.7,524.3 768.2,527.7 778.8,531.1 789.3,534.5 799.9,537.8 810.4,541.1 821,544.3 831.5,547.4 842,550.4 852.6,553.3 863.1,556.2 873.7,559 884.2,561.7 894.8,564.5 905.3,567.2 915.9,569.8 926.4,572.4 937,575 947.5,577.5 958.1,580 968.6,582.5 L969.6,331.4 714.5,331.4Z" fill="#00ffcf"/>
<path d="M715.5,501.5 726,505.2 736.6,508.9 747.1,512.7 757.7,516.4 768.2,520 778.8,523.7 789.3,527.5 799.9,531.2 810.4,534.8 821,538.4 831.5,541.8 842,545.1 852.6,548.3 863.1,551.4 873.7,554.5 884.2,557.5 894.8,560.5 905.3,563.4 915.9,566.2 926.4,569 937,571.8 947.5,574.4 958.1,577 968.6,579.7 L969.6,331.4 714.5,331.4Z" fill="#00ffc1"/>
<path d="M715.5,491.9 726,495.9 736.6,499.9 747.1,503.9 757.7,507.9 768.2,511.9 778.8,515.9 789.3,520 799.9,524.1 810.4,528.1 821,532 831.5,535.8 842,539.3 852.6,542.8 863.1,546.2 873.7,549.5 884.2,552.8 894.8,556.1 905.3,559.2 915.9,562.3 926.4,565.3 937,568.2 947.5,571 958.1,573.8 968.6,576.6 L969.6,331.4 714.5,331.4Z" fill="#00ffb3"/>
<path d="M715.5,481.9 726,486.2 736.6,490.5 747.1,494.7 757.7,499 768.2,503.3 778.8,507.6 789.3,512 799.9,516.5 810.4,520.8 821,525.1 831.5,529.1 842,533 852.6,536.7 863.1,540.4 873.7,544.1 884.2,547.6 894.8,551.1 905.3,554.5 915.9,557.9 926.4,561.1 937,564.2 947.5,567.3 958.1,570.2 968.6,573.2 L969.6,331.4 714.5,331.4Z" fill="#00ffa5"/>
<path d="M715.5,471.3 726,475.9 736.6,480.5 747.1,485.1 757.7,489.6 768.2,494.2 778.8,498.8 789.3,503.5 799.9,508.2 810.4,512.9 821,517.4 831.5,521.7 842,525.9 852.6,529.9 863.1,533.9 873.7,537.8 884.2,541.7 894.8,545.4 905.3,549.1 915.9,552.7 926.4,556.2 937,559.6 947.5,562.9 958.1,566.1 968.6,569.4 L969.6,331.4 714.5,331.4Z" fill="#00ff98"/>
<path d="M715.5,459.9 726,464.9 736.6,469.8 747.1,474.8 757.7,479.7 768.2,484.6 778.8,489.5 789.3,494.4 799.9,499.3 810.4,504.2 821,508.9 831.5,513.5 842,517.9 852.6,522.2 863.1,526.5 873.7,530.7 884.2,534.8 894.8,538.9 905.3,542.9 915.9,546.8 926.4,550.6 937,554.4 947.5,558 958.1,561.6 968.6,565.2 L969.6,331.4 714.5,331.4Z" fill="#00ff8a"/>
<path d="M715.5,447.8 726,453.1 736.6,458.5 747.1,463.8 757.7,469 768.2,474.2 778.8,479.4 789.3,484.6 799.9,489.7 810.4,494.7 821,499.7 831.5,504.5 842,509.1 852.6,513.7 863.1,518.3 873.7,522.8 884.2,527.2 894.8,531.6 905.3,535.9 915.9,540.2 926.4,544.4 937,548.5 947.5,552.6 958.1,556.5 968.6,560.6 L969.6,331.4 714.5,331.4Z" fill="#00ff7c"/>
<path d="M715.5,434.8 726,440.6 736.6,446.3 747.1,452 757.7,457.6 768.2,463.1 778.8,468.6 789.3,474 799.9,479.4 810.4,484.6 821,489.8 831.5,494.8 842,499.8 852.6,504.7 863.1,509.5 873.7,514.4 884.2,519.1 894.8,523.8 905.3,528.5 915.9,533.1 926.4,537.6 937,542.2 947.5,546.6 958.1,551 968.6,555.5 L969.6,331.4 714.5,331.4Z" fill="#00ff6e"/>
<path d="M715.5,421 726,427.1 736.6,433.3 747.1,439.3 757.7,445.3 768.2,451.2 778.8,457 789.3,462.7 799.9,468.4 810.4,473.9 821,479.3 831.5,484.6 842,489.9 852.6,495.1 863.1,500.3 873.7,505.5 884.2,510.6 894.8,515.6 905.3,520.6 915.9,525.6 926.4,530.5 937,535.4 947.5,540.3 958.1,545.1 968.6,549.9 L969.6,331.4 714.5,331.4Z" fill="#00ff60"/>
<path d="M715.5,405.6 726,412.2 736.6,418.8 747.1,425.4 757.7,431.7 768.2,438 778.8,444.2 789.3,450.3 799.9,456.3 810.4,462.2 821,468 831.5,473.7 842,479.3 852.6,484.9 863.1,490.5 873.7,496 884.2,501.5 894.8,506.9 905.3,512.3 915.9,517.6 926.4,522.9 937,528.1 947.5,533.4 958.1,538.5 968.6,543.7 L969.6,331.4 714.5,331.4Z" fill="#00ff53"/>
<path d="M715.5,388.6 726,395.7 736.6,402.8 747.1,409.8 757.7,416.7 768.2,423.4 778.8,430 789.3,436.6 799.9,443 810.4,449.3 821,455.6 831.5,461.7 842,467.8 852.6,473.9 863.1,479.9 873.7,485.8 884.2,491.7 894.8,497.4 905.3,503.2 915.9,508.9 926.4,514.5 937,520.1 947.5,525.6 958.1,531.1 968.6,536.6 L969.6,331.4 714.5,331.4Z" fill="#00ff45"/>
<path d="M715.5,370.5 726,378.1 736.6,385.7 747.1,393.2 757.7,400.5 768.2,407.7 778.8,414.8 789.3,421.8 799.9,428.7 810.4,435.5 821,442.3 831.5,448.9 842,455.5 852.6,462 863.1,468.5 873.7,474.8 884.2,481.1 894.8,487.3 905.3,493.4 915.9,499.5 926.4,505.5 937,511.4 947.5,517.2 958.1,523.1 968.6,528.9 L969.6,331.4 714.5,331.4Z" fill="#00ff37"/>
<path d="M715.5,352.1 726,360.1 736.6,368.1 747.1,376.1 757.7,383.8 768.2,391.4 778.8,398.9 789.3,406.4 799.9,413.7 810.4,421 821,428.3 831.5,435.4 842,442.5 852.6,449.4 863.1,456.3 873.7,463.2 884.2,469.9 894.8,476.5 905.3,483 915.9,489.5 926.4,495.8 937,502.1 947.5,508.3 958.1,514.4 968.6,520.6 L969.6,331.4 714.5,331.4Z" fill="#00ff29"/>
<path d="M715.5,333.8 726,342.2 736.6,350.6 747.1,358.8 757.7,366.9 768.2,374.9 778.8,382.8 789.3,390.6 799.9,398.4 810.4,406.1 821,413.7 831.5,421.3 842,428.8 852.6,436.2 863.1,443.6 873.7,450.9 884.2,458.1 894.8,465.1 905.3,472.1 915.9,479 926.4,485.7 937,492.4 947.5,499 958.1,505.4 968.6,511.9 L969.6,331.4 714.5,331.4Z" fill="#00ff1c"/>
<path d="M715.5,333.4 726,333.4 736.6,333.4 747.1,341.2 757.7,349.5 768.2,357.7 778.8,365.9 789.3,374 799.9,382.1 810.4,390.2 821,398.2 831.5,406.2 842,414.1 852.6,422 863.1,429.8 873.7,437.6 884.2,445.4 894.8,453 905.3,460.5 915.9,467.8 926.4,475 937,482.1 947.5,489.1 958.1,496 968.6,502.9 L969.6,331.4 714.5,331.4Z" fill="#00ff0e"/>
<path d="M715.5,333.4 726,333.4 736.6,333.4 747.1,333.4 757.7,333.4 768.2,339.9 778.8,348.3 789.3,356.7 799.9,365.1 810.4,373.4 821,381.8 831.5,390.1 842,398.4 852.6,406.8 863.1,415.1 873.7,423.4 884.2,431.9 894.8,440.1 905.3,448.1 915.9,455.9 926.4,463.6 937,471.2 947.5,478.7 958.1,485.9 968.6,493.2 L969.6,331.4 714.5,331.4Z" fill="#00ff00"/>
<path d="M715.5,333.4 726,333.4 736.6,333.4 747.1,333.4 757.7,333.4 768.2,333.4 778.8,333.4 789.3,338.7 799.9,347.4 810.4,356 821,364.7 831.5,373.4 842,382.1 852.6,390.8 863.1,399.6 873.7,408.5 884.2,417.6 894.8,426.3 905.3,434.9 915.9,443.3 926.4,451.5 937,459.6 947.5,467.5 958.1,475.2 968.6,482.8 L969.6,331.4 714.5,331.4Z" fill="#0eff00"/>
<path d="M715.5,333.4 726,333.4 736.6,333.4 747.1,333.4 757.7,333.4 768.2,333.4 778.8,333.4 789.3,333.4 799.9,333.4 810.4,338.3 821,347.3 831.5,356.2 842,365.2 852.6,374.3 863.1,383.6 873.7,393 884.2,402.7 894.8,411.9 905.3,421 915.9,429.8 926.4,438.6 937,447.1 947.5,455.5 958.1,463.6 968.6,471.7 L969.6,331.4 714.5,331.4Z" fill="#1cff00"/>
<path d="M715.5,333.4 726,333.4 736.6,333.4 747.1,333.4 757.7,333.4 768.2,333.4 778.8,333.4 789.3,333.4 799.9,333.4 810.4,333.4 821,333.4 831.5,339 842,348.3 852.6,357.7 863.1,367.3 873.7,377.1 884.2,387.2 894.8,396.9 905.3,406.3 915.9,415.6 926.4,424.8 937,433.7 947.5,442.5 958.1,451.1 968.6,459.6 L969.6,331.4 714.5,331.4Z" fill="#29ff00"/>
<path d="M715.5,333.4 726,333.4 736.6,333.4 747.1,333.4 757.7,333.4 768.2,333.4 778.8,333.4 789.3,333.4 799.9,333.4 810.4,333.4 821,333.4 831.5,333.4 842,333.4 852.6,340.7 863.1,350.5 873.7,360.5 884.2,370.8 894.8,380.7 905.3,390.4 915.9,399.9 926.4,409.4 937,418.7 947.5,427.8 958.1,436.9 968.6,446 L969.6,331.4 714.5,331.4Z" fill="#37ff00"/>
<path d="M715.5,333.4 726,333.4 736.6,333.4 747.1,333.4 757.7,333.4 768.2,333.4 778.8,333.4 789.3,333.4 799.9,333.4 810.4,333.4 821,333.4 831.5,333.4 842,333.4 852.6,333.4 863.1,333.4 873.7,343.1 884.2,353.4 894.8,363.3 905.3,373.2 915.9,382.9 926.4,392.5 937,402 947.5,411.5 958.1,421.1 968.6,430.9 L969.6,331.4 714.5,331.4Z" fill="#45ff00"/>
<path d="M715.5,333.4 726,333.4 736.6,333.4 747.1,333.4 757.7,333.4 768.2,333.4 778.8,333.4 789.3,333.4 799.9,333.4 810.4,333.4 821,333.4 831.5,333.4 842,333.4 852.6,333.4 863.1,333.4 873.7,333.4 884.2,335.3 894.8,345.3 905.3,355.2 915.9,365 926.4,374.8 937,384.5 947.5,394.2 958.1,404.3 968.6,414.8 L969.6,331.4 714.5,331.4Z" fill="#53ff00"/>
<path d="M715.5,333.4 726,333.4 736.6,333.4 747.1,333.4 757.7,333.4 768.2,333.4 778.8,333.4 789.3,333.4 799.9,333.4 810.4,333.4 821,333.4 831.5,333.4 842,333.4 852.6,333.4 863.1,333.4 873.7,333.4 884.2,333.4 894.8,333.4 905.3,337 915.9,346.9 926.4,356.9 937,366.6 947.5,376.6 958.1,387.2 968.6,398.2 L969.6,331.4 714.5,331.4Z" fill="#60ff00"/>
<path d="M715.5,333.4 726,333.4 736.6,333.4 747.1,333.4 757.7,333.4 768.2,333.4 778.8,333.4 789.3,333.4 799.9,333.4 810.4,333.4 821,333.4 831.5,333.4 842,333.4 852.6,333.4 863.1,333.4 873.7,333.4 884.2,333.4 894.8,333.4 905.3,333.4 915.9,333.4 926.4,339.3 937,349.3 947.5,359.5 958.1,370.4 968.6,381.8 L969.6,331.4 714.5,331.4Z" fill="#6eff00"/>
<path d="M715.5,333.4 726,333.4 736.6,333.4 747.1,333.4 757.7,333.4 768.2,333.4 778.8,333.4 789.3,333.4 799.9,333.4 810.4,333.4 821,333.4 831.5,333.4 842,333.4 852.6,333.4 863.1,333.4 873.7,333.4 884.2,333.4 894.8,333.4 905.3,333.4 915.9,333.4 926.4,333.4 937,333.4 947.5,342.6 958.1,353.8 968.6,365.4 L969.6,331.4 714.5,331.4Z" fill="#7cff00"/>
<path d="M715.5,333.4 726,333.4 736.6,333.4 747.1,333.4 757.7,333.4 768.2,333.4 778.8,333.4 789.3,333.4 799.9,333.4 810.4,333.4 821,333.4 831.5,333.4 842,333.4 852.6,333.4 863.1,333.4 873.7,333.4 884.2,333.4 894.8,333.4 905.3,333.4 915.9,333.4 926.4,333.4 937,333.4 947.5,333.4 958.1,337 968.6,348.7 L969.6,331.4 714.5,331.4Z" fill="#8aff00"/>
<path d="M715.5,592.8 717.6,593 721.8,593.3 726,593.6 730.3,593.9 734.5,594.3 738.7,594.6 742.9,594.9 747.1,595.2 751.4,595.6 755.6,595.9 759.8,596.2 764,596.5 768.2,596.8 772.4,597.2 776.7,597.5 780.9,597.8 785.1,598.1 789.3,598.5 793.5,598.8 797.8,599.1 802,599.4 806.2,599.8 810.4,600.1 814.6,600.4 818.8,600.7 823.1,601 827.3,601.4 831.5,601.7 835.7,602 839.9,602.3 844.2,602.7 848.4,603 852.6,603.3 856.8,603.6 861,604 865.3,604.3 869.5,604.6 873.7,604.9 877.9,605.3 882.1,605.6 886.3,605.9 890.6,606.2 894.8,606.5 899,606.9 903.2,607.2 907.4,607.5 911.7,607.8 915.9,608.2 920.1,608.5 924.3,608.8 928.5,609.1 932.7,609.5 937,609.8 941.2,610.1 945.4,610.4 949.6,610.7 953.8,611.1 958.1,611.4 962.3,611.7 966.5,612 968.6,612.2" fill="none" stroke="#303030" stroke-opacity="0.8" stroke-width="0.62"/>
<path d="M715.5,580.8 717.6,581 721.8,581.4 726,581.8 730.3,582.2 734.5,582.6 738.7,583 742.9,583.4 747.1,583.8 751.4,584.2 755.6,584.6 759.8,585 764,585.4 768.2,585.8 772.4,586.2 776.7,586.6 780.9,587 785.1,587.4 789.3,587.8 793.5,588.2 797.8,588.6 802,589 806.2,589.4 810.4,589.8 814.6,590.2 818.8,590.6 823.1,591 827.3,591.4 831.5,591.8 835.7,592.2 839.9,592.5 844.2,592.9 848.4,593.3 852.6,593.7 856.8,594.1 861,594.4 865.3,594.8 869.5,595.2 873.7,595.5 877.9,595.9 882.1,596.3 886.3,596.6 890.6,597 894.8,597.3 899,597.7 903.2,598 907.4,598.4 911.7,598.7 915.9,599.1 920.1,599.4 924.3,599.8 928.5,600.1 932.7,600.4 937,600.8 941.2,601.1 945.4,601.4 949.6,601.8 953.8,602.1 958.1,602.4 962.3,602.7 966.5,603 968.6,603.2" fill="none" stroke="#303030" stroke-opacity="0.8" stroke-width="0.62"/>
<path d="M715.5,556.2 716.2,556.4 716.9,556.6 717.6,556.7" fill="none" stroke="#303030" stroke-opacity="0.8" stroke-width="0.62"/>
<path d="M755.6,566 757.7,566.5 761.9,567.5 766.1,568.4 770.3,569.4 774.6,570.3 778.8,571.2 783,572.1 787.2,573 791.4,573.8 795.6,574.6 799.9,575.3 804.1,576 808.3,576.7 812.5,577.4 816.7,578 821,578.6 825.2,579.2 829.4,579.8 833.6,580.3 837.8,580.9 842,581.4 846.3,582 850.5,582.5 854.7,583 858.9,583.5 863.1,584 867.4,584.5 871.6,585 875.8,585.4 880,585.9 884.2,586.4 888.5,586.9 892.7,587.3 896.9,587.8 901.1,588.3 905.3,588.7 909.5,589.2 913.8,589.7 918,590.2 922.2,590.7 926.4,591.2 930.6,591.7 934.9,592.2 939.1,592.7 943.3,593.2 947.5,593.7 951.7,594.3 955.9,594.8 960.2,595.3 964.4,595.8 968.6,596.3" fill="none" stroke="#303030" stroke-opacity="0.8" stroke-width="0.62"/>
<path d="M715.5,526.7 717.6,527.3 721.8,528.5 726,529.8 730.3,531 734.5,532.3 738.7,533.5 742.9,534.7 747.1,535.9 751.4,537.1 755.6,538.3 759.8,539.5 764,540.7 768.2,541.9 772.4,543 776.7,544.2 780.9,545.3 785.1,546.4 789.3,547.5 793.5,548.6 797.8,549.7 802,550.8 806.2,551.9 810.4,552.9 814.6,554 818.8,555 823.1,556 827.3,557 831.5,558 835.7,559 839.9,560 844.2,560.9 848.4,561.9 852.6,562.9 856.8,563.8 861,564.7 865.3,565.6 869.5,566.6 873.7,567.5 877.9,568.4 882.1,569.3 886.3,570.2 890.6,571.1 894.8,572 899,572.9 903.2,573.8 907.4,574.7 911.7,575.6 915.9,576.5 920.1,577.4 924.3,578.2 928.5,579.1 932,579.9" fill="none" stroke="#303030" stroke-opacity="0.8" stroke-width="0.62"/>
<path d="M715.5,481.9 717.6,482.8 721.8,484.5 726,486.2 728.9,487.3" fill="none" stroke="#303030" stroke-opacity="0.8" stroke-width="0.62"/>
<path d="M766.1,502.4 768.2,503.3 772.4,505 776.7,506.8 780.9,508.5 785.1,510.3 789.3,512 793.5,513.8 797.8,515.6 802,517.3 806.2,519.1 810.4,520.8 814.6,522.5 818.8,524.2 823.1,525.9 827.3,527.5 831.5,529.1 835.7,530.7 839.9,532.2 844.2,533.7 848.4,535.2 852.6,536.7 856.8,538.2 861,539.7 865.3,541.2 869.5,542.6 873.7,544.1 877.9,545.5 882.1,546.9 886.3,548.3 890.6,549.7 894.8,551.1 899,552.5 903.2,553.9 907.4,555.2 911.7,556.5 915.9,557.9 920.1,559.2 924.3,560.5 928.5,561.7 932.7,563 937,564.2 941.2,565.4 945.4,566.7 949.6,567.8 953.8,569 958.1,570.2 962.3,571.3 966.5,572.5 968.6,573.2" fill="none" stroke="#303030" stroke-opacity="0.8" stroke-width="0.62"/>
<path d="M715.5,420 717.6,421.2 721.8,423.7 726,426.2 730.3,428.6 734.5,431.1 738.7,433.6 742.9,436 747.1,438.4 751.4,440.9 755.6,443.3 759.8,445.6 764,448 768.2,450.4 772.4,452.7 776.7,455 780.9,457.4 785.1,459.7 789.3,461.9 793.5,464.2 797.8,466.5 802,468.7 806.2,470.9 810.4,473.1 814.6,475.3 818.8,477.5 823.1,479.6 827.3,481.8 831.5,483.9 835.7,486 839.9,488.1 844.2,490.3 848.4,492.4 852.6,494.5 856.8,496.6 861,498.6" fill="none" stroke="#303030" stroke-opacity="0.8" stroke-width="0.62"/>
<path d="M894.1,514.7 896.2,515.7 900.4,517.7 904.6,519.7 908.8,521.7 913.1,523.7 917.3,525.7 921.5,527.7 925.7,529.7 929.9,531.7 934.2,533.6 938.4,535.6 942.6,537.6 946.8,539.5 951,541.5 955.2,543.4 959.5,545.3 963.7,547.2 967.9,549.2 968.6,549.5" fill="none" stroke="#303030" stroke-opacity="0.8" stroke-width="0.62"/>
<path d="M715.5,337.5 717.6,339.1 721.8,342.4 726,345.8 730.3,349.1 734.5,352.5 735.9,353.6" fill="none" stroke="#303030" stroke-opacity="0.8" stroke-width="0.62"/>
<path d="M756.3,369.3 758.4,370.9 762.6,374 766.8,377.2 771,380.3 775.3,383.5 779.5,386.6 783.7,389.7 787.9,392.8 792.1,395.9 796.4,399 800.6,402 804.8,405.1 809,408.1 813.2,411.2 817.4,414.2 821.7,417.2 825.9,420.2 830.1,423.2 834.3,426.2 838.5,429.2 842.8,432.1 847,435.1 851.2,438 855.4,440.9 859.6,443.8 863.8,446.7 868.1,449.6 872.3,452.5 876.5,455.3 880.7,458.1 884.9,461 889.2,463.8 893.4,466.6 897.6,469.3 901.8,472.1 906,474.8 910.2,477.6 914.5,480.3 918.7,482.9 922.9,485.6 927.1,488.3 931.3,490.9 935.6,493.5 939.8,496.1 944,498.7 948.2,501.3 952.4,503.9 956.6,506.4 960.9,509 965.1,511.5 968.6,513.7" fill="none" stroke="#303030" stroke-opacity="0.8" stroke-width="0.62"/>
<path d="M715.5,242.9 717.6,244.7 721.8,248.1 726,251.6 730.3,255.1 734.5,258.5 738.7,262 742.9,265.5 747.1,269.1 751.4,272.6 755.6,276.1 759.8,279.7 764,283.2 768.2,286.8 772.4,290.4 776.7,294 780.9,297.6 785.1,301.2 789.3,304.8 793.5,308.4 797.8,312.1 802,315.7 806.2,319.3 810.4,323 814.6,326.7 818.8,330.3 823.1,334 827.3,337.7 831.5,341.4 835.7,345 839.9,348.8 844.2,352.5 848.4,356.2 852.6,360 856.8,363.8 861,367.6 865.3,371.4 869.5,375.3" fill="none" stroke="#303030" stroke-opacity="0.8" stroke-width="0.62"/>
<path d="M887,392 889.2,393.9 893.4,397.7 897.6,401.5 901.8,405.2 906,409 910.2,412.7 914.5,416.4 918.7,420 922.9,423.7 927.1,427.3 931.3,430.9 935.6,434.4 939.8,438 944,441.4 948.2,444.9 952.4,448.3 956.6,451.7 960.9,455 965.1,458.4 968.6,461.3" fill="none" stroke="#303030" stroke-opacity="0.8" stroke-width="0.62"/>
<path d="M715.5,139.6 717.6,141.6 721.8,145.6 726,149.6 730.3,153.6 734.5,157.6 738.7,161.6 742.9,165.6 747.1,169.6 751.4,173.6 755.6,177.6 759.8,181.6 764,185.6 768.2,189.7 772.4,193.7 776.7,197.7 780.9,201.7 785.1,205.7 789.3,209.7 793.5,213.7 797.8,217.7 802,221.7 806.2,225.8 810.4,229.8 814.6,233.8 818.8,237.8 823.1,241.8 827.3,245.8 831.5,249.9 835.7,253.9 839.9,257.9 844.2,261.9 848.4,265.9 852.6,270 856.8,274 861,278 865.3,282 869.5,286.1 873.7,290.1 877.9,294.1 882.1,298.1 886.3,302.2 890.6,306.2 894.8,310.2 899,314.2 903.2,318.3 907.4,322.3 911.7,326.3 915.9,330.4 920.1,334.4 924.3,338.4 928.5,342.5" fill="none" stroke="#303030" stroke-opacity="0.8" stroke-width="0.62"/>
<path d="M945.4,358.5 947.5,360.6 951.7,364.9 955.9,369.3 960.2,373.8 964.4,378.4 968.6,382.9" fill="none" stroke="#303030" stroke-opacity="0.8" stroke-width="0.62"/>
<path d="M715.5,27.3 717.6,29.6 721.8,34.1 726,38.6 730.3,43.1 734.5,47.5 738.7,52 742.9,56.5 747.1,61 751.4,65.5 755.6,70 759.8,74.5 764,79 768.2,83.5 772.4,88 776.7,92.5 780.9,96.9 785.1,101.4 789.3,105.9 793.5,110.4 797.8,114.9 802,119.4 806.2,123.9 810.4,128.4 814.6,132.9 818.8,137.4 823.1,141.8 827.3,146.3 831.5,150.8 835.7,155.3 839.9,159.8 844.2,164.3 848.4,168.8 852.6,173.3 856.8,177.8 861,182.3 865.3,186.8 869.5,191.2 873.7,195.7 877.9,200.2 882.1,204.7 886.3,209.2 890.6,213.7 894.8,218.2 899,222.7 903.2,227.2 907.4,231.7 911.7,236.1 915.9,240.6 920.1,245.1 924.3,249.6 928.5,254.1 932.7,258.6 937,263.1 941.2,267.6 945.4,272.1 949.6,276.6 953.8,281.1 958.1,285.5 962.3,290 966.5,294.5 968.6,296.8" fill="none" stroke="#303030" stroke-opacity="0.8" stroke-width="0.62"/>
<text transform="translate(921.09 357) rotate(0.03)" font-family="Liberation Sans, sans-serif" font-size="18.9" fill="#404040" stroke="#404040" stroke-width="0.3">1.48</text>
<text transform="translate(861.19 390.3) rotate(0.03)" font-family="Liberation Sans, sans-serif" font-size="18.9" fill="#404040" stroke="#404040" stroke-width="0.3">1.33</text>
<text transform="translate(727.89 368.1) rotate(0.03)" font-family="Liberation Sans, sans-serif" font-size="18.9" fill="#404040" stroke="#404040" stroke-width="0.3">1.18</text>
<text transform="translate(857.09 513.3) rotate(0.03)" font-family="Liberation Sans, sans-serif" font-size="18.9" fill="#404040" stroke="#404040" stroke-width="0.3">1.04</text>
<text transform="translate(730.14 501.6) rotate(0.03)" font-family="Liberation Sans, sans-serif" font-size="18.9" fill="#404040" stroke="#404040" stroke-width="0.3">0.89</text>
<text transform="translate(933.94 591.4) rotate(0.03)" font-family="Liberation Sans, sans-serif" font-size="18.9" fill="#404040" stroke="#404040" stroke-width="0.3">0.74</text>
<text transform="translate(718.94 568.8) rotate(0.03)" font-family="Liberation Sans, sans-serif" font-size="18.9" fill="#404040" stroke="#404040" stroke-width="0.3">0.59</text>
</g>
<rect x="723.5" y="374" width="30.7" height="32.7" fill="#fff"/>
<text transform="translate(738.85 398.45) scale(0.975 1) rotate(0.03)" text-anchor="middle" font-family="Liberation Sans, sans-serif" font-size="22.8" stroke="#000" stroke-width="0.3">Cr</text>
<polygon points="804.2,575.6 806.4,581.5 812.9,581.6 807.7,585.4 809.6,591.4 804.2,587.9 798.9,591.4 800.7,585.4 795.6,581.6 802.0,581.5" fill="none" stroke="#000" stroke-width="1.35" stroke-linejoin="round"/>
<polygon points="838.0,530.9 840.2,536.8 846.7,537.0 841.5,540.8 843.4,546.8 838.0,543.3 832.7,546.8 834.5,540.8 829.3,537.0 835.8,536.8" fill="none" stroke="#000" stroke-width="1.35" stroke-linejoin="round"/>
<polygon points="938.3,397.0 940.4,402.9 946.9,403.1 941.8,406.9 943.6,412.9 938.3,409.3 932.9,412.9 934.7,406.9 929.6,403.1 936.1,402.9" fill="none" stroke="#000" stroke-width="1.35" stroke-linejoin="round"/>
<path d="M779.5,596.1v-4.7M779.5,339.4v4.7M841.8,596.1v-4.7M841.8,339.4v4.7M904.1,596.1v-4.7M904.1,339.4v4.7M717.5,584.8h4.7M966.6,584.8h-4.7M717.5,540.1h4.7M966.6,540.1h-4.7M717.5,495.5h4.7M966.6,495.5h-4.7M717.5,450.9h4.7M966.6,450.9h-4.7M717.5,406.2h4.7M966.6,406.2h-4.7M717.5,361.6h4.7M966.6,361.6h-4.7M748.4,596.1v-2.4M748.4,339.4v2.4M810.7,596.1v-2.4M810.7,339.4v2.4M872.9,596.1v-2.4M872.9,339.4v2.4M935.2,596.1v-2.4M935.2,339.4v2.4M717.5,562.5h2.4M966.6,562.5h-2.4M717.5,517.8h2.4M966.6,517.8h-2.4M717.5,473.2h2.4M966.6,473.2h-2.4M717.5,428.5h2.4M966.6,428.5h-2.4M717.5,383.9h2.4M966.6,383.9h-2.4" stroke="#000" stroke-width="2.7" stroke-linecap="round" fill="none"/>
<rect x="717.5" y="339.4" width="249.1" height="256.7" fill="none" stroke="#000" stroke-width="2.7"/>
<text transform="translate(717.55 617.7) scale(0.96 1) rotate(0.03)" text-anchor="middle" font-family="Liberation Sans, sans-serif" font-size="22.8" stroke="#000" stroke-width="0.3">2.62</text>
<text transform="translate(779.82 617.7) scale(0.96 1) rotate(0.03)" text-anchor="middle" font-family="Liberation Sans, sans-serif" font-size="22.8" stroke="#000" stroke-width="0.3">2.64</text>
<text transform="translate(842.1 617.7) scale(0.96 1) rotate(0.03)" text-anchor="middle" font-family="Liberation Sans, sans-serif" font-size="22.8" stroke="#000" stroke-width="0.3">2.66</text>
<text transform="translate(904.38 617.7) scale(0.96 1) rotate(0.03)" text-anchor="middle" font-family="Liberation Sans, sans-serif" font-size="22.8" stroke="#000" stroke-width="0.3">2.68</text>
<text transform="translate(966.65 617.7) scale(0.96 1) rotate(0.03)" text-anchor="middle" font-family="Liberation Sans, sans-serif" font-size="22.8" stroke="#000" stroke-width="0.3">2.70</text>
<text transform="translate(786.87 661.1) scale(1.146 1) rotate(0.03)" font-family="Liberation Serif, serif" font-style="italic" font-size="27">w</text>
<text transform="translate(815.61 661.1) scale(0.988 1) rotate(0.03)" font-family="Liberation Sans, sans-serif" font-size="30.25" stroke="#000" stroke-width="0.3">(Bohr)</text>
<clipPath id="cFe1"><rect x="1011.7" y="339.4" width="249.1" height="256.7"/></clipPath>
<g clip-path="url(#cFe1)">
<rect x="1010.7" y="338.4" width="251.1" height="258.7" fill="#29ff00"/>
<path d="M1005.7,337.4 1005.7,348.3 1005.7,359.1 1005.7,370 1005.7,380.8 1005.7,391.7 1005.7,402.6 1005.7,413.4 1005.7,424.3 1005.7,435.2 1005.7,446 1005.7,456.9 1005.7,467.8 1005.7,478.6 1005.7,489.5 1005.7,500.3 1005.7,511.2 1005.7,522.1 1005.7,532.9 1005.7,543.8 1005.7,554.7 1005.7,565.5 1005.7,576.4 1007.3,587.2 1015.8,598.1 L1268.8,599.1 1268.8,336.4Z" fill="#37ff00"/>
<path d="M1005.7,337.4 1005.7,348.3 1005.7,359.1 1005.7,370 1005.7,380.8 1005.7,391.7 1005.7,402.6 1005.7,413.4 1005.7,424.3 1005.7,435.2 1005.7,446 1005.7,456.9 1005.7,467.8 1005.7,478.6 1005.7,489.5 1005.7,500.3 1005.7,511.2 1005.7,522.1 1005.7,532.9 1005.7,543.8 1005.7,554.7 1005.7,565.5 1007.3,576.4 1015.5,587.2 1023,598.1 L1268.8,599.1 1268.8,336.4Z" fill="#45ff00"/>
<path d="M1005.7,337.4 1005.7,348.3 1005.7,359.1 1005.7,370 1005.7,380.8 1005.7,391.7 1005.7,402.6 1005.7,413.4 1005.7,424.3 1005.7,435.2 1005.7,446 1005.7,456.9 1005.7,467.8 1005.7,478.6 1005.7,489.5 1005.7,500.3 1005.7,511.2 1005.7,522.1 1005.7,532.9 1005.7,543.8 1005.7,554.7 1007,565.5 1016,576.4 1023.6,587.2 1030.3,598.1 L1268.8,599.1 1268.8,336.4Z" fill="#53ff00"/>
<path d="M1005.7,337.4 1005.7,348.3 1005.7,359.1 1005.7,370 1005.7,380.8 1005.7,391.7 1005.7,402.6 1005.7,413.4 1005.7,424.3 1005.7,435.2 1005.7,446 1005.7,456.9 1005.7,467.8 1005.7,478.6 1005.7,489.5 1005.7,500.3 1005.7,511.2 1005.7,522.1 1005.7,532.9 1005.7,543.8 1006,554.7 1016,565.5 1024.7,576.4 1031.7,587.2 1037.7,598.1 L1268.8,599.1 1268.8,336.4Z" fill="#60ff00"/>
<path d="M1005.7,337.4 1005.7,348.3 1005.7,359.1 1005.7,370 1005.7,380.8 1005.7,391.7 1005.7,402.6 1005.7,413.4 1005.7,424.3 1005.7,435.2 1005.7,446 1005.7,456.9 1005.7,467.8 1005.7,478.6 1005.7,489.5 1005.7,500.3 1005.7,511.2 1005.7,522.1 1005.7,532.9 1006,543.8 1015.3,554.7 1025.1,565.5 1033.4,576.4 1039.8,587.2 1045.3,598.1 L1268.8,599.1 1268.8,336.4Z" fill="#6eff00"/>
<path d="M1005.7,337.4 1005.7,348.3 1005.7,359.1 1005.7,370 1005.7,380.8 1005.7,391.7 1005.7,402.6 1005.7,413.4 1005.7,424.3 1005.7,435.2 1005.7,446 1005.7,456.9 1005.7,467.8 1005.7,478.6 1005.7,489.5 1005.7,500.3 1005.7,511.2 1005.7,522.1 1006.7,532.9 1015.9,543.8 1024.9,554.7 1034.1,565.5 1041.8,576.4 1047.8,587.2 1052.8,598.1 L1268.8,599.1 1268.8,336.4Z" fill="#7cff00"/>
<path d="M1005.7,337.4 1005.7,348.3 1005.7,359.1 1005.7,370 1005.7,380.8 1005.7,391.7 1005.7,402.6 1005.7,413.4 1005.7,424.3 1005.7,435.2 1005.7,446 1005.7,456.9 1005.7,467.8 1005.7,478.6 1005.7,489.5 1005.7,500.3 1005.7,511.2 1008.4,522.1 1017.3,532.9 1026.1,543.8 1034.6,554.7 1043.1,565.5 1050.1,576.4 1055.7,587.2 1060.4,598.1 L1268.8,599.1 1268.8,336.4Z" fill="#8aff00"/>
<path d="M1005.7,337.4 1005.7,348.3 1005.7,359.1 1005.7,370 1005.7,380.8 1005.7,391.7 1005.7,402.6 1005.7,413.4 1005.7,424.3 1005.7,435.2 1005.7,446 1005.7,456.9 1005.7,467.8 1005.7,478.6 1005.7,489.5 1005.7,500.3 1010.7,511.2 1019.7,522.1 1028.3,532.9 1036.7,543.8 1044.6,554.7 1052.2,565.5 1058.5,576.4 1063.7,587.2 1068.2,598.1 L1268.8,599.1 1268.8,336.4Z" fill="#98ff00"/>
<path d="M1005.7,337.4 1005.7,348.3 1005.7,359.1 1005.7,370 1005.7,380.8 1005.7,391.7 1005.7,402.6 1005.7,413.4 1005.7,424.3 1005.7,435.2 1005.7,446 1005.7,456.9 1005.7,467.8 1005.7,478.6 1005.7,489.5 1013.9,500.3 1022.7,511.2 1031.5,522.1 1039.7,532.9 1047.5,543.8 1054.9,554.7 1061.5,565.5 1067.2,576.4 1071.9,587.2 1076.3,598.1 L1268.8,599.1 1268.8,336.4Z" fill="#a5ff00"/>
<path d="M1005.7,337.4 1005.7,348.3 1005.7,359.1 1005.7,370 1005.7,380.8 1005.7,391.7 1005.7,402.6 1005.7,413.4 1005.7,424.3 1005.7,435.2 1005.7,446 1005.7,456.9 1005.7,467.8 1009.5,478.6 1018,489.5 1026.7,500.3 1035.2,511.2 1043.6,522.1 1051.4,532.9 1058.8,543.8 1065.6,554.7 1071.4,565.5 1076.4,576.4 1080.7,587.2 1084.7,598.1 L1268.8,599.1 1268.8,336.4Z" fill="#b3ff00"/>
<path d="M1005.7,337.4 1005.7,348.3 1005.7,359.1 1005.7,370 1005.7,380.8 1005.7,391.7 1005.7,402.6 1005.7,413.4 1005.7,424.3 1005.7,435.2 1005.7,446 1007.3,456.9 1015.5,467.8 1023.7,478.6 1031.9,489.5 1040.2,500.3 1048.3,511.2 1056.3,522.1 1063.6,532.9 1070.5,543.8 1076.8,554.7 1081.9,565.5 1086.3,576.4 1090.1,587.2 1093.7,598.1 L1268.8,599.1 1268.8,336.4Z" fill="#c1ff00"/>
<path d="M1005.7,337.4 1005.7,348.3 1005.7,359.1 1005.7,370 1005.7,380.8 1005.7,391.7 1005.7,402.6 1005.7,413.4 1005.7,424.3 1007.4,435.2 1015.3,446 1023.3,456.9 1031.1,467.8 1039,478.6 1046.8,489.5 1054.7,500.3 1062.3,511.2 1069.7,522.1 1076.5,532.9 1082.8,543.8 1088.5,554.7 1093,565.5 1096.8,576.4 1100,587.2 1103,598.1 L1268.8,599.1 1268.8,336.4Z" fill="#cfff00"/>
<path d="M1005.7,337.4 1005.7,348.3 1005.7,359.1 1005.7,370 1005.7,380.8 1005.7,391.7 1005.7,402.6 1009.7,413.4 1017.1,424.3 1024.7,435.2 1032.3,446 1039.9,456.9 1047.4,467.8 1054.9,478.6 1062.3,489.5 1069.7,500.3 1076.7,511.2 1083.4,522.1 1089.6,532.9 1095.5,543.8 1100.5,554.7 1104.4,565.5 1107.7,576.4 1110.3,587.2 1112.8,598.1 L1268.8,599.1 1268.8,336.4Z" fill="#ddff00"/>
<path d="M1005.7,337.4 1005.7,348.3 1005.7,359.1 1005.7,370 1005.7,380.8 1013,391.7 1020.5,402.6 1027.8,413.4 1034.9,424.3 1042.1,435.2 1049.4,446 1056.6,456.9 1063.7,467.8 1070.8,478.6 1077.8,489.5 1084.7,500.3 1091.2,511.2 1097.2,522.1 1102.9,532.9 1108.2,543.8 1112.7,554.7 1116,565.5 1118.8,576.4 1121,587.2 1122.9,598.1 L1268.8,599.1 1268.8,336.4Z" fill="#eaff00"/>
<path d="M1005.7,337.4 1005.7,348.3 1009.1,359.1 1016.4,370 1023.7,380.8 1031.1,391.7 1038.3,402.6 1045.3,413.4 1052,424.3 1058.9,435.2 1065.9,446 1072.8,456.9 1079.5,467.8 1086.2,478.6 1092.9,489.5 1099.3,500.3 1105.4,511.2 1110.8,522.1 1116,532.9 1120.8,543.8 1124.8,554.7 1127.7,565.5 1130,576.4 1131.8,587.2 1133.3,598.1 L1268.8,599.1 1268.8,336.4Z" fill="#f8ff00"/>
<path d="M1013.5,337.4 1020.7,348.3 1027.8,359.1 1034.8,370 1041.8,380.8 1048.7,391.7 1055.6,402.6 1062.3,413.4 1068.7,424.3 1075.2,435.2 1081.9,446 1088.4,456.9 1094.8,467.8 1101.2,478.6 1107.5,489.5 1113.6,500.3 1119.2,511.2 1124.2,522.1 1128.9,532.9 1133.2,543.8 1136.7,554.7 1139.2,565.5 1141.2,576.4 1142.7,587.2 1143.9,598.1 L1268.8,599.1 1268.8,336.4Z" fill="#fff800"/>
<path d="M1033,337.4 1039.9,348.3 1046.7,359.1 1053.3,370 1059.8,380.8 1066.4,391.7 1072.8,402.6 1079.1,413.4 1085.3,424.3 1091.5,435.2 1097.7,446 1103.9,456.9 1109.9,467.8 1116,478.6 1122,489.5 1127.7,500.3 1133,511.2 1137.5,522.1 1141.7,532.9 1145.5,543.8 1148.6,554.7 1150.8,565.5 1152.6,576.4 1153.8,587.2 1154.9,598.1 L1268.8,599.1 1268.8,336.4Z" fill="#ffea00"/>
<path d="M1052.8,337.4 1059.3,348.3 1065.8,359.1 1072,370 1078.1,380.8 1084.1,391.7 1090.2,402.6 1096.1,413.4 1102,424.3 1107.8,435.2 1113.7,446 1119.5,456.9 1125.2,467.8 1130.9,478.6 1136.6,489.5 1142,500.3 1146.8,511.2 1150.9,522.1 1154.7,532.9 1158.1,543.8 1160.7,554.7 1162.6,565.5 1164.2,576.4 1165.4,587.2 1166.3,598.1 L1268.8,599.1 1268.8,336.4Z" fill="#ffdd00"/>
<path d="M1072.8,337.4 1079,348.3 1085.1,359.1 1091,370 1096.6,380.8 1102.3,391.7 1107.9,402.6 1113.5,413.4 1119,424.3 1124.6,435.2 1130,446 1135.5,456.9 1140.8,467.8 1146.2,478.6 1151.6,489.5 1156.6,500.3 1161,511.2 1164.7,522.1 1168.1,532.9 1171,543.8 1173.2,554.7 1175,565.5 1176.4,576.4 1177.4,587.2 1178.3,598.1 L1268.8,599.1 1268.8,336.4Z" fill="#ffcf00"/>
<path d="M1092.9,337.4 1098.9,348.3 1104.8,359.1 1110.3,370 1115.6,380.8 1120.9,391.7 1126.2,402.6 1131.4,413.4 1136.7,424.3 1141.9,435.2 1147,446 1152,456.9 1156.9,467.8 1162,478.6 1167.1,489.5 1171.8,500.3 1175.8,511.2 1179.1,522.1 1182.1,532.9 1184.6,543.8 1186.5,554.7 1187.9,565.5 1189.2,576.4 1190.1,587.2 1190.8,598.1 L1268.8,599.1 1268.8,336.4Z" fill="#ffc100"/>
<path d="M1113.4,337.4 1119.2,348.3 1124.9,359.1 1130.2,370 1135.3,380.8 1140.4,391.7 1145.4,402.6 1150.4,413.4 1155.3,424.3 1160.2,435.2 1164.9,446 1169.4,456.9 1173.9,467.8 1178.7,478.6 1183.5,489.5 1187.8,500.3 1191.4,511.2 1194.4,522.1 1197,532.9 1199.1,543.8 1200.7,554.7 1201.9,565.5 1202.9,576.4 1203.6,587.2 1204.2,598.1 L1268.8,599.1 1268.8,336.4Z" fill="#ffb300"/>
<path d="M1134.2,337.4 1139.8,348.3 1145.3,359.1 1150.6,370 1155.5,380.8 1160.4,391.7 1165.3,402.6 1170,413.4 1174.6,424.3 1179.2,435.2 1183.5,446 1187.5,456.9 1191.6,467.8 1196.1,478.6 1200.5,489.5 1204.5,500.3 1207.7,511.2 1210.3,522.1 1212.5,532.9 1214.3,543.8 1215.6,554.7 1216.6,565.5 1217.4,576.4 1217.9,587.2 1218.4,598.1 L1268.8,599.1 1268.8,336.4Z" fill="#ffa500"/>
<path d="M1155.1,337.4 1160.6,348.3 1166,359.1 1171.1,370 1175.9,380.8 1180.7,391.7 1185.3,402.6 1189.7,413.4 1194.1,424.3 1198.4,435.2 1202.2,446 1205.8,456.9 1209.4,467.8 1213.6,478.6 1217.7,489.5 1221.4,500.3 1224.1,511.2 1226.4,522.1 1228.3,532.9 1229.8,543.8 1230.9,554.7 1231.7,565.5 1232.3,576.4 1232.8,587.2 1233.1,598.1 L1268.8,599.1 1268.8,336.4Z" fill="#ff9800"/>
<path d="M1176.1,337.4 1181.3,348.3 1186.4,359.1 1191.4,370 1196.1,380.8 1200.6,391.7 1205,402.6 1209.1,413.4 1213.2,424.3 1217.1,435.2 1220.6,446 1223.7,456.9 1226.9,467.8 1230.8,478.6 1234.6,489.5 1237.9,500.3 1240.3,511.2 1242.3,522.1 1244,532.9 1245.3,543.8 1246.2,554.7 1246.9,565.5 1247.4,576.4 1247.8,587.2 1248.1,598.1 L1268.8,599.1 1268.8,336.4Z" fill="#ff8a00"/>
<path d="M1197,337.4 1201.8,348.3 1206.6,359.1 1211.2,370 1215.6,380.8 1219.8,391.7 1223.8,402.6 1227.6,413.4 1231.4,424.3 1235,435.2 1238.1,446 1240.8,456.9 1243.7,467.8 1247.2,478.6 1250.7,489.5 1253.7,500.3 1255.8,511.2 1257.6,522.1 1259.1,532.9 1260.3,543.8 1261.2,554.7 1261.9,565.5 1262.4,576.4 1262.8,587.2 1263.1,598.1 L1268.8,599.1 1268.8,336.4Z" fill="#ff7c00"/>
<path d="M1217.8,337.4 1222.1,348.3 1226.4,359.1 1230.6,370 1234.6,380.8 1238.4,391.7 1242,402.6 1245.4,413.4 1248.8,424.3 1252,435.2 1254.8,446 1257.3,456.9 1259.9,467.8 1263,478.6 1266.2,489.5 1266.8,500.3 1266.8,511.2 1266.8,522.1 1266.8,532.9 1266.8,543.8 1266.8,554.7 1266.8,565.5 1266.8,576.4 1266.8,587.2 1266.8,598.1 L1268.8,599.1 1268.8,336.4Z" fill="#ff6e00"/>
<path d="M1238.6,337.4 1242.4,348.3 1246.1,359.1 1249.8,370 1253.3,380.8 1256.7,391.7 1259.9,402.6 1262.9,413.4 1265.8,424.3 1266.8,435.2 1266.8,446 1266.8,456.9 1266.8,467.8 1266.8,478.6 1266.8,489.5 1266.8,500.3 1266.8,511.2 1266.8,522.1 1266.8,532.9 1266.8,543.8 1266.8,554.7 1266.8,565.5 1266.8,576.4 1266.8,587.2 1266.8,598.1 L1268.8,599.1 1268.8,336.4Z" fill="#ff6000"/>
<path d="M1259.4,337.4 1262.5,348.3 1265.7,359.1 1266.8,370 1266.8,380.8 1266.8,391.7 1266.8,402.6 1266.8,413.4 1266.8,424.3 1266.8,435.2 1266.8,446 1266.8,456.9 1266.8,467.8 1266.8,478.6 1266.8,489.5 1266.8,500.3 1266.8,511.2 1266.8,522.1 1266.8,532.9 1266.8,543.8 1266.8,554.7 1266.8,565.5 1266.8,576.4 1266.8,587.2 1266.8,598.1 L1268.8,599.1 1268.8,336.4Z" fill="#ff5300"/>
<path d="M777.7,337.4 779.6,339.6 783.5,343.9 787.3,348.3 791.1,352.6 795,357 798.8,361.3 802.6,365.6 806.5,370 810.3,374.3 814.1,378.7 818,383 821.8,387.4 825.6,391.7 829.5,396.1 833.3,400.4 837.1,404.7 841,409.1 844.8,413.4 848.6,417.8 852.5,422.1 856.3,426.5 860.1,430.8 864,435.2 867.8,439.5 871.6,443.9 875.5,448.2 879.3,452.5 883.1,456.9 887,461.2 890.8,465.6 894.6,469.9 898.5,474.3 902.3,478.6 906.1,483 910,487.3 913.8,491.6 917.6,496 921.5,500.3 925.3,504.7 929.1,509 933,513.4 936.8,517.7 940.6,522.1 944.5,526.4 948.3,530.8 952.1,535.1 956,539.4 959.8,543.8 963.6,548.1 967.5,552.5 971.3,556.8 975.1,561.2 979,565.5 982.8,569.9 986.6,574.2 990.5,578.5 994.3,582.9 998.2,587.2 1002,591.6 1005.8,595.9 1007.7,598.1" fill="none" stroke="#303030" stroke-opacity="0.8" stroke-width="0.62"/>
<path d="M837.9,337.4 839.7,339.6 842.9,343.9 846.2,348.3 849.4,352.6 852.7,357 856,361.3 859.3,365.6 862.6,370 865.9,374.3 869.3,378.7 872.7,383 876,387.4 879.4,391.7 882.8,396.1 886.2,400.4 889.6,404.7 893.1,409.1 896.5,413.4 900,417.8 903.4,422.1 906.9,426.5 910.4,430.8 913.9,435.2 917.4,439.5 920.9,443.9 924.4,448.2 928,452.5 931.5,456.9 935.1,461.2 938.6,465.6 942.2,469.9 945.8,474.3 949.4,478.6 953,483 956.6,487.3 960.2,491.6 963.9,496 967.6,500.3 971.4,504.7 975.1,509 978.9,513.4 982.6,517.7 986.4,522.1 990.2,526.4 994,530.8 997.8,535.1 1001.6,539.4 1005.3,543.8 1009.1,548.1 1012.8,552.5 1016.7,556.8 1020.6,561.2 1024.5,565.5 1028.1,569.9 1031.3,574.2 1032.8,576.4" fill="none" stroke="#303030" stroke-opacity="0.8" stroke-width="0.62"/>
<path d="M1042.1,593 1042.5,593.8 1042.8,594.5 1043.1,595.2 1043.5,595.9 1043.9,596.7 1044.3,597.4 1044.7,598.1" fill="none" stroke="#303030" stroke-opacity="0.8" stroke-width="0.62"/>
<path d="M903.1,337.4 904.7,339.6 907.8,343.9 910.9,348.3 914,352.6 917.1,357 920.2,361.3 923.3,365.6 926.5,370 929.7,374.3 932.9,378.7 936.2,383 939.4,387.4 942.7,391.7 945.9,396.1 949.2,400.4 952.5,404.7 955.8,409.1 959.1,413.4 962.4,417.8 965.8,422.1 969.1,426.5 972.4,430.8 975.8,435.2 979.1,439.5 982.5,443.9 985.9,448.2 989.2,452.5 992.6,456.9 996,461.2 999.4,465.6 1002.8,469.9 1006.1,474.3 1009.5,478.6 1012.9,483 1016.3,487.3 1019.8,491.6 1023.2,496 1026.7,500.3 1030.1,504.7 1033.5,509" fill="none" stroke="#303030" stroke-opacity="0.8" stroke-width="0.62"/>
<path d="M1046.3,525.7 1047.9,527.9 1050.9,532.2 1053.9,536.5 1056.9,540.9 1059.7,545.2 1062.5,549.6 1065.1,553.9 1067.6,558.3 1070,562.6 1072.1,567 1074.1,571.3 1076.1,575.7 1077.9,580 1079.6,584.3 1081.2,588.7 1082.6,593 1084.4,597.4 1084.7,598.1" fill="none" stroke="#303030" stroke-opacity="0.8" stroke-width="0.62"/>
<path d="M989.2,337.4 990.7,339.6 993.7,343.9 996.7,348.3 999.6,352.6 1002.6,357 1005.5,361.3 1008.5,365.6 1011.5,370 1014.4,374.3 1017.4,378.7 1020.4,383 1023.3,387.4 1026.3,391.7 1029.2,396.1 1032.1,400.4 1035,404.7 1037.9,409.1" fill="none" stroke="#303030" stroke-opacity="0.8" stroke-width="0.62"/>
<path d="M1048.4,425.7 1049.8,427.9 1052.6,432.3 1055.4,436.6 1058.2,441 1061,445.3 1063.8,449.6 1066.7,454 1069.4,458.3 1072.2,462.7 1074.9,467 1077.6,471.4 1080.3,475.7 1083,480.1 1085.7,484.4 1088.4,488.8 1091.1,493.1 1093.7,497.4 1096.3,501.8 1098.8,506.1 1101.2,510.5 1103.5,514.8 1105.7,519.2 1107.9,523.5 1110,527.9 1112.1,532.2 1114.2,536.5 1116.2,540.9 1118,545.2 1119.8,549.6 1121.3,553.9 1122.7,558.3 1123.8,562.6 1124.9,567 1125.9,571.3 1126.9,575.7 1127.7,580 1128.4,584.3 1129,588.7 1129.5,593 1130.3,597.4 1130.4,598.1" fill="none" stroke="#303030" stroke-opacity="0.8" stroke-width="0.62"/>
<path d="M1088.8,337.4 1090,339.6 1092.5,343.9 1094.9,348.3 1097.3,352.6 1099.6,357 1101.9,361.3 1103.8,364.9" fill="none" stroke="#303030" stroke-opacity="0.8" stroke-width="0.62"/>
<path d="M1111.7,380.8 1112.8,383 1114.9,387.4 1117,391.7 1119.2,396.1 1121.3,400.4 1123.5,404.7 1125.6,409.1 1127.7,413.4 1129.9,417.8 1132,422.1 1134.1,426.5 1136.2,430.8 1138.3,435.2 1140.4,439.5 1142.4,443.9 1144.5,448.2 1146.5,452.5 1148.6,456.9 1150.6,461.2 1152.6,465.6 1154.6,469.9 1156.6,474.3 1158.7,478.6 1160.8,483 1162.8,487.3 1164.9,491.6 1166.8,496 1168.6,500.3 1170.4,504.7 1172,509 1173.5,513.4 1174.8,517.7 1176.1,522.1 1177.4,526.4 1178.6,530.8 1179.8,535.1 1180.8,539.4 1181.8,543.8 1182.7,548.1 1183.4,552.5 1184,556.8 1184.7,561.2 1185.2,565.5 1185.8,569.9 1186.3,574.2 1186.7,578.5 1187.1,582.9 1187.4,587.2 1187.6,591.6 1188,595.9 1188.2,598.1" fill="none" stroke="#303030" stroke-opacity="0.8" stroke-width="0.62"/>
<path d="M1194.2,337.4 1195.1,339.6 1197.1,343.9 1199.1,348.3 1201,352.6 1202.9,357 1204.8,361.3 1206.7,365.6 1208.5,370 1210.3,374.3 1212.1,378.7 1213.9,383 1215.6,387.4 1217.3,391.7 1218.9,396.1 1220.6,400.4 1222.1,404.7 1223.7,409.1 1225.2,413.4 1226.7,417.8 1227.7,420.7" fill="none" stroke="#303030" stroke-opacity="0.8" stroke-width="0.62"/>
<path d="M1233.1,436.6 1233.7,438.8 1235,443.1 1236.2,447.5 1237.3,451.8 1238.4,456.2 1239.5,460.5 1240.7,464.9 1241.9,469.2 1243.3,473.5 1244.8,477.9 1246.2,482.2 1247.7,486.6 1249.1,490.9 1250.3,495.3 1251.5,499.6 1252.4,504 1253.3,508.3 1254,512.6 1254.8,517 1255.5,521.3 1256.2,525.7 1256.8,530 1257.3,534.4 1257.8,538.7 1258.2,543.1 1258.6,547.4 1259,551.8 1259.3,556.1 1259.6,560.4 1259.8,564.8 1260.1,569.1 1260.3,573.5 1260.4,577.8 1260.6,582.2 1260.8,586.5 1260.9,590.9 1261,595.2 1261.1,598.1" fill="none" stroke="#303030" stroke-opacity="0.8" stroke-width="0.62"/>
<path d="M1299.6,337.4 1299.9,339.6 1300.6,343.9 1301.3,348.3 1302,352.6 1302.7,357 1303.3,361.3 1304,365.6 1304.7,370 1305.4,374.3 1306.1,378.7 1306.7,383 1307.4,387.4 1308.1,391.7 1308.8,396.1 1309.5,400.4 1310.2,404.7 1310.8,409.1 1311.5,413.4 1312.2,417.8 1312.9,422.1 1313.6,426.5 1314.2,430.8 1314.9,435.2 1315.6,439.5 1316.3,443.9 1317,448.2 1317.7,452.5 1318.3,456.9 1319,461.2 1319.7,465.6 1320.4,469.9 1321.1,474.3 1321.7,478.6 1322.4,483 1323.1,487.3 1323.8,491.6 1324.5,496 1325.2,500.3 1325.8,504.7 1326.5,509 1327.2,513.4 1327.9,517.7 1328.6,522.1 1329.2,526.4 1329.9,530.8 1330.6,535.1 1331.3,539.4 1332,543.8 1332.6,548.1 1333.3,552.5 1334,556.8 1334.7,561.2 1335.4,565.5 1336.1,569.9 1336.7,574.2 1337.4,578.5 1338.1,582.9 1338.8,587.2 1339.5,591.6 1340.1,595.9 1340.5,598.1" fill="none" stroke="#303030" stroke-opacity="0.8" stroke-width="0.62"/>
<text transform="translate(1210.66 435.3) rotate(0.03)" font-family="Liberation Sans, sans-serif" font-size="18.9" fill="#404040" stroke="#404040" stroke-width="0.3">2.07</text>
<text transform="translate(1089.99 379.6) rotate(0.03)" font-family="Liberation Sans, sans-serif" font-size="18.9" fill="#404040" stroke="#404040" stroke-width="0.3">1.92</text>
<text transform="translate(1025.99 424) rotate(0.03)" font-family="Liberation Sans, sans-serif" font-size="18.9" fill="#404040" stroke="#404040" stroke-width="0.3">1.77</text>
<text transform="translate(1022.39 524) rotate(0.03)" font-family="Liberation Sans, sans-serif" font-size="18.9" fill="#404040" stroke="#404040" stroke-width="0.3">1.63</text>
<text transform="translate(1020.29 591.4) rotate(0.03)" font-family="Liberation Sans, sans-serif" font-size="18.9" fill="#404040" stroke="#404040" stroke-width="0.3">1.48</text>
</g>
<rect x="1020.7" y="347.1" width="34.1" height="32.9" fill="#fff"/>
<text transform="translate(1037.75 371.65) scale(0.975 1) rotate(0.03)" text-anchor="middle" font-family="Liberation Sans, sans-serif" font-size="22.8" stroke="#000" stroke-width="0.3">Fe</text>
<polygon points="1098.4,575.6 1100.6,581.5 1107.1,581.6 1101.9,585.4 1103.8,591.4 1098.4,587.9 1093.1,591.4 1094.9,585.4 1089.8,581.6 1096.2,581.5" fill="none" stroke="#000" stroke-width="1.35" stroke-linejoin="round"/>
<polygon points="1132.2,530.9 1134.4,536.8 1140.9,537.0 1135.7,540.8 1137.6,546.8 1132.2,543.3 1126.9,546.8 1128.7,540.8 1123.5,537.0 1130.0,536.8" fill="none" stroke="#000" stroke-width="1.35" stroke-linejoin="round"/>
<polygon points="1232.5,397.0 1234.6,402.9 1241.1,403.1 1236.0,406.9 1237.8,412.9 1232.5,409.3 1227.1,412.9 1228.9,406.9 1223.8,403.1 1230.3,402.9" fill="none" stroke="#000" stroke-width="1.35" stroke-linejoin="round"/>
<path d="M1073.7,596.1v-4.7M1073.7,339.4v4.7M1136,596.1v-4.7M1136,339.4v4.7M1198.3,596.1v-4.7M1198.3,339.4v4.7M1011.7,584.8h4.7M1260.8,584.8h-4.7M1011.7,540.1h4.7M1260.8,540.1h-4.7M1011.7,495.5h4.7M1260.8,495.5h-4.7M1011.7,450.9h4.7M1260.8,450.9h-4.7M1011.7,406.2h4.7M1260.8,406.2h-4.7M1011.7,361.6h4.7M1260.8,361.6h-4.7M1042.6,596.1v-2.4M1042.6,339.4v2.4M1104.9,596.1v-2.4M1104.9,339.4v2.4M1167.1,596.1v-2.4M1167.1,339.4v2.4M1229.4,596.1v-2.4M1229.4,339.4v2.4M1011.7,562.5h2.4M1260.8,562.5h-2.4M1011.7,517.8h2.4M1260.8,517.8h-2.4M1011.7,473.2h2.4M1260.8,473.2h-2.4M1011.7,428.5h2.4M1260.8,428.5h-2.4M1011.7,383.9h2.4M1260.8,383.9h-2.4" stroke="#000" stroke-width="2.7" stroke-linecap="round" fill="none"/>
<rect x="1011.7" y="339.4" width="249.1" height="256.7" fill="none" stroke="#000" stroke-width="2.7"/>
<text transform="translate(1011.75 617.7) scale(0.96 1) rotate(0.03)" text-anchor="middle" font-family="Liberation Sans, sans-serif" font-size="22.8" stroke="#000" stroke-width="0.3">2.62</text>
<text transform="translate(1074.02 617.7) scale(0.96 1) rotate(0.03)" text-anchor="middle" font-family="Liberation Sans, sans-serif" font-size="22.8" stroke="#000" stroke-width="0.3">2.64</text>
<text transform="translate(1136.3 617.7) scale(0.96 1) rotate(0.03)" text-anchor="middle" font-family="Liberation Sans, sans-serif" font-size="22.8" stroke="#000" stroke-width="0.3">2.66</text>
<text transform="translate(1198.58 617.7) scale(0.96 1) rotate(0.03)" text-anchor="middle" font-family="Liberation Sans, sans-serif" font-size="22.8" stroke="#000" stroke-width="0.3">2.68</text>
<text transform="translate(1260.85 617.7) scale(0.96 1) rotate(0.03)" text-anchor="middle" font-family="Liberation Sans, sans-serif" font-size="22.8" stroke="#000" stroke-width="0.3">2.70</text>
<text transform="translate(1084.92 661.1) scale(1.146 1) rotate(0.03)" font-family="Liberation Serif, serif" font-style="italic" font-size="27">w</text>
<text transform="translate(1113.66 661.1) scale(0.988 1) rotate(0.03)" font-family="Liberation Sans, sans-serif" font-size="30.25" stroke="#000" stroke-width="0.3">(Bohr)</text>
<clipPath id="cMn1"><rect x="1306.1" y="339.4" width="249.1" height="256.7"/></clipPath>
<g clip-path="url(#cMn1)">
<rect x="1305.1" y="338.4" width="251.1" height="258.7" fill="#00ff60"/>
<path d="M1300.1,337.4 1300.1,348.3 1300.1,359.1 1300.1,370 1300.1,380.8 1300.1,391.7 1300.1,402.6 1300.1,413.4 1300.1,424.3 1300.1,435.2 1300.1,446 1300.1,456.9 1300.1,467.8 1300.1,478.6 1300.1,489.5 1300.1,500.3 1300.1,511.2 1300.1,522.1 1300.1,532.9 1300.1,543.8 1300.1,554.7 1300.1,565.5 1300.1,576.4 1300.1,587.2 1313,598.1 L1563.2,599.1 1563.2,336.4Z" fill="#00ff53"/>
<path d="M1300.1,337.4 1300.1,348.3 1300.1,359.1 1300.1,370 1300.1,380.8 1300.1,391.7 1300.1,402.6 1300.1,413.4 1300.1,424.3 1300.1,435.2 1300.1,446 1300.1,456.9 1300.1,467.8 1300.1,478.6 1300.1,489.5 1300.1,500.3 1300.1,511.2 1300.1,522.1 1300.1,532.9 1300.1,543.8 1300.1,554.7 1300.1,565.5 1300.1,576.4 1301.2,587.2 1320.7,598.1 L1563.2,599.1 1563.2,336.4Z" fill="#00ff45"/>
<path d="M1300.1,337.4 1300.1,348.3 1300.1,359.1 1300.1,370 1300.1,380.8 1300.1,391.7 1300.1,402.6 1300.1,413.4 1300.1,424.3 1300.1,435.2 1300.1,446 1300.1,456.9 1300.1,467.8 1300.1,478.6 1300.1,489.5 1300.1,500.3 1300.1,511.2 1300.1,522.1 1300.1,532.9 1300.1,543.8 1300.1,554.7 1300.1,565.5 1300.1,576.4 1308.5,587.2 1327.8,598.1 L1563.2,599.1 1563.2,336.4Z" fill="#00ff37"/>
<path d="M1300.1,337.4 1300.1,348.3 1300.1,359.1 1300.1,370 1300.1,380.8 1300.1,391.7 1300.1,402.6 1300.1,413.4 1300.1,424.3 1300.1,435.2 1300.1,446 1300.1,456.9 1300.1,467.8 1300.1,478.6 1300.1,489.5 1300.1,500.3 1300.1,511.2 1300.1,522.1 1300.1,532.9 1300.1,543.8 1300.1,554.7 1300.1,565.5 1300.1,576.4 1315.4,587.2 1334,598.1 L1563.2,599.1 1563.2,336.4Z" fill="#00ff29"/>
<path d="M1300.1,337.4 1300.1,348.3 1300.1,359.1 1300.1,370 1300.1,380.8 1300.1,391.7 1300.1,402.6 1300.1,413.4 1300.1,424.3 1300.1,435.2 1300.1,446 1300.1,456.9 1300.1,467.8 1300.1,478.6 1300.1,489.5 1300.1,500.3 1300.1,511.2 1300.1,522.1 1300.1,532.9 1300.1,543.8 1300.1,554.7 1300.1,565.5 1303.7,576.4 1321.7,587.2 1339.4,598.1 L1563.2,599.1 1563.2,336.4Z" fill="#00ff1c"/>
<path d="M1300.1,337.4 1300.1,348.3 1300.1,359.1 1300.1,370 1300.1,380.8 1300.1,391.7 1300.1,402.6 1300.1,413.4 1300.1,424.3 1300.1,435.2 1300.1,446 1300.1,456.9 1300.1,467.8 1300.1,478.6 1300.1,489.5 1300.1,500.3 1300.1,511.2 1300.1,522.1 1300.1,532.9 1300.1,543.8 1300.1,554.7 1300.1,565.5 1310.4,576.4 1327.5,587.2 1343.8,598.1 L1563.2,599.1 1563.2,336.4Z" fill="#00ff0e"/>
<path d="M1300.1,337.4 1300.1,348.3 1300.1,359.1 1300.1,370 1300.1,380.8 1300.1,391.7 1300.1,402.6 1300.1,413.4 1300.1,424.3 1300.1,435.2 1300.1,446 1300.1,456.9 1300.1,467.8 1300.1,478.6 1300.1,489.5 1300.1,500.3 1300.1,511.2 1300.1,522.1 1300.1,532.9 1300.1,543.8 1300.1,554.7 1300.1,565.5 1316.9,576.4 1332.7,587.2 1347.5,598.1 L1563.2,599.1 1563.2,336.4Z" fill="#00ff00"/>
<path d="M1300.1,337.4 1300.1,348.3 1300.1,359.1 1300.1,370 1300.1,380.8 1300.1,391.7 1300.1,402.6 1300.1,413.4 1300.1,424.3 1300.1,435.2 1300.1,446 1300.1,456.9 1300.1,467.8 1300.1,478.6 1300.1,489.5 1300.1,500.3 1300.1,511.2 1300.1,522.1 1300.1,532.9 1300.1,543.8 1300.1,554.7 1306.7,565.5 1323.2,576.4 1337.8,587.2 1350.9,598.1 L1563.2,599.1 1563.2,336.4Z" fill="#0eff00"/>
<path d="M1300.1,337.4 1300.1,348.3 1300.1,359.1 1300.1,370 1300.1,380.8 1300.1,391.7 1300.1,402.6 1300.1,413.4 1300.1,424.3 1300.1,435.2 1300.1,446 1300.1,456.9 1300.1,467.8 1300.1,478.6 1300.1,489.5 1300.1,500.3 1300.1,511.2 1300.1,522.1 1300.1,532.9 1300.1,543.8 1300.1,554.7 1314.1,565.5 1329.5,576.4 1343,587.2 1354.7,598.1 L1563.2,599.1 1563.2,336.4Z" fill="#1cff00"/>
<path d="M1300.1,337.4 1300.1,348.3 1300.1,359.1 1300.1,370 1300.1,380.8 1300.1,391.7 1300.1,402.6 1300.1,413.4 1300.1,424.3 1300.1,435.2 1300.1,446 1300.1,456.9 1300.1,467.8 1300.1,478.6 1300.1,489.5 1300.1,500.3 1300.1,511.2 1300.1,522.1 1300.1,532.9 1300.1,543.8 1306.4,554.7 1321.5,565.5 1336,576.4 1348.5,587.2 1359,598.1 L1563.2,599.1 1563.2,336.4Z" fill="#29ff00"/>
<path d="M1300.1,337.4 1300.1,348.3 1300.1,359.1 1300.1,370 1300.1,380.8 1300.1,391.7 1300.1,402.6 1300.1,413.4 1300.1,424.3 1300.1,435.2 1300.1,446 1300.1,456.9 1300.1,467.8 1300.1,478.6 1300.1,489.5 1300.1,500.3 1300.1,511.2 1300.1,522.1 1300.1,532.9 1300.1,543.8 1314.4,554.7 1328.9,565.5 1342.7,576.4 1354.5,587.2 1364.4,598.1 L1563.2,599.1 1563.2,336.4Z" fill="#37ff00"/>
<path d="M1300.1,337.4 1300.1,348.3 1300.1,359.1 1300.1,370 1300.1,380.8 1300.1,391.7 1300.1,402.6 1300.1,413.4 1300.1,424.3 1300.1,435.2 1300.1,446 1300.1,456.9 1300.1,467.8 1300.1,478.6 1300.1,489.5 1300.1,500.3 1300.1,511.2 1300.1,522.1 1300.1,532.9 1307.5,543.8 1322.5,554.7 1336.4,565.5 1349.4,576.4 1360.7,587.2 1370.3,598.1 L1563.2,599.1 1563.2,336.4Z" fill="#45ff00"/>
<path d="M1300.1,337.4 1300.1,348.3 1300.1,359.1 1300.1,370 1300.1,380.8 1300.1,391.7 1300.1,402.6 1300.1,413.4 1300.1,424.3 1300.1,435.2 1300.1,446 1300.1,456.9 1300.1,467.8 1300.1,478.6 1300.1,489.5 1300.1,500.3 1300.1,511.2 1300.1,522.1 1302.5,532.9 1316.8,543.8 1330.7,554.7 1343.8,565.5 1356.1,576.4 1366.9,587.2 1376.6,598.1 L1563.2,599.1 1563.2,336.4Z" fill="#53ff00"/>
<path d="M1300.1,337.4 1300.1,348.3 1300.1,359.1 1300.1,370 1300.1,380.8 1300.1,391.7 1300.1,402.6 1300.1,413.4 1300.1,424.3 1300.1,435.2 1300.1,446 1300.1,456.9 1300.1,467.8 1300.1,478.6 1300.1,489.5 1300.1,500.3 1300.1,511.2 1300.3,522.1 1313,532.9 1326.1,543.8 1338.9,554.7 1351.2,565.5 1362.8,576.4 1373.2,587.2 1382.8,598.1 L1563.2,599.1 1563.2,336.4Z" fill="#60ff00"/>
<path d="M1300.1,337.4 1300.1,348.3 1300.1,359.1 1300.1,370 1300.1,380.8 1300.1,391.7 1300.1,402.6 1300.1,413.4 1300.1,424.3 1300.1,435.2 1300.1,446 1300.1,456.9 1300.1,467.8 1300.1,478.6 1300.1,489.5 1300.1,500.3 1300.1,511.2 1310.9,522.1 1323.1,532.9 1335.3,543.8 1347.1,554.7 1358.6,565.5 1369.4,576.4 1379.2,587.2 1388.5,598.1 L1563.2,599.1 1563.2,336.4Z" fill="#6eff00"/>
<path d="M1300.1,337.4 1300.1,348.3 1300.1,359.1 1300.1,370 1300.1,380.8 1300.1,391.7 1300.1,402.6 1300.1,413.4 1300.1,424.3 1300.1,435.2 1300.1,446 1300.1,456.9 1300.1,467.8 1300.1,478.6 1300.1,489.5 1300.1,500.3 1309.3,511.2 1321,522.1 1332.8,532.9 1344.3,543.8 1355.2,554.7 1365.8,565.5 1375.7,576.4 1384.8,587.2 1393.7,598.1 L1563.2,599.1 1563.2,336.4Z" fill="#7cff00"/>
<path d="M1300.1,337.4 1300.1,348.3 1300.1,359.1 1300.1,370 1300.1,380.8 1300.1,391.7 1300.1,402.6 1300.1,413.4 1300.1,424.3 1300.1,435.2 1300.1,446 1300.1,456.9 1300.1,467.8 1300.1,478.6 1300.1,489.5 1308.2,500.3 1319.4,511.2 1331,522.1 1342.5,532.9 1353.4,543.8 1363.3,554.7 1372.8,565.5 1381.8,576.4 1390.3,587.2 1398.5,598.1 L1563.2,599.1 1563.2,336.4Z" fill="#8aff00"/>
<path d="M1300.1,337.4 1300.1,348.3 1300.1,359.1 1300.1,370 1300.1,380.8 1300.1,391.7 1300.1,402.6 1300.1,413.4 1300.1,424.3 1300.1,435.2 1300.1,446 1300.1,456.9 1300.1,467.8 1300.1,478.6 1308.2,489.5 1318.8,500.3 1329.6,511.2 1340.9,522.1 1352.2,532.9 1362.5,543.8 1371.4,554.7 1379.8,565.5 1387.9,576.4 1395.7,587.2 1403.4,598.1 L1563.2,599.1 1563.2,336.4Z" fill="#98ff00"/>
<path d="M1300.1,337.4 1300.1,348.3 1300.1,359.1 1300.1,370 1300.1,380.8 1300.1,391.7 1300.1,402.6 1300.1,413.4 1300.1,424.3 1300.1,435.2 1300.1,446 1300.1,456.9 1300.1,467.8 1309.3,478.6 1319.5,489.5 1329.5,500.3 1339.9,511.2 1351,522.1 1361.9,532.9 1371.6,543.8 1379.7,554.7 1387.1,565.5 1394.3,576.4 1401.4,587.2 1408.4,598.1 L1563.2,599.1 1563.2,336.4Z" fill="#a5ff00"/>
<path d="M1300.1,337.4 1300.1,348.3 1300.1,359.1 1300.1,370 1300.1,380.8 1300.1,391.7 1300.1,402.6 1300.1,413.4 1300.1,424.3 1300.1,435.2 1300.1,446 1301.4,456.9 1311,467.8 1321.1,478.6 1330.9,489.5 1340.5,500.3 1350.5,511.2 1361.2,522.1 1371.6,532.9 1380.8,543.8 1388.2,554.7 1394.7,565.5 1401.1,576.4 1407.6,587.2 1413.9,598.1 L1563.2,599.1 1563.2,336.4Z" fill="#b3ff00"/>
<path d="M1300.1,337.4 1300.1,348.3 1300.1,359.1 1300.1,370 1300.1,380.8 1300.1,391.7 1300.1,402.6 1300.1,413.4 1300.1,424.3 1300.1,435.2 1305.3,446 1314.3,456.9 1323.6,467.8 1333.3,478.6 1342.8,489.5 1352,500.3 1361.5,511.2 1371.7,522.1 1381.6,532.9 1390.1,543.8 1397,554.7 1403,565.5 1408.8,576.4 1414.4,587.2 1420,598.1 L1563.2,599.1 1563.2,336.4Z" fill="#c1ff00"/>
<path d="M1300.1,337.4 1300.1,348.3 1300.1,359.1 1300.1,370 1300.1,380.8 1300.1,391.7 1300.1,402.6 1300.1,413.4 1301.8,424.3 1310.3,435.2 1318.9,446 1327.7,456.9 1336.7,467.8 1346,478.6 1355.1,489.5 1363.9,500.3 1372.9,511.2 1382.5,522.1 1391.7,532.9 1399.7,543.8 1406.2,554.7 1411.9,565.5 1417.1,576.4 1421.9,587.2 1426.5,598.1 L1563.2,599.1 1563.2,336.4Z" fill="#cfff00"/>
<path d="M1300.1,337.4 1300.1,348.3 1300.1,359.1 1300.1,370 1300.1,380.8 1300.1,391.7 1300.1,402.6 1307.8,413.4 1316,424.3 1324.4,435.2 1332.8,446 1341.3,456.9 1349.9,467.8 1358.7,478.6 1367.4,489.5 1375.9,500.3 1384.4,511.2 1393.2,522.1 1401.8,532.9 1409.2,543.8 1415.5,554.7 1421,565.5 1425.6,576.4 1429.7,587.2 1433.4,598.1 L1563.2,599.1 1563.2,336.4Z" fill="#ddff00"/>
<path d="M1300.1,337.4 1300.1,348.3 1300.1,359.1 1300.1,370 1300.1,380.8 1305.1,391.7 1313.8,402.6 1322.1,413.4 1330.1,424.3 1338.2,435.2 1346.4,446 1354.7,456.9 1362.9,467.8 1371.3,478.6 1379.5,489.5 1387.7,500.3 1395.7,511.2 1403.8,522.1 1411.7,532.9 1418.6,543.8 1424.6,554.7 1429.9,565.5 1434.1,576.4 1437.5,587.2 1440.4,598.1 L1563.2,599.1 1563.2,336.4Z" fill="#eaff00"/>
<path d="M1300.1,337.4 1300.1,348.3 1300.1,359.1 1303.1,370 1311.2,380.8 1319.5,391.7 1327.9,402.6 1335.9,413.4 1343.7,424.3 1351.5,435.2 1359.4,446 1367.4,456.9 1375.3,467.8 1383.2,478.6 1391.1,489.5 1398.9,500.3 1406.4,511.2 1414,522.1 1421.2,532.9 1427.7,543.8 1433.3,554.7 1438.3,565.5 1442.2,576.4 1445.1,587.2 1447.5,598.1 L1563.2,599.1 1563.2,336.4Z" fill="#f8ff00"/>
<path d="M1300.1,337.4 1302.8,348.3 1310.4,359.1 1318.1,370 1325.8,380.8 1333.8,391.7 1341.8,402.6 1349.5,413.4 1356.8,424.3 1364.3,435.2 1371.9,446 1379.5,456.9 1387,467.8 1394.6,478.6 1402.1,489.5 1409.6,500.3 1416.6,511.2 1423.7,522.1 1430.4,532.9 1436.4,543.8 1441.6,554.7 1446.2,565.5 1449.8,576.4 1452.4,587.2 1454.6,598.1 L1563.2,599.1 1563.2,336.4Z" fill="#fff800"/>
<path d="M1311,337.4 1318.3,348.3 1325.7,359.1 1333,370 1340.4,380.8 1348,391.7 1355.5,402.6 1362.8,413.4 1369.7,424.3 1376.8,435.2 1384,446 1391.3,456.9 1398.4,467.8 1405.6,478.6 1412.9,489.5 1419.9,500.3 1426.6,511.2 1433.1,522.1 1439.3,532.9 1444.8,543.8 1449.6,554.7 1453.8,565.5 1457.2,576.4 1459.7,587.2 1461.8,598.1 L1563.2,599.1 1563.2,336.4Z" fill="#ffea00"/>
<path d="M1326.6,337.4 1333.7,348.3 1340.9,359.1 1348,370 1355,380.8 1362.1,391.7 1369.2,402.6 1376,413.4 1382.5,424.3 1389.2,435.2 1396,446 1402.9,456.9 1409.6,467.8 1416.5,478.6 1423.5,489.5 1430.1,500.3 1436.4,511.2 1442.4,522.1 1448.1,532.9 1453.2,543.8 1457.6,554.7 1461.4,565.5 1464.5,576.4 1467,587.2 1469.2,598.1 L1563.2,599.1 1563.2,336.4Z" fill="#ffdd00"/>
<path d="M1342.1,337.4 1349,348.3 1356,359.1 1362.8,370 1369.5,380.8 1376.2,391.7 1382.7,402.6 1389.1,413.4 1395.3,424.3 1401.6,435.2 1408,446 1414.5,456.9 1420.9,467.8 1427.5,478.6 1434.1,489.5 1440.4,500.3 1446.2,511.2 1451.8,522.1 1457.1,532.9 1461.8,543.8 1465.7,554.7 1469.2,565.5 1472.1,576.4 1474.5,587.2 1476.7,598.1 L1563.2,599.1 1563.2,336.4Z" fill="#ffcf00"/>
<path d="M1357.4,337.4 1364.2,348.3 1370.9,359.1 1377.4,370 1383.9,380.8 1390.1,391.7 1396.3,402.6 1402.3,413.4 1408.1,424.3 1414,435.2 1420.2,446 1426.3,456.9 1432.4,467.8 1438.7,478.6 1444.9,489.5 1450.9,500.3 1456.3,511.2 1461.5,522.1 1466.4,532.9 1470.7,543.8 1474.2,554.7 1477.3,565.5 1480.1,576.4 1482.3,587.2 1484.5,598.1 L1563.2,599.1 1563.2,336.4Z" fill="#ffc100"/>
<path d="M1372.6,337.4 1379.1,348.3 1385.6,359.1 1391.9,370 1398,380.8 1404,391.7 1409.8,402.6 1415.4,413.4 1420.9,424.3 1426.6,435.2 1432.4,446 1438.3,456.9 1444.1,467.8 1450,478.6 1455.9,489.5 1461.5,500.3 1466.6,511.2 1471.4,522.1 1475.9,532.9 1479.9,543.8 1483.1,554.7 1485.8,565.5 1488.3,576.4 1490.3,587.2 1492.3,598.1 L1563.2,599.1 1563.2,336.4Z" fill="#ffb300"/>
<path d="M1387.6,337.4 1393.9,348.3 1400.2,359.1 1406.2,370 1412,380.8 1417.7,391.7 1423.2,402.6 1428.3,413.4 1433.6,424.3 1439,435.2 1444.7,446 1450.3,456.9 1455.8,467.8 1461.3,478.6 1466.9,489.5 1472.2,500.3 1477,511.2 1481.4,522.1 1485.5,532.9 1489.2,543.8 1492.1,554.7 1494.6,565.5 1496.8,576.4 1498.6,587.2 1500.3,598.1 L1563.2,599.1 1563.2,336.4Z" fill="#ffa500"/>
<path d="M1402.5,337.4 1408.6,348.3 1414.6,359.1 1420.4,370 1426,380.8 1431.4,391.7 1436.5,402.6 1441.3,413.4 1446.3,424.3 1451.6,435.2 1457,446 1462.3,456.9 1467.5,467.8 1472.7,478.6 1478,489.5 1483,500.3 1487.4,511.2 1491.5,522.1 1495.4,532.9 1498.7,543.8 1501.4,554.7 1503.6,565.5 1505.5,576.4 1507.1,587.2 1508.5,598.1 L1563.2,599.1 1563.2,336.4Z" fill="#ff9800"/>
<path d="M1417.5,337.4 1423.3,348.3 1429.1,359.1 1434.7,370 1440,380.8 1445.1,391.7 1449.9,402.6 1454.4,413.4 1459.1,424.3 1464.1,435.2 1469.3,446 1474.5,456.9 1479.4,467.8 1484.3,478.6 1489.1,489.5 1493.8,500.3 1498,511.2 1501.7,522.1 1505.3,532.9 1508.4,543.8 1510.8,554.7 1512.8,565.5 1514.5,576.4 1515.8,587.2 1517.1,598.1 L1563.2,599.1 1563.2,336.4Z" fill="#ff8a00"/>
<path d="M1432.5,337.4 1438.1,348.3 1443.7,359.1 1448.9,370 1454,380.8 1458.8,391.7 1463.4,402.6 1467.5,413.4 1472,424.3 1476.8,435.2 1481.8,446 1486.6,456.9 1491.3,467.8 1495.9,478.6 1500.4,489.5 1504.7,500.3 1508.6,511.2 1512.1,522.1 1515.3,532.9 1518.2,543.8 1520.5,554.7 1522.2,565.5 1523.8,576.4 1524.9,587.2 1526,598.1 L1563.2,599.1 1563.2,336.4Z" fill="#ff7c00"/>
<path d="M1447.5,337.4 1452.8,348.3 1458.1,359.1 1463.1,370 1467.9,380.8 1472.4,391.7 1476.7,402.6 1480.7,413.4 1484.9,424.3 1489.5,435.2 1494.1,446 1498.7,456.9 1503.1,467.8 1507.4,478.6 1511.5,489.5 1515.4,500.3 1519,511.2 1522.2,522.1 1525.2,532.9 1527.9,543.8 1529.9,554.7 1531.6,565.5 1533,576.4 1534,587.2 1535,598.1 L1563.2,599.1 1563.2,336.4Z" fill="#ff6e00"/>
<path d="M1462.5,337.4 1467.5,348.3 1472.5,359.1 1477.2,370 1481.7,380.8 1486,391.7 1490,402.6 1493.8,413.4 1497.8,424.3 1502.1,435.2 1506.4,446 1510.7,456.9 1514.8,467.8 1518.9,478.6 1522.6,489.5 1526.1,500.3 1529.3,511.2 1532.3,522.1 1535,532.9 1537.4,543.8 1539.4,554.7 1541,565.5 1542.3,576.4 1543.2,587.2 1544.1,598.1 L1563.2,599.1 1563.2,336.4Z" fill="#ff6000"/>
<path d="M1477.5,337.4 1482.3,348.3 1487,359.1 1491.4,370 1495.6,380.8 1499.6,391.7 1503.4,402.6 1507,413.4 1510.9,424.3 1514.8,435.2 1518.8,446 1522.8,456.9 1526.7,467.8 1530.6,478.6 1533.8,489.5 1537,500.3 1539.9,511.2 1542.6,522.1 1545.1,532.9 1547.4,543.8 1549.2,554.7 1550.8,565.5 1552,576.4 1552.9,587.2 1553.8,598.1 L1563.2,599.1 1563.2,336.4Z" fill="#ff5300"/>
<path d="M1492.9,337.4 1497.3,348.3 1501.7,359.1 1505.9,370 1509.8,380.8 1513.5,391.7 1517.1,402.6 1520.6,413.4 1524.3,424.3 1528,435.2 1531.7,446 1535.4,456.9 1539.1,467.8 1542.7,478.6 1545.6,489.5 1548.4,500.3 1551,511.2 1553.5,522.1 1555.9,532.9 1558,543.8 1559.8,554.7 1561.2,565.5 1561.2,576.4 1561.2,587.2 1561.2,598.1 L1563.2,599.1 1563.2,336.4Z" fill="#ff4500"/>
<path d="M1508.6,337.4 1512.8,348.3 1516.9,359.1 1520.8,370 1524.5,380.8 1528,391.7 1531.4,402.6 1534.8,413.4 1538.2,424.3 1541.7,435.2 1545.2,446 1548.6,456.9 1552.1,467.8 1555.5,478.6 1558.2,489.5 1560.7,500.3 1561.2,511.2 1561.2,522.1 1561.2,532.9 1561.2,543.8 1561.2,554.7 1561.2,565.5 1561.2,576.4 1561.2,587.2 1561.2,598.1 L1563.2,599.1 1563.2,336.4Z" fill="#ff3700"/>
<path d="M1524.9,337.4 1528.8,348.3 1532.6,359.1 1536.3,370 1539.8,380.8 1543,391.7 1546.3,402.6 1549.5,413.4 1552.8,424.3 1556.1,435.2 1559.4,446 1561.2,456.9 1561.2,467.8 1561.2,478.6 1561.2,489.5 1561.2,500.3 1561.2,511.2 1561.2,522.1 1561.2,532.9 1561.2,543.8 1561.2,554.7 1561.2,565.5 1561.2,576.4 1561.2,587.2 1561.2,598.1 L1563.2,599.1 1563.2,336.4Z" fill="#ff2900"/>
<path d="M1541.5,337.4 1545.1,348.3 1548.7,359.1 1552.1,370 1555.4,380.8 1558.5,391.7 1561.2,402.6 1561.2,413.4 1561.2,424.3 1561.2,435.2 1561.2,446 1561.2,456.9 1561.2,467.8 1561.2,478.6 1561.2,489.5 1561.2,500.3 1561.2,511.2 1561.2,522.1 1561.2,532.9 1561.2,543.8 1561.2,554.7 1561.2,565.5 1561.2,576.4 1561.2,587.2 1561.2,598.1 L1563.2,599.1 1563.2,336.4Z" fill="#ff1c00"/>
<path d="M997.2,337.4 999.5,339.6 1002.2,343.9 1004.8,348.3 1007.5,352.6 1010.3,357 1013.3,361.3 1016.4,365.6 1019.6,370 1022.9,374.3 1026.3,378.7 1029.8,383 1033.4,387.4 1037.2,391.7 1041,396.1 1045,400.4 1049,404.7 1053.2,409.1 1057.4,413.4 1061.7,417.8 1066.1,422.1 1070.6,426.5 1075.2,430.8 1079.9,435.2 1084.7,439.5 1089.5,443.9 1094.4,448.2 1099.4,452.5 1104.4,456.9 1109.6,461.2 1114.8,465.6 1120,469.9 1125.3,474.3 1130.7,478.6 1136.2,483 1141.7,487.3 1147.2,491.6 1152.8,496 1158.5,500.3 1164.2,504.7 1169.9,509 1175.7,513.4 1181.6,517.7 1187.4,522.1 1193.3,526.4 1199.3,530.8 1205.3,535.1 1211.3,539.4 1217.3,543.8 1223.3,548.1 1229.4,552.5 1235.5,556.8 1241.7,561.2 1248.2,565.5 1255.2,569.9 1262.5,574.2 1270.1,578.5 1278,582.9 1285.9,587.2 1293.8,591.6 1301.6,595.9 1305.3,598.1" fill="none" stroke="#303030" stroke-opacity="0.8" stroke-width="0.62"/>
<path d="M1047.4,337.4 1049.6,339.6 1051.7,343.9 1053.7,348.3 1055.9,352.6 1058.2,357 1060.6,361.3 1063.2,365.6 1065.9,370 1068.7,374.3 1071.7,378.7 1074.8,383 1078,387.4 1081.3,391.7 1084.8,396.1 1088.4,400.4 1092,404.7 1095.8,409.1 1099.7,413.4 1103.7,417.8 1107.8,422.1 1112,426.5 1116.3,430.8 1120.6,435.2 1125.1,439.5 1129.7,443.9 1134.3,448.2 1139,452.5 1143.8,456.9 1148.7,461.2 1153.6,465.6 1158.7,469.9 1163.8,474.3 1168.9,478.6 1174.1,483 1179.4,487.3 1184.7,491.6 1190.1,496 1195.6,500.3 1201,504.7 1206.6,509 1212.2,513.4 1217.8,517.7 1223.4,522.1 1229.1,526.4 1234.9,530.8 1240.6,535.1 1246.4,539.4 1252.2,543.8 1258,548.1 1263.9,552.5 1269.8,556.8 1276.1,561.2 1283.2,565.5 1290.8,569.9 1298.5,574.2 1306.1,578.5 1313.3,582.9 1320.5,587.2 1327.6,591.6 1334.8,595.9 1338.4,598.1" fill="none" stroke="#303030" stroke-opacity="0.8" stroke-width="0.62"/>
<path d="M1097.8,337.4 1099.6,339.6 1101.5,343.9 1103.3,348.3 1105.3,352.6 1107.4,357 1109.6,361.3 1112,365.6 1114.5,370 1117.1,374.3 1119.8,378.7 1122.7,383 1125.6,387.4 1128.7,391.7 1131.9,396.1 1135.2,400.4 1138.6,404.7 1142,409.1 1145.6,413.4 1149.3,417.8 1153.1,422.1 1156.9,426.5 1160.9,430.8 1164.9,435.2 1169,439.5 1173.2,443.9 1177.4,448.2 1181.7,452.5 1186.1,456.9 1190.5,461.2 1195,465.6 1199.6,469.9 1204.2,474.3 1208.8,478.6 1213.5,483 1218.3,487.3 1223,491.6 1227.9,496 1232.7,500.3 1237.6,504.7 1242.5,509 1247.4,513.4 1252.4,517.7 1257.4,522.1 1263,526.4 1269.1,530.8 1275.5,535.1 1282.2,539.4 1289,543.8 1295.7,548.1 1302.2,552.5 1308.4,556.8 1314.4,561.2 1319.5,564.8" fill="none" stroke="#303030" stroke-opacity="0.8" stroke-width="0.62"/>
<path d="M1341.4,581.4 1343.9,583.6 1348.5,588 1352.7,592.3 1357,596.7 1358.4,598.1" fill="none" stroke="#303030" stroke-opacity="0.8" stroke-width="0.62"/>
<path d="M1147.9,337.4 1149.7,339.6 1152.5,343.9 1155.3,348.3 1158.1,352.6 1161.1,357 1164.1,361.3 1167.1,365.6 1170.3,370 1173.4,374.3 1176.7,378.7 1179.9,383 1183.3,387.4 1186.7,391.7 1190.1,396.1 1193.6,400.4 1197.1,404.7 1200.7,409.1 1204.3,413.4 1208,417.8 1211.7,422.1 1215.4,426.5 1219.2,430.8 1223,435.2 1226.8,439.5 1230.7,443.9 1234.6,448.2 1238.6,452.5 1242.5,456.9 1246.5,461.2 1250.5,465.6 1254.7,469.9 1258.9,474.3 1263.3,478.6 1267.7,483 1272.3,487.3 1276.9,491.6 1281.6,496 1286.4,500.3 1291.1,504.7 1295.9,509 1300.7,513.4 1305.5,517.7 1310.2,522.1 1315,526.4 1319.9,530.8 1320.8,531.5" fill="none" stroke="#303030" stroke-opacity="0.8" stroke-width="0.62"/>
<path d="M1338.7,547.4 1341.1,549.6 1345.8,553.9 1350.4,558.3 1355.1,562.6 1359.6,567 1364,571.3 1368.3,575.7 1372.3,580 1376.3,584.3 1380,588.7 1383.7,593 1387.5,597.4 1388.1,598.1" fill="none" stroke="#303030" stroke-opacity="0.8" stroke-width="0.62"/>
<path d="M1197.6,337.4 1199.6,339.6 1203.8,343.9 1207.9,348.3 1212.1,352.6 1216.2,357 1220.2,361.3 1224.3,365.6 1228.3,370 1232.2,374.3 1236.1,378.7 1240,383 1243.8,387.4 1247.6,391.7 1251.3,396.1 1254.9,400.4 1258.5,404.7 1262.1,409.1 1265.7,413.4 1269.2,417.8 1272.7,422.1 1276.3,426.5 1279.8,430.8 1283.3,435.2 1286.9,439.5 1290.5,443.9 1294.1,448.2 1297.7,452.5 1301.4,456.9 1305.2,461.2 1309,465.6 1313,469.9 1317,474.3 1321.1,478.6 1325.1,483 1328.3,486.6" fill="none" stroke="#303030" stroke-opacity="0.8" stroke-width="0.62"/>
<path d="M1343.1,503.2 1345,505.4 1349.1,509.8 1353.3,514.1 1357.6,518.4 1361.9,522.8 1366.2,527.1 1370.3,531.5 1374.3,535.8 1377.9,540.2 1381.3,544.5 1384.4,548.9 1387.2,553.2 1390,557.5 1392.6,561.9 1395.1,566.2 1397.7,570.6 1400.3,574.9 1402.9,579.3 1405.4,583.6 1408,588 1410.5,592.3 1413,596.7 1413.9,598.1" fill="none" stroke="#303030" stroke-opacity="0.8" stroke-width="0.62"/>
<path d="M1275.1,337.4 1276.7,339.6 1279.8,343.9 1283,348.3 1286.2,352.6 1289.3,357 1292.6,361.3 1295.8,365.6 1299,370 1302.3,374.3 1305.6,378.7 1308.9,383 1312.3,387.4 1315.7,391.7 1319.1,396.1 1322.5,400.4 1325.8,404.7 1329.1,409.1" fill="none" stroke="#303030" stroke-opacity="0.8" stroke-width="0.62"/>
<path d="M1341.1,425.7 1342.7,427.9 1345.9,432.3 1349.1,436.6 1352.3,441 1355.5,445.3 1358.7,449.6 1361.9,454 1365.1,458.3 1368.3,462.7 1371.5,467 1374.7,471.4 1377.9,475.7 1381.1,480.1 1384.3,484.4 1387.5,488.8 1390.7,493.1 1393.8,497.4 1396.9,501.8 1400,506.1 1403.1,510.5 1406.1,514.8 1409.2,519.2 1412.3,523.5 1415.3,527.9 1418.2,532.2 1421,536.5 1423.6,540.9 1426,545.2 1428.4,549.6 1430.6,553.9 1432.8,558.3 1434.8,562.6 1436.7,567 1438.4,571.3 1439.8,575.7 1441.2,580 1442.3,584.3 1443.4,588.7 1444.3,593 1445.4,597.4 1445.6,598.1" fill="none" stroke="#303030" stroke-opacity="0.8" stroke-width="0.62"/>
<path d="M1354.3,337.4 1355.6,339.6 1358.4,343.9 1361.1,348.3 1363.8,352.6 1366.5,357 1369.2,361.3 1371.9,365.6 1374.5,370 1377.1,374.3 1379.7,378.7 1382.2,383 1384.8,387.4 1387.3,391.7 1389.8,396.1 1392.3,400.4 1394.8,404.7 1397.2,409.1" fill="none" stroke="#303030" stroke-opacity="0.8" stroke-width="0.62"/>
<path d="M1406.3,425.7 1407.5,427.9 1409.9,432.3 1412.3,436.6 1414.8,441 1417.3,445.3 1419.8,449.6 1422.2,454 1424.7,458.3 1427.2,462.7 1429.6,467 1432.1,471.4 1434.7,475.7 1437.2,480.1 1439.8,484.4 1442.3,488.8 1444.8,493.1 1447.2,497.4 1449.5,501.8 1451.8,506.1 1453.9,510.5 1456,514.8 1458.1,519.2 1460.2,523.5 1462.2,527.9 1464.1,532.2 1466,536.5 1467.7,540.9 1469.4,545.2 1470.9,549.6 1472.3,553.9 1473.6,558.3 1474.8,562.6 1476,567 1477.2,571.3 1478.2,575.7 1479.2,580 1480.1,584.3 1481,588.7 1481.7,593 1482.7,597.4 1482.9,598.1" fill="none" stroke="#303030" stroke-opacity="0.8" stroke-width="0.62"/>
<path d="M1430.5,337.4 1431.5,339.6 1433.8,343.9 1436.1,348.3 1438.4,352.6 1440.6,357 1442.8,361.3 1444.9,365.6 1447,370 1449.1,374.3 1451.1,378.7 1453.1,383 1455,387.4 1457,391.7 1458.8,396.1 1459.8,398.2" fill="none" stroke="#303030" stroke-opacity="0.8" stroke-width="0.62"/>
<path d="M1466.3,414.9 1467.2,417.1 1469,421.4 1470.9,425.7 1472.8,430.1 1474.8,434.4 1476.8,438.8 1478.8,443.1 1480.7,447.5 1482.7,451.8 1484.7,456.2 1486.6,460.5 1488.4,464.9 1490.3,469.2 1492.1,473.5 1494,477.9 1495.8,482.2 1497.7,486.6 1499.5,490.9 1501.2,495.3 1502.9,499.6 1504.6,504 1506.1,508.3 1507.6,512.6 1509,517 1510.4,521.3 1511.8,525.7 1513.1,530 1514.4,534.4 1515.6,538.7 1516.7,543.1 1517.7,547.4 1518.6,551.8 1519.4,556.1 1520.1,560.4 1520.8,564.8 1521.5,569.1 1522.1,573.5 1522.7,577.8 1523.2,582.2 1523.6,586.5 1524,590.9 1524.4,595.2 1524.7,598.1" fill="none" stroke="#303030" stroke-opacity="0.8" stroke-width="0.62"/>
<path d="M1507.6,337.4 1508.4,339.6 1510.1,343.9 1511.7,348.3 1513.4,352.6 1515.1,357 1516.7,361.3 1518.3,365.6 1519.8,370 1521.3,374.3 1522.1,376.5" fill="none" stroke="#303030" stroke-opacity="0.8" stroke-width="0.62"/>
<path d="M1527.5,393.2 1528.2,395.3 1529.5,399.7 1530.9,404 1532.2,408.4 1533.6,412.7 1535,417.1 1536.4,421.4 1537.7,425.7 1539.1,430.1 1540.5,434.4 1541.9,438.8 1543.3,443.1 1544.7,447.5 1546.1,451.8 1547.5,456.2 1548.9,460.5 1550.3,464.9 1551.7,469.2 1553.1,473.5 1554.5,477.9 1555.5,482.2 1556.6,486.6 1557.6,490.9 1558.6,495.3 1559.7,499.6 1560.7,504 1561.7,508.3 1562.6,512.6 1563.6,517 1564.5,521.3 1565.4,525.7 1566.3,530 1567.1,534.4 1568,538.7 1568.8,543.1 1569.5,547.4 1570.2,551.8 1570.9,556.1 1571.6,560.4 1572.2,564.8 1572.7,569.1 1573.2,573.5 1573.7,577.8 1574.1,582.2 1574.5,586.5 1574.8,590.9 1575,595.2 1575.5,598.1" fill="none" stroke="#303030" stroke-opacity="0.8" stroke-width="0.62"/>
<path d="M1593.3,337.4 1593.9,339.6 1595,343.9 1596.1,348.3 1597.3,352.6 1598.4,357 1599.5,361.3 1600.6,365.6 1601.8,370 1602.9,374.3 1604,378.7 1605.1,383 1606.3,387.4 1607.4,391.7 1608.5,396.1 1609.6,400.4 1610.8,404.7 1611.9,409.1 1613,413.4 1614.1,417.8 1615.3,422.1 1616.4,426.5 1617.5,430.8 1618.6,435.2 1619.8,439.5 1620.9,443.9 1622,448.2 1623.1,452.5 1624.3,456.9 1625.4,461.2 1626.5,465.6 1627.6,469.9 1628.8,474.3 1629.9,478.6 1631,483 1632.1,487.3 1633.2,491.6 1634.4,496 1635.5,500.3 1636.6,504.7 1637.7,509 1638.9,513.4 1640,517.7 1641.1,522.1 1642.2,526.4 1643.4,530.8 1644.5,535.1 1645.6,539.4 1646.7,543.8 1647.9,548.1 1649,552.5 1650.1,556.8 1651.2,561.2 1652.4,565.5 1653.5,569.9 1654.6,574.2 1655.7,578.5 1656.9,582.9 1658,587.2 1659.1,591.6 1660.2,595.9 1660.8,598.1" fill="none" stroke="#303030" stroke-opacity="0.8" stroke-width="0.62"/>
<text transform="translate(1505.66 391.3) rotate(0.03)" font-family="Liberation Sans, sans-serif" font-size="18.9" fill="#404040" stroke="#404040" stroke-width="0.3">2.22</text>
<text transform="translate(1444.66 413.1) rotate(0.03)" font-family="Liberation Sans, sans-serif" font-size="18.9" fill="#404040" stroke="#404040" stroke-width="0.3">2.07</text>
<text transform="translate(1383.99 424) rotate(0.03)" font-family="Liberation Sans, sans-serif" font-size="18.9" fill="#404040" stroke="#404040" stroke-width="0.3">1.92</text>
<text transform="translate(1317.39 424) rotate(0.03)" font-family="Liberation Sans, sans-serif" font-size="18.9" fill="#404040" stroke="#404040" stroke-width="0.3">1.77</text>
<text transform="translate(1318.39 501.6) rotate(0.03)" font-family="Liberation Sans, sans-serif" font-size="18.9" fill="#404040" stroke="#404040" stroke-width="0.3">1.63</text>
<text transform="translate(1312.29 546) rotate(0.03)" font-family="Liberation Sans, sans-serif" font-size="18.9" fill="#404040" stroke="#404040" stroke-width="0.3">1.48</text>
<text transform="translate(1312.29 579.8) rotate(0.03)" font-family="Liberation Sans, sans-serif" font-size="18.9" fill="#404040" stroke="#404040" stroke-width="0.3">1.33</text>
</g>
<rect x="1313.1" y="345.5" width="39" height="32.9" fill="#fff"/>
<text transform="translate(1332.6 370.05) scale(0.975 1) rotate(0.03)" text-anchor="middle" font-family="Liberation Sans, sans-serif" font-size="22.8" stroke="#000" stroke-width="0.3">Mn</text>
<polygon points="1392.8,575.6 1395.0,581.5 1401.5,581.6 1396.3,585.4 1398.2,591.4 1392.8,587.9 1387.5,591.4 1389.3,585.4 1384.2,581.6 1390.6,581.5" fill="none" stroke="#000" stroke-width="1.35" stroke-linejoin="round"/>
<polygon points="1426.6,530.9 1428.8,536.8 1435.3,537.0 1430.1,540.8 1432.0,546.8 1426.6,543.3 1421.3,546.8 1423.1,540.8 1417.9,537.0 1424.4,536.8" fill="none" stroke="#000" stroke-width="1.35" stroke-linejoin="round"/>
<polygon points="1526.9,397.0 1529.0,402.9 1535.5,403.1 1530.4,406.9 1532.2,412.9 1526.9,409.3 1521.5,412.9 1523.3,406.9 1518.2,403.1 1524.7,402.9" fill="none" stroke="#000" stroke-width="1.35" stroke-linejoin="round"/>
<path d="M1368.1,596.1v-4.7M1368.1,339.4v4.7M1430.4,596.1v-4.7M1430.4,339.4v4.7M1492.7,596.1v-4.7M1492.7,339.4v4.7M1306.1,584.8h4.7M1555.2,584.8h-4.7M1306.1,540.1h4.7M1555.2,540.1h-4.7M1306.1,495.5h4.7M1555.2,495.5h-4.7M1306.1,450.9h4.7M1555.2,450.9h-4.7M1306.1,406.2h4.7M1555.2,406.2h-4.7M1306.1,361.6h4.7M1555.2,361.6h-4.7M1337,596.1v-2.4M1337,339.4v2.4M1399.3,596.1v-2.4M1399.3,339.4v2.4M1461.5,596.1v-2.4M1461.5,339.4v2.4M1523.8,596.1v-2.4M1523.8,339.4v2.4M1306.1,562.5h2.4M1555.2,562.5h-2.4M1306.1,517.8h2.4M1555.2,517.8h-2.4M1306.1,473.2h2.4M1555.2,473.2h-2.4M1306.1,428.5h2.4M1555.2,428.5h-2.4M1306.1,383.9h2.4M1555.2,383.9h-2.4" stroke="#000" stroke-width="2.7" stroke-linecap="round" fill="none"/>
<rect x="1306.1" y="339.4" width="249.1" height="256.7" fill="none" stroke="#000" stroke-width="2.7"/>
<text transform="translate(1306.15 617.7) scale(0.96 1) rotate(0.03)" text-anchor="middle" font-family="Liberation Sans, sans-serif" font-size="22.8" stroke="#000" stroke-width="0.3">2.62</text>
<text transform="translate(1368.42 617.7) scale(0.96 1) rotate(0.03)" text-anchor="middle" font-family="Liberation Sans, sans-serif" font-size="22.8" stroke="#000" stroke-width="0.3">2.64</text>
<text transform="translate(1430.7 617.7) scale(0.96 1) rotate(0.03)" text-anchor="middle" font-family="Liberation Sans, sans-serif" font-size="22.8" stroke="#000" stroke-width="0.3">2.66</text>
<text transform="translate(1492.97 617.7) scale(0.96 1) rotate(0.03)" text-anchor="middle" font-family="Liberation Sans, sans-serif" font-size="22.8" stroke="#000" stroke-width="0.3">2.68</text>
<text transform="translate(1555.25 617.7) scale(0.96 1) rotate(0.03)" text-anchor="middle" font-family="Liberation Sans, sans-serif" font-size="22.8" stroke="#000" stroke-width="0.3">2.70</text>
<text transform="translate(1379.32 661.1) scale(1.146 1) rotate(0.03)" font-family="Liberation Serif, serif" font-style="italic" font-size="27">w</text>
<text transform="translate(1408.06 661.1) scale(0.988 1) rotate(0.03)" font-family="Liberation Sans, sans-serif" font-size="30.25" stroke="#000" stroke-width="0.3">(Bohr)</text>
<clipPath id="cNi1"><rect x="1600.5" y="339.4" width="249.1" height="256.7"/></clipPath>
<g clip-path="url(#cNi1)">
<rect x="1599.5" y="338.4" width="251.1" height="258.7" fill="#0000ff"/>
<path d="M1598.5,595.4 1609,595.6 1619.6,595.8 1630.1,596 1640.7,596.2 1651.2,596.3 1661.8,596.5 1672.3,596.7 1682.9,596.9 1693.4,597 1704,597.2 1714.5,597.3 1725,597.4 1735.6,597.6 1746.1,597.7 1756.7,597.9 1767.2,598 1777.8,598.2 1788.3,598.4 1798.9,598.5 1809.4,598.7 1820,598.9 1830.5,599.1 1841.1,599.3 1851.6,599.4 L1852.6,331.4 1597.5,331.4Z" fill="#000eff"/>
<path d="M1598.5,590.6 1609,590.8 1619.6,591.1 1630.1,591.3 1640.7,591.5 1651.2,591.7 1661.8,591.9 1672.3,592.1 1682.9,592.2 1693.4,592.4 1704,592.5 1714.5,592.7 1725,592.8 1735.6,592.9 1746.1,593.1 1756.7,593.2 1767.2,593.4 1777.8,593.5 1788.3,593.7 1798.9,593.9 1809.4,594.1 1820,594.3 1830.5,594.5 1841.1,594.7 1851.6,594.9 L1852.6,331.4 1597.5,331.4Z" fill="#001cff"/>
<path d="M1598.5,584.8 1609,585.1 1619.6,585.3 1630.1,585.6 1640.7,585.8 1651.2,586 1661.8,586.3 1672.3,586.5 1682.9,586.6 1693.4,586.8 1704,587 1714.5,587.1 1725,587.3 1735.6,587.4 1746.1,587.5 1756.7,587.7 1767.2,587.9 1777.8,588 1788.3,588.2 1798.9,588.4 1809.4,588.7 1820,588.9 1830.5,589.1 1841.1,589.4 1851.6,589.6 L1852.6,331.4 1597.5,331.4Z" fill="#0029ff"/>
<path d="M1598.5,578.2 1609,578.5 1619.6,578.8 1630.1,579.1 1640.7,579.4 1651.2,579.6 1661.8,579.9 1672.3,580.1 1682.9,580.3 1693.4,580.5 1704,580.7 1714.5,580.9 1725,581 1735.6,581.1 1746.1,581.3 1756.7,581.5 1767.2,581.7 1777.8,581.9 1788.3,582.1 1798.9,582.3 1809.4,582.6 1820,582.8 1830.5,583.1 1841.1,583.3 1851.6,583.6 L1852.6,331.4 1597.5,331.4Z" fill="#0037ff"/>
<path d="M1598.5,571 1609,571.3 1619.6,571.7 1630.1,572 1640.7,572.3 1651.2,572.6 1661.8,572.9 1672.3,573.1 1682.9,573.4 1693.4,573.6 1704,573.8 1714.5,574 1725,574.2 1735.6,574.3 1746.1,574.5 1756.7,574.7 1767.2,574.9 1777.8,575.2 1788.3,575.4 1798.9,575.7 1809.4,575.9 1820,576.2 1830.5,576.5 1841.1,576.8 1851.6,577.1 L1852.6,331.4 1597.5,331.4Z" fill="#0045ff"/>
<path d="M1598.5,562.9 1609,563.3 1619.6,563.7 1630.1,564 1640.7,564.4 1651.2,564.7 1661.8,565 1672.3,565.3 1682.9,565.6 1693.4,565.9 1704,566.1 1714.5,566.4 1725,566.6 1735.6,566.8 1746.1,567 1756.7,567.2 1767.2,567.5 1777.8,567.8 1788.3,568.1 1798.9,568.4 1809.4,568.7 1820,569 1830.5,569.3 1841.1,569.7 1851.6,570 L1852.6,331.4 1597.5,331.4Z" fill="#0053ff"/>
<path d="M1598.5,553.3 1609,553.8 1619.6,554.2 1630.1,554.6 1640.7,555 1651.2,555.4 1661.8,555.8 1672.3,556.1 1682.9,556.5 1693.4,556.8 1704,557.1 1714.5,557.5 1725,557.7 1735.6,558 1746.1,558.3 1756.7,558.6 1767.2,558.9 1777.8,559.3 1788.3,559.6 1798.9,560 1809.4,560.4 1820,560.7 1830.5,561.1 1841.1,561.5 1851.6,561.9 L1852.6,331.4 1597.5,331.4Z" fill="#0060ff"/>
<path d="M1598.5,542.3 1609,542.8 1619.6,543.3 1630.1,543.8 1640.7,544.2 1651.2,544.7 1661.8,545.1 1672.3,545.6 1682.9,546 1693.4,546.4 1704,546.8 1714.5,547.2 1725,547.6 1735.6,548 1746.1,548.4 1756.7,548.8 1767.2,549.2 1777.8,549.6 1788.3,550 1798.9,550.5 1809.4,550.9 1820,551.3 1830.5,551.8 1841.1,552.2 1851.6,552.7 L1852.6,331.4 1597.5,331.4Z" fill="#006eff"/>
<path d="M1598.5,530 1609,530.5 1619.6,531.1 1630.1,531.6 1640.7,532.1 1651.2,532.7 1661.8,533.2 1672.3,533.7 1682.9,534.2 1693.4,534.7 1704,535.3 1714.5,535.8 1725,536.2 1735.6,536.7 1746.1,537.2 1756.7,537.7 1767.2,538.2 1777.8,538.7 1788.3,539.2 1798.9,539.7 1809.4,540.2 1820,540.7 1830.5,541.2 1841.1,541.7 1851.6,542.3 L1852.6,331.4 1597.5,331.4Z" fill="#007cff"/>
<path d="M1598.5,516.2 1609,516.9 1619.6,517.5 1630.1,518.1 1640.7,518.7 1651.2,519.3 1661.8,520 1672.3,520.6 1682.9,521.2 1693.4,521.8 1704,522.4 1714.5,523 1725,523.6 1735.6,524.1 1746.1,524.7 1756.7,525.3 1767.2,525.9 1777.8,526.5 1788.3,527.1 1798.9,527.6 1809.4,528.2 1820,528.8 1830.5,529.4 1841.1,529.9 1851.6,530.5 L1852.6,331.4 1597.5,331.4Z" fill="#008aff"/>
<path d="M1598.5,500.4 1609,501.1 1619.6,501.9 1630.1,502.6 1640.7,503.3 1651.2,504 1661.8,504.7 1672.3,505.4 1682.9,506.1 1693.4,506.8 1704,507.5 1714.5,508.1 1725,508.8 1735.6,509.5 1746.1,510.1 1756.7,510.8 1767.2,511.4 1777.8,512.1 1788.3,512.7 1798.9,513.4 1809.4,514 1820,514.7 1830.5,515.3 1841.1,515.9 1851.6,516.6 L1852.6,331.4 1597.5,331.4Z" fill="#0098ff"/>
<path d="M1598.5,481.4 1609,482.3 1619.6,483.2 1630.1,484 1640.7,484.9 1651.2,485.7 1661.8,486.5 1672.3,487.3 1682.9,488.1 1693.4,488.9 1704,489.7 1714.5,490.4 1725,491.1 1735.6,491.8 1746.1,492.5 1756.7,493.2 1767.2,494 1777.8,494.7 1788.3,495.4 1798.9,496.1 1809.4,496.8 1820,497.5 1830.5,498.2 1841.1,498.9 1851.6,499.6 L1852.6,331.4 1597.5,331.4Z" fill="#00a5ff"/>
<path d="M1598.5,459.9 1609,461 1619.6,462 1630.1,463 1640.7,464 1651.2,465 1661.8,465.9 1672.3,466.8 1682.9,467.7 1693.4,468.6 1704,469.4 1714.5,470.2 1725,471 1735.6,471.7 1746.1,472.5 1756.7,473.2 1767.2,474 1777.8,474.8 1788.3,475.5 1798.9,476.3 1809.4,477.1 1820,477.8 1830.5,478.6 1841.1,479.4 1851.6,480.2 L1852.6,331.4 1597.5,331.4Z" fill="#00b3ff"/>
<path d="M1598.5,436.6 1609,437.8 1619.6,439 1630.1,440.2 1640.7,441.3 1651.2,442.4 1661.8,443.4 1672.3,444.4 1682.9,445.4 1693.4,446.4 1704,447.3 1714.5,448.1 1725,448.9 1735.6,449.7 1746.1,450.5 1756.7,451.3 1767.2,452.1 1777.8,452.9 1788.3,453.8 1798.9,454.6 1809.4,455.4 1820,456.3 1830.5,457.1 1841.1,458 1851.6,458.8 L1852.6,331.4 1597.5,331.4Z" fill="#00c1ff"/>
<path d="M1598.5,412 1609,413.3 1619.6,414.7 1630.1,416 1640.7,417.2 1651.2,418.4 1661.8,419.6 1672.3,420.7 1682.9,421.7 1693.4,422.7 1704,423.7 1714.5,424.6 1725,425.5 1735.6,426.3 1746.1,427.2 1756.7,428 1767.2,428.9 1777.8,429.8 1788.3,430.7 1798.9,431.6 1809.4,432.5 1820,433.4 1830.5,434.3 1841.1,435.3 1851.6,436.2 L1852.6,331.4 1597.5,331.4Z" fill="#00cfff"/>
<path d="M1598.5,385.6 1609,387 1619.6,388.4 1630.1,389.7 1640.7,391 1651.2,392.3 1661.8,393.5 1672.3,394.7 1682.9,395.8 1693.4,396.9 1704,398 1714.5,398.9 1725,399.8 1735.6,400.7 1746.1,401.7 1756.7,402.6 1767.2,403.6 1777.8,404.5 1788.3,405.5 1798.9,406.4 1809.4,407.4 1820,408.4 1830.5,409.4 1841.1,410.4 1851.6,411.4 L1852.6,331.4 1597.5,331.4Z" fill="#00ddff"/>
<path d="M1598.5,356.7 1609,358.1 1619.6,359.5 1630.1,360.9 1640.7,362.2 1651.2,363.5 1661.8,364.8 1672.3,366 1682.9,367.2 1693.4,368.3 1704,369.5 1714.5,370.5 1725,371.5 1735.6,372.5 1746.1,373.5 1756.7,374.5 1767.2,375.5 1777.8,376.6 1788.3,377.6 1798.9,378.6 1809.4,379.7 1820,380.7 1830.5,381.8 1841.1,382.9 1851.6,383.9 L1852.6,331.4 1597.5,331.4Z" fill="#00eaff"/>
<path d="M1598.5,333.4 1609,333.4 1619.6,333.4 1630.1,333.4 1640.7,333.4 1651.2,333.4 1661.8,333.7 1672.3,334.9 1682.9,336.1 1693.4,337.3 1704,338.5 1714.5,339.6 1725,340.7 1735.6,341.7 1746.1,342.8 1756.7,343.9 1767.2,345 1777.8,346.1 1788.3,347.3 1798.9,348.4 1809.4,349.5 1820,350.6 1830.5,351.7 1841.1,352.9 1851.6,354 L1852.6,331.4 1597.5,331.4Z" fill="#00f8ff"/>
<path d="M1598.5,599 1600.6,599 1604.8,599.1 1609,599.1 1613.3,599.2 1617.5,599.3 1621.7,599.3 1625.9,599.4 1630.1,599.5 1634.4,599.5 1638.6,599.6 1642.8,599.7 1647,599.8 1651.2,599.8 1655.4,599.9 1659.7,600 1663.9,600 1668.1,600.1 1672.3,600.2 1676.5,600.2 1680.8,600.3 1685,600.4 1689.2,600.4 1693.4,600.5 1697.6,600.6 1701.8,600.6 1706.1,600.7 1710.3,600.8 1714.5,600.8 1718.7,600.9 1722.9,601 1727.2,601 1731.4,601.1 1735.6,601.2 1739.8,601.2 1744,601.3 1748.3,601.4 1752.5,601.4 1756.7,601.5 1760.9,601.6 1765.1,601.6 1769.3,601.7 1773.6,601.8 1777.8,601.8 1782,601.9 1786.2,602 1790.4,602 1794.7,602.1 1798.9,602.2 1803.1,602.2 1807.3,602.3 1811.5,602.4 1815.7,602.5 1820,602.5 1824.2,602.6 1828.4,602.7 1832.6,602.7 1836.8,602.8 1841.1,602.9 1845.3,602.9 1849.5,603 1851.6,603" fill="none" stroke="#303030" stroke-opacity="0.8" stroke-width="0.62"/>
<path d="M1598.5,570.5 1600.6,570.6 1604.8,570.7 1609,570.8 1613.3,571 1617.5,571.1 1621.7,571.2 1625.9,571.4 1630.1,571.5 1634.4,571.6 1638.6,571.8 1642.8,571.9 1647,572 1651.2,572.1 1655.4,572.2 1659.7,572.3 1663.9,572.4 1668.1,572.5 1672.3,572.7 1676.5,572.8 1680.8,572.8 1685,572.9 1689.2,573 1693.4,573.1 1697.6,573.2 1701.8,573.3 1706.1,573.4" fill="none" stroke="#303030" stroke-opacity="0.8" stroke-width="0.62"/>
<path d="M1743.3,574 1745.4,574 1749.7,574.1 1753.9,574.2 1758.1,574.3 1762.3,574.4 1766.5,574.4 1770.7,574.5 1775,574.6 1779.2,574.7 1783.4,574.8 1787.6,574.9 1791.8,575 1796.1,575.1 1800.3,575.2 1804.5,575.3 1808.7,575.5 1812.9,575.6 1817.2,575.7 1821.4,575.8 1825.6,575.9 1829.8,576 1834,576.2 1838.2,576.3 1842.5,576.4 1846.7,576.6 1850.9,576.7 1851.6,576.7" fill="none" stroke="#303030" stroke-opacity="0.8" stroke-width="0.62"/>
<path d="M1598.5,514.3 1600.6,514.4 1604.8,514.7 1609,514.9 1613.3,515.2 1617.5,515.4 1621.7,515.7 1625.9,515.9 1630.1,516.2 1634.4,516.4 1638.6,516.7 1642.8,516.9 1647,517.2 1651.2,517.4 1655.4,517.7 1659.7,517.9 1663.9,518.2 1668.1,518.4 1672.3,518.7 1676.5,518.9 1680.8,519.2 1685,519.4 1689.2,519.7 1693.4,519.9 1697.6,520.2 1701.8,520.4 1706.1,520.6 1710.3,520.9 1714.5,521.1 1718.7,521.4 1722.9,521.6 1727.2,521.9 1731.4,522.1 1735.6,522.3 1737,522.4" fill="none" stroke="#303030" stroke-opacity="0.8" stroke-width="0.62"/>
<path d="M1775,524.6 1777.1,524.7 1781.3,524.9 1785.5,525.1 1789.7,525.4 1793.9,525.6 1798.2,525.9 1802.4,526.1 1806.6,526.3 1810.8,526.6 1815,526.8 1819.3,527 1823.5,527.3 1827.7,527.5 1831.9,527.7 1836.1,527.9 1840.4,528.2 1844.6,528.4 1848.8,528.6 1851.6,528.8" fill="none" stroke="#303030" stroke-opacity="0.8" stroke-width="0.62"/>
<path d="M1598.5,415.4 1600.6,415.6 1604.8,416.2 1609,416.7 1613.3,417.3 1617.5,417.8 1621.7,418.3 1625.9,418.8 1630.1,419.3 1634.4,419.8 1638.6,420.3 1642.8,420.8 1647,421.3 1651.2,421.7 1655.4,422.2 1659.7,422.6 1663.9,423.1 1668.1,423.5 1672.3,424 1676.5,424.4 1680.8,424.8 1685,425.2 1689.2,425.6 1693.4,426 1697.6,426.4 1701.8,426.8" fill="none" stroke="#303030" stroke-opacity="0.8" stroke-width="0.62"/>
<path d="M1739.8,429.9 1741.9,430 1746.1,430.4 1750.4,430.7 1754.6,431.1 1758.8,431.4 1763,431.8 1767.2,432.1 1771.5,432.5 1775.7,432.8 1779.9,433.2 1784.1,433.5 1788.3,433.9 1792.5,434.2 1796.8,434.6 1801,435 1805.2,435.3 1809.4,435.7 1813.6,436 1817.9,436.4 1822.1,436.8 1826.3,437.1 1830.5,437.5 1834.7,437.8 1838.9,438.2 1843.2,438.6 1847.4,438.9 1851.6,439.3" fill="none" stroke="#303030" stroke-opacity="0.8" stroke-width="0.62"/>
<path d="M1598.5,259.8 1600.6,260.1 1604.8,260.6 1609,261.1 1613.3,261.6 1617.5,262.1 1621.7,262.6 1625.9,263.1 1630.1,263.6 1634.4,264.1 1638.6,264.6 1642.8,265.1 1647,265.6 1651.2,266.1 1655.4,266.7 1659.7,267.2 1663.9,267.7 1668.1,268.2 1672.3,268.7 1676.5,269.2 1680.8,269.7 1685,270.2 1689.2,270.7 1693.4,271.2 1697.6,271.7 1701.8,272.2 1706.1,272.7 1710.3,273.2 1714.5,273.7 1718.7,274.2 1722.9,274.8 1727.2,275.3 1731.4,275.8 1735.6,276.3 1739.8,276.8 1744,277.3 1748.3,277.8 1752.5,278.3 1756.7,278.8 1760.9,279.3 1765.1,279.8 1769.3,280.3 1773.6,280.8 1777.8,281.3 1782,281.8 1786.2,282.3 1790.4,282.9 1794.7,283.4 1798.9,283.9 1803.1,284.4 1807.3,284.9 1811.5,285.4 1815.7,285.9 1820,286.4 1824.2,286.9 1828.4,287.4 1832.6,287.9 1836.8,288.4 1841.1,288.9 1845.3,289.4 1849.5,289.9 1851.6,290.2" fill="none" stroke="#303030" stroke-opacity="0.8" stroke-width="0.62"/>
<text transform="translate(1703.54 434.8) rotate(0.03)" font-family="Liberation Sans, sans-serif" font-size="18.9" fill="#404040" stroke="#404040" stroke-width="0.3">0.59</text>
<text transform="translate(1738.84 529.8) rotate(0.03)" font-family="Liberation Sans, sans-serif" font-size="18.9" fill="#404040" stroke="#404040" stroke-width="0.3">0.45</text>
<text transform="translate(1707.34 580.5) rotate(0.03)" font-family="Liberation Sans, sans-serif" font-size="18.9" fill="#404040" stroke="#404040" stroke-width="0.3">0.30</text>
</g>
<rect x="1608.7" y="346.1" width="28.3" height="32.7" fill="#fff"/>
<text transform="translate(1622.85 370.55) scale(0.975 1) rotate(0.03)" text-anchor="middle" font-family="Liberation Sans, sans-serif" font-size="22.8" stroke="#000" stroke-width="0.3">Ni</text>
<polygon points="1687.2,575.6 1689.4,581.5 1695.9,581.6 1690.7,585.4 1692.6,591.4 1687.2,587.9 1681.9,591.4 1683.7,585.4 1678.6,581.6 1685.0,581.5" fill="none" stroke="#000" stroke-width="1.35" stroke-linejoin="round"/>
<polygon points="1721.0,530.9 1723.2,536.8 1729.7,537.0 1724.5,540.8 1726.4,546.8 1721.0,543.3 1715.7,546.8 1717.5,540.8 1712.3,537.0 1718.8,536.8" fill="none" stroke="#000" stroke-width="1.35" stroke-linejoin="round"/>
<polygon points="1821.3,397.0 1823.4,402.9 1829.9,403.1 1824.8,406.9 1826.6,412.9 1821.3,409.3 1815.9,412.9 1817.7,406.9 1812.6,403.1 1819.1,402.9" fill="none" stroke="#000" stroke-width="1.35" stroke-linejoin="round"/>
<path d="M1662.5,596.1v-4.7M1662.5,339.4v4.7M1724.8,596.1v-4.7M1724.8,339.4v4.7M1787.1,596.1v-4.7M1787.1,339.4v4.7M1600.5,584.8h4.7M1849.6,584.8h-4.7M1600.5,540.1h4.7M1849.6,540.1h-4.7M1600.5,495.5h4.7M1849.6,495.5h-4.7M1600.5,450.9h4.7M1849.6,450.9h-4.7M1600.5,406.2h4.7M1849.6,406.2h-4.7M1600.5,361.6h4.7M1849.6,361.6h-4.7M1631.4,596.1v-2.4M1631.4,339.4v2.4M1693.7,596.1v-2.4M1693.7,339.4v2.4M1755.9,596.1v-2.4M1755.9,339.4v2.4M1818.2,596.1v-2.4M1818.2,339.4v2.4M1600.5,562.5h2.4M1849.6,562.5h-2.4M1600.5,517.8h2.4M1849.6,517.8h-2.4M1600.5,473.2h2.4M1849.6,473.2h-2.4M1600.5,428.5h2.4M1849.6,428.5h-2.4M1600.5,383.9h2.4M1849.6,383.9h-2.4" stroke="#000" stroke-width="2.7" stroke-linecap="round" fill="none"/>
<rect x="1600.5" y="339.4" width="249.1" height="256.7" fill="none" stroke="#000" stroke-width="2.7"/>
<text transform="translate(1600.55 617.7) scale(0.96 1) rotate(0.03)" text-anchor="middle" font-family="Liberation Sans, sans-serif" font-size="22.8" stroke="#000" stroke-width="0.3">2.62</text>
<text transform="translate(1662.83 617.7) scale(0.96 1) rotate(0.03)" text-anchor="middle" font-family="Liberation Sans, sans-serif" font-size="22.8" stroke="#000" stroke-width="0.3">2.64</text>
<text transform="translate(1725.1 617.7) scale(0.96 1) rotate(0.03)" text-anchor="middle" font-family="Liberation Sans, sans-serif" font-size="22.8" stroke="#000" stroke-width="0.3">2.66</text>
<text transform="translate(1787.37 617.7) scale(0.96 1) rotate(0.03)" text-anchor="middle" font-family="Liberation Sans, sans-serif" font-size="22.8" stroke="#000" stroke-width="0.3">2.68</text>
<text transform="translate(1849.65 617.7) scale(0.96 1) rotate(0.03)" text-anchor="middle" font-family="Liberation Sans, sans-serif" font-size="22.8" stroke="#000" stroke-width="0.3">2.70</text>
<text transform="translate(1669.87 661.1) scale(1.146 1) rotate(0.03)" font-family="Liberation Serif, serif" font-style="italic" font-size="27">w</text>
<text transform="translate(1698.61 661.1) scale(0.988 1) rotate(0.03)" font-family="Liberation Sans, sans-serif" font-size="30.25" stroke="#000" stroke-width="0.3">(Bohr)</text>
<text transform="translate(86.85 324.5) scale(0.96 1) rotate(0.03)" text-anchor="middle" font-family="Liberation Sans, sans-serif" font-size="22.8" stroke="#000" stroke-width="0.3">2.62</text>
<text transform="translate(149.15 324.5) scale(0.96 1) rotate(0.03)" text-anchor="middle" font-family="Liberation Sans, sans-serif" font-size="22.8" stroke="#000" stroke-width="0.3">2.64</text>
<text transform="translate(211.45 324.5) scale(0.96 1) rotate(0.03)" text-anchor="middle" font-family="Liberation Sans, sans-serif" font-size="22.8" stroke="#000" stroke-width="0.3">2.66</text>
<text transform="translate(273.75 324.5) scale(0.96 1) rotate(0.03)" text-anchor="middle" font-family="Liberation Sans, sans-serif" font-size="22.8" stroke="#000" stroke-width="0.3">2.68</text>
<text transform="translate(336.05 324.5) scale(0.96 1) rotate(0.03)" text-anchor="middle" font-family="Liberation Sans, sans-serif" font-size="22.8" stroke="#000" stroke-width="0.3">2.70</text>
<text transform="translate(87.2 617.9) scale(0.96 1) rotate(0.03)" text-anchor="middle" font-family="Liberation Sans, sans-serif" font-size="22.8" stroke="#000" stroke-width="0.3">2.62</text>
<text transform="translate(149.5 617.9) scale(0.96 1) rotate(0.03)" text-anchor="middle" font-family="Liberation Sans, sans-serif" font-size="22.8" stroke="#000" stroke-width="0.3">2.64</text>
<text transform="translate(211.8 617.9) scale(0.96 1) rotate(0.03)" text-anchor="middle" font-family="Liberation Sans, sans-serif" font-size="22.8" stroke="#000" stroke-width="0.3">2.66</text>
<text transform="translate(274.1 617.9) scale(0.96 1) rotate(0.03)" text-anchor="middle" font-family="Liberation Sans, sans-serif" font-size="22.8" stroke="#000" stroke-width="0.3">2.68</text>
<text transform="translate(336.4 617.9) scale(0.96 1) rotate(0.03)" text-anchor="middle" font-family="Liberation Sans, sans-serif" font-size="22.8" stroke="#000" stroke-width="0.3">2.70</text>
<text transform="translate(156.07 661.1) scale(1.146 1) rotate(0.03)" font-family="Liberation Serif, serif" font-style="italic" font-size="27">w</text>
<text transform="translate(184.81 661.1) scale(0.988 1) rotate(0.03)" font-family="Liberation Sans, sans-serif" font-size="30.25" stroke="#000" stroke-width="0.3">(Bohr)</text>
<text transform="translate(215.3 36.8) scale(0.977 1) rotate(0.03)" text-anchor="middle" font-family="Liberation Sans, sans-serif" font-size="26.3" fill="#404040" stroke="#404040" stroke-width="0.2">FS</text>
<text transform="translate(1129.6 34.7) scale(0.977 1) rotate(0.03)" text-anchor="middle" font-family="Liberation Sans, sans-serif" font-size="26.3" fill="#404040" stroke="#404040" stroke-width="0.2">LSF</text>
<text transform="translate(379.9 21.2) scale(0.966 1) rotate(0.03)" text-anchor="middle" font-family="Liberation Sans, sans-serif" font-size="30.6" stroke="#000" stroke-width="0.3">FCC</text>
<text transform="translate(379.6 669.4) scale(0.966 1) rotate(0.03)" text-anchor="middle" font-family="Liberation Sans, sans-serif" font-size="30.6" stroke="#000" stroke-width="0.3">HCP</text>
<path d="M336.1,37.7L355.5,32.9L352.5,37.1L406,37.1L403,32.9L422.4,37.7L403,42.6L406,38.3L352.5,38.3L355.5,42.6Z" fill="#000" stroke="#000" stroke-width="1.8" stroke-linejoin="round"/>
<path d="M332.9,629.1L352.4,624.2L349.4,628.5L408.8,628.5L405.8,624.2L425.2,629.1L405.8,634L408.8,629.7L349.4,629.7L352.4,634Z" fill="#000" stroke="#000" stroke-width="1.8" stroke-linejoin="round"/>
<rect x="1877.0" y="80.1" width="51.5" height="521.9" fill="#808080"/>
<rect x="1877.0" y="86.6" width="51.5" height="7.38" fill="#0000ff"/>
<rect x="1877.0" y="93.38" width="51.5" height="7.38" fill="#000eff"/>
<rect x="1877.0" y="100.15" width="51.5" height="7.38" fill="#001cff"/>
<rect x="1877.0" y="106.93" width="51.5" height="7.38" fill="#0029ff"/>
<rect x="1877.0" y="113.7" width="51.5" height="7.38" fill="#0037ff"/>
<rect x="1877.0" y="120.48" width="51.5" height="7.38" fill="#0045ff"/>
<rect x="1877.0" y="127.25" width="51.5" height="7.38" fill="#0053ff"/>
<rect x="1877.0" y="134.03" width="51.5" height="7.38" fill="#0060ff"/>
<rect x="1877.0" y="140.8" width="51.5" height="7.38" fill="#006eff"/>
<rect x="1877.0" y="147.58" width="51.5" height="7.38" fill="#007cff"/>
<rect x="1877.0" y="154.35" width="51.5" height="7.38" fill="#008aff"/>
<rect x="1877.0" y="161.13" width="51.5" height="7.38" fill="#0098ff"/>
<rect x="1877.0" y="167.9" width="51.5" height="7.38" fill="#00a5ff"/>
<rect x="1877.0" y="174.68" width="51.5" height="7.38" fill="#00b3ff"/>
<rect x="1877.0" y="181.45" width="51.5" height="7.38" fill="#00c1ff"/>
<rect x="1877.0" y="188.23" width="51.5" height="7.38" fill="#00cfff"/>
<rect x="1877.0" y="195.01" width="51.5" height="7.38" fill="#00ddff"/>
<rect x="1877.0" y="201.78" width="51.5" height="7.38" fill="#00eaff"/>
<rect x="1877.0" y="208.56" width="51.5" height="7.38" fill="#00f8ff"/>
<rect x="1877.0" y="215.33" width="51.5" height="7.38" fill="#00fff8"/>
<rect x="1877.0" y="222.11" width="51.5" height="7.38" fill="#00ffea"/>
<rect x="1877.0" y="228.88" width="51.5" height="7.38" fill="#00ffdd"/>
<rect x="1877.0" y="235.66" width="51.5" height="7.38" fill="#00ffcf"/>
<rect x="1877.0" y="242.43" width="51.5" height="7.38" fill="#00ffc1"/>
<rect x="1877.0" y="249.21" width="51.5" height="7.38" fill="#00ffb3"/>
<rect x="1877.0" y="255.98" width="51.5" height="7.38" fill="#00ffa5"/>
<rect x="1877.0" y="262.76" width="51.5" height="7.38" fill="#00ff98"/>
<rect x="1877.0" y="269.53" width="51.5" height="7.38" fill="#00ff8a"/>
<rect x="1877.0" y="276.31" width="51.5" height="7.38" fill="#00ff7c"/>
<rect x="1877.0" y="283.08" width="51.5" height="7.38" fill="#00ff6e"/>
<rect x="1877.0" y="289.86" width="51.5" height="7.38" fill="#00ff60"/>
<rect x="1877.0" y="296.64" width="51.5" height="7.38" fill="#00ff53"/>
<rect x="1877.0" y="303.41" width="51.5" height="7.38" fill="#00ff45"/>
<rect x="1877.0" y="310.19" width="51.5" height="7.38" fill="#00ff37"/>
<rect x="1877.0" y="316.96" width="51.5" height="7.38" fill="#00ff29"/>
<rect x="1877.0" y="323.74" width="51.5" height="7.38" fill="#00ff1c"/>
<rect x="1877.0" y="330.51" width="51.5" height="7.38" fill="#00ff0e"/>
<rect x="1877.0" y="337.29" width="51.5" height="7.38" fill="#00ff00"/>
<rect x="1877.0" y="344.06" width="51.5" height="7.38" fill="#0eff00"/>
<rect x="1877.0" y="350.84" width="51.5" height="7.38" fill="#1cff00"/>
<rect x="1877.0" y="357.61" width="51.5" height="7.38" fill="#29ff00"/>
<rect x="1877.0" y="364.39" width="51.5" height="7.38" fill="#37ff00"/>
<rect x="1877.0" y="371.16" width="51.5" height="7.38" fill="#45ff00"/>
<rect x="1877.0" y="377.94" width="51.5" height="7.38" fill="#53ff00"/>
<rect x="1877.0" y="384.71" width="51.5" height="7.38" fill="#60ff00"/>
<rect x="1877.0" y="391.49" width="51.5" height="7.38" fill="#6eff00"/>
<rect x="1877.0" y="398.27" width="51.5" height="7.38" fill="#7cff00"/>
<rect x="1877.0" y="405.04" width="51.5" height="7.38" fill="#8aff00"/>
<rect x="1877.0" y="411.82" width="51.5" height="7.38" fill="#98ff00"/>
<rect x="1877.0" y="418.59" width="51.5" height="7.38" fill="#a5ff00"/>
<rect x="1877.0" y="425.37" width="51.5" height="7.38" fill="#b3ff00"/>
<rect x="1877.0" y="432.14" width="51.5" height="7.38" fill="#c1ff00"/>
<rect x="1877.0" y="438.92" width="51.5" height="7.38" fill="#cfff00"/>
<rect x="1877.0" y="445.69" width="51.5" height="7.38" fill="#ddff00"/>
<rect x="1877.0" y="452.47" width="51.5" height="7.38" fill="#eaff00"/>
<rect x="1877.0" y="459.24" width="51.5" height="7.38" fill="#f8ff00"/>
<rect x="1877.0" y="466.02" width="51.5" height="7.38" fill="#fff800"/>
<rect x="1877.0" y="472.79" width="51.5" height="7.38" fill="#ffea00"/>
<rect x="1877.0" y="479.57" width="51.5" height="7.38" fill="#ffdd00"/>
<rect x="1877.0" y="486.34" width="51.5" height="7.38" fill="#ffcf00"/>
<rect x="1877.0" y="493.12" width="51.5" height="7.38" fill="#ffc100"/>
<rect x="1877.0" y="499.9" width="51.5" height="7.38" fill="#ffb300"/>
<rect x="1877.0" y="506.67" width="51.5" height="7.38" fill="#ffa500"/>
<rect x="1877.0" y="513.45" width="51.5" height="7.38" fill="#ff9800"/>
<rect x="1877.0" y="520.22" width="51.5" height="7.38" fill="#ff8a00"/>
<rect x="1877.0" y="527" width="51.5" height="7.38" fill="#ff7c00"/>
<rect x="1877.0" y="533.77" width="51.5" height="7.38" fill="#ff6e00"/>
<rect x="1877.0" y="540.55" width="51.5" height="7.38" fill="#ff6000"/>
<rect x="1877.0" y="547.32" width="51.5" height="7.38" fill="#ff5300"/>
<rect x="1877.0" y="554.1" width="51.5" height="7.38" fill="#ff4500"/>
<rect x="1877.0" y="560.87" width="51.5" height="7.38" fill="#ff3700"/>
<rect x="1877.0" y="567.65" width="51.5" height="7.38" fill="#ff2900"/>
<rect x="1877.0" y="574.42" width="51.5" height="7.38" fill="#ff1c00"/>
<rect x="1877.0" y="581.2" width="51.5" height="7.38" fill="#ff0e00"/>
<rect x="1877.0" y="587.97" width="51.5" height="6.78" fill="#ff0000"/>
<text transform="translate(1936.41 95.9) scale(0.99 1) rotate(0.03)" font-family="Liberation Sans, sans-serif" font-size="22.5" stroke="#000" stroke-width="0.3">0.15</text>
<text transform="translate(1936.41 129.75) scale(0.99 1) rotate(0.03)" font-family="Liberation Sans, sans-serif" font-size="22.5" stroke="#000" stroke-width="0.3">0.30</text>
<text transform="translate(1936.41 163.6) scale(0.99 1) rotate(0.03)" font-family="Liberation Sans, sans-serif" font-size="22.5" stroke="#000" stroke-width="0.3">0.45</text>
<text transform="translate(1936.41 197.45) scale(0.99 1) rotate(0.03)" font-family="Liberation Sans, sans-serif" font-size="22.5" stroke="#000" stroke-width="0.3">0.59</text>
<text transform="translate(1936.41 231.3) scale(0.99 1) rotate(0.03)" font-family="Liberation Sans, sans-serif" font-size="22.5" stroke="#000" stroke-width="0.3">0.74</text>
<text transform="translate(1936.41 265.15) scale(0.99 1) rotate(0.03)" font-family="Liberation Sans, sans-serif" font-size="22.5" stroke="#000" stroke-width="0.3">0.89</text>
<text transform="translate(1935.52 299) scale(0.99 1) rotate(0.03)" font-family="Liberation Sans, sans-serif" font-size="22.5" stroke="#000" stroke-width="0.3">1.04</text>
<text transform="translate(1935.52 332.85) scale(0.99 1) rotate(0.03)" font-family="Liberation Sans, sans-serif" font-size="22.5" stroke="#000" stroke-width="0.3">1.18</text>
<text transform="translate(1935.52 366.7) scale(0.99 1) rotate(0.03)" font-family="Liberation Sans, sans-serif" font-size="22.5" stroke="#000" stroke-width="0.3">1.33</text>
<text transform="translate(1935.52 400.55) scale(0.99 1) rotate(0.03)" font-family="Liberation Sans, sans-serif" font-size="22.5" stroke="#000" stroke-width="0.3">1.48</text>
<text transform="translate(1935.52 434.4) scale(0.99 1) rotate(0.03)" font-family="Liberation Sans, sans-serif" font-size="22.5" stroke="#000" stroke-width="0.3">1.63</text>
<text transform="translate(1935.52 468.25) scale(0.99 1) rotate(0.03)" font-family="Liberation Sans, sans-serif" font-size="22.5" stroke="#000" stroke-width="0.3">1.77</text>
<text transform="translate(1935.52 502.1) scale(0.99 1) rotate(0.03)" font-family="Liberation Sans, sans-serif" font-size="22.5" stroke="#000" stroke-width="0.3">1.92</text>
<text transform="translate(1936.19 535.95) scale(0.99 1) rotate(0.03)" font-family="Liberation Sans, sans-serif" font-size="22.5" stroke="#000" stroke-width="0.3">2.07</text>
<text transform="translate(1936.19 569.8) scale(0.99 1) rotate(0.03)" font-family="Liberation Sans, sans-serif" font-size="22.5" stroke="#000" stroke-width="0.3">2.22</text>
<text transform="translate(1936.19 603.65) scale(0.99 1) rotate(0.03)" font-family="Liberation Sans, sans-serif" font-size="22.5" stroke="#000" stroke-width="0.3">2.37</text>
<g transform="rotate(0.02 1920 50)" font-size="30" stroke="#000" stroke-width="0.35"><text x="1853.3" y="56.5" font-family="Liberation Serif, serif" font-style="italic">m</text><text x="1875.0" y="42.0" font-family="Liberation Serif, serif" font-size="18.2">I</text><text x="1888.1" y="56.5" font-family="Liberation Serif, serif">or</text><text transform="translate(1920.1 56.5) scale(1.35 1)" font-family="Liberation Serif, serif" font-style="italic" stroke="none">μ</text><text x="1936.8" y="42.0" font-family="Liberation Serif, serif" font-size="18.2">I</text><text x="1936.2" y="67.4" font-family="Liberation Serif, serif" font-size="18">0</text><text x="1952.8" y="56.3" font-family="Liberation Serif, serif" font-size="30.8">(</text><text transform="translate(1963.6 56.6) scale(1.14 1)" font-family="Liberation Sans, sans-serif" font-size="27" stroke="none">μ</text><text x="1979.3" y="67.3" font-family="Liberation Serif, serif" font-size="18">B</text><text x="1991.2" y="56.3" font-family="Liberation Serif, serif" font-size="30.8">)</text></g>
</svg>
</body></html>
